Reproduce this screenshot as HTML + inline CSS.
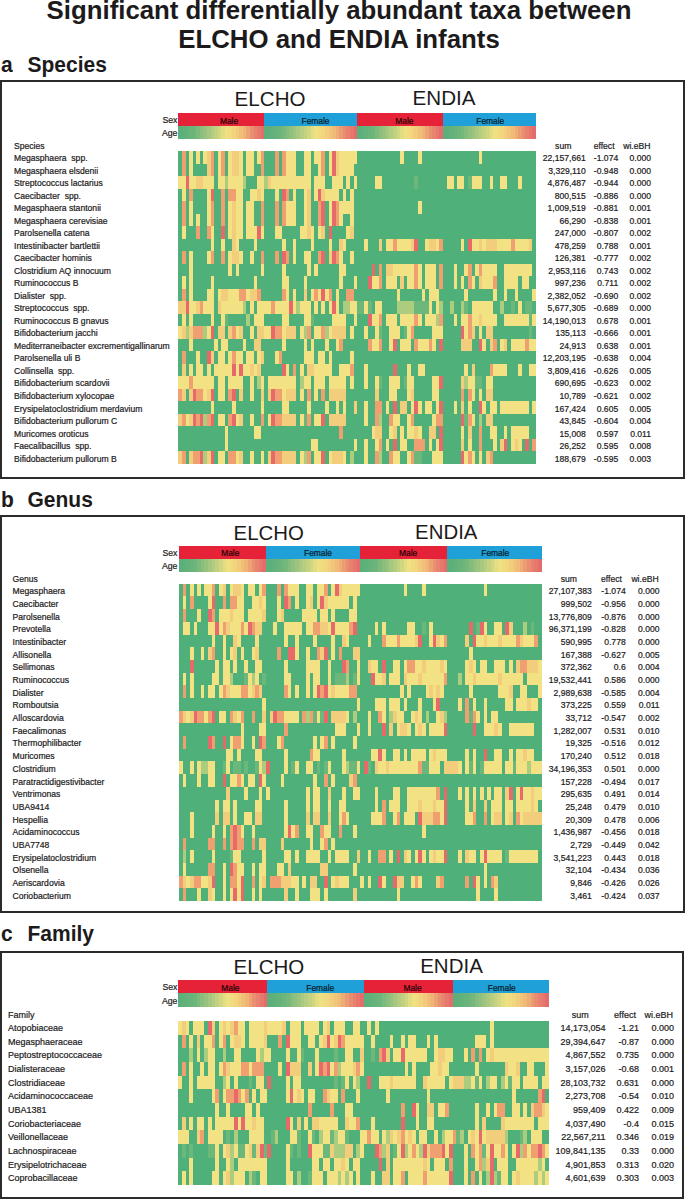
<!DOCTYPE html>
<html><head><meta charset="utf-8"><style>
html,body{margin:0;padding:0;background:#fff;}
body{width:685px;height:1199px;position:relative;overflow:hidden;font-family:"Liberation Sans", sans-serif;color:#1c1a1b;}
.t{position:absolute;white-space:pre;line-height:1;}
.s{-webkit-text-stroke:0.2px currentColor;}
.box{position:absolute;box-sizing:border-box;border:2px solid #2b2b2b;}
.h1{font-weight:bold;font-size:25.8px;left:0;width:678px;text-align:center;}
.sec{font-weight:bold;font-size:21px;}
.bar{position:absolute;}
svg{position:absolute;left:0;top:0;}
</style></head><body>

<svg width="685" height="1199" viewBox="0 0 685 1199" shape-rendering="crispEdges">
<rect x="178.40" y="113.40" width="85.82" height="12.40" fill="#e52238"/>
<rect x="178.40" y="125.80" width="3.63" height="12.80" fill="#5aaf7a"/>
<rect x="181.98" y="125.80" width="3.63" height="12.80" fill="#5fb17a"/>
<rect x="185.55" y="125.80" width="3.63" height="12.80" fill="#64b27b"/>
<rect x="189.13" y="125.80" width="3.63" height="12.80" fill="#69b47b"/>
<rect x="192.70" y="125.80" width="3.63" height="12.80" fill="#6eb57b"/>
<rect x="196.28" y="125.80" width="3.63" height="12.80" fill="#7cba7c"/>
<rect x="199.86" y="125.80" width="3.63" height="12.80" fill="#89be7d"/>
<rect x="203.43" y="125.80" width="3.63" height="12.80" fill="#97c27e"/>
<rect x="207.01" y="125.80" width="3.63" height="12.80" fill="#a6c77f"/>
<rect x="210.58" y="125.80" width="3.63" height="12.80" fill="#b4cc80"/>
<rect x="214.16" y="125.80" width="3.63" height="12.80" fill="#c1d081"/>
<rect x="217.74" y="125.80" width="3.63" height="12.80" fill="#d1d681"/>
<rect x="221.31" y="125.80" width="3.63" height="12.80" fill="#e3dd82"/>
<rect x="224.89" y="125.80" width="3.63" height="12.80" fill="#efe082"/>
<rect x="228.46" y="125.80" width="3.63" height="12.80" fill="#f1da80"/>
<rect x="232.04" y="125.80" width="3.63" height="12.80" fill="#f2d47d"/>
<rect x="235.62" y="125.80" width="3.63" height="12.80" fill="#f1ca7b"/>
<rect x="239.19" y="125.80" width="3.63" height="12.80" fill="#f0bf78"/>
<rect x="242.77" y="125.80" width="3.63" height="12.80" fill="#efb476"/>
<rect x="246.34" y="125.80" width="3.63" height="12.80" fill="#eca273"/>
<rect x="249.92" y="125.80" width="3.63" height="12.80" fill="#ea9071"/>
<rect x="253.50" y="125.80" width="3.63" height="12.80" fill="#e8836f"/>
<rect x="257.07" y="125.80" width="3.63" height="12.80" fill="#e6786d"/>
<rect x="260.65" y="125.80" width="3.63" height="12.80" fill="#e46c6b"/>
<rect x="264.22" y="113.40" width="92.98" height="12.40" fill="#1fa0d8"/>
<rect x="264.22" y="125.80" width="3.63" height="12.80" fill="#5aaf7a"/>
<rect x="267.80" y="125.80" width="3.63" height="12.80" fill="#5eb07a"/>
<rect x="271.38" y="125.80" width="3.63" height="12.80" fill="#63b27a"/>
<rect x="274.95" y="125.80" width="3.63" height="12.80" fill="#67b37b"/>
<rect x="278.53" y="125.80" width="3.63" height="12.80" fill="#6cb57b"/>
<rect x="282.10" y="125.80" width="3.63" height="12.80" fill="#76b87c"/>
<rect x="285.68" y="125.80" width="3.63" height="12.80" fill="#83bc7d"/>
<rect x="289.26" y="125.80" width="3.63" height="12.80" fill="#8fc07e"/>
<rect x="292.83" y="125.80" width="3.63" height="12.80" fill="#9cc47e"/>
<rect x="296.41" y="125.80" width="3.63" height="12.80" fill="#aac980"/>
<rect x="299.98" y="125.80" width="3.63" height="12.80" fill="#b7cd80"/>
<rect x="303.56" y="125.80" width="3.63" height="12.80" fill="#c3d181"/>
<rect x="307.14" y="125.80" width="3.63" height="12.80" fill="#d1d681"/>
<rect x="310.71" y="125.80" width="3.63" height="12.80" fill="#e2dd82"/>
<rect x="314.29" y="125.80" width="3.63" height="12.80" fill="#efe182"/>
<rect x="317.86" y="125.80" width="3.63" height="12.80" fill="#f0db80"/>
<rect x="321.44" y="125.80" width="3.63" height="12.80" fill="#f1d67e"/>
<rect x="325.02" y="125.80" width="3.63" height="12.80" fill="#f2ce7c"/>
<rect x="328.59" y="125.80" width="3.63" height="12.80" fill="#f0c47a"/>
<rect x="332.17" y="125.80" width="3.63" height="12.80" fill="#f0ba77"/>
<rect x="335.74" y="125.80" width="3.63" height="12.80" fill="#eead75"/>
<rect x="339.32" y="125.80" width="3.63" height="12.80" fill="#eb9c72"/>
<rect x="342.90" y="125.80" width="3.63" height="12.80" fill="#e98c70"/>
<rect x="346.47" y="125.80" width="3.63" height="12.80" fill="#e7816e"/>
<rect x="350.05" y="125.80" width="3.63" height="12.80" fill="#e6776d"/>
<rect x="353.62" y="125.80" width="3.63" height="12.80" fill="#e46c6b"/>
<rect x="357.20" y="113.40" width="85.82" height="12.40" fill="#e52238"/>
<rect x="357.20" y="125.80" width="3.63" height="12.80" fill="#5aaf7a"/>
<rect x="360.78" y="125.80" width="3.63" height="12.80" fill="#5fb17a"/>
<rect x="364.35" y="125.80" width="3.63" height="12.80" fill="#64b27b"/>
<rect x="367.93" y="125.80" width="3.63" height="12.80" fill="#69b47b"/>
<rect x="371.50" y="125.80" width="3.63" height="12.80" fill="#6eb57b"/>
<rect x="375.08" y="125.80" width="3.63" height="12.80" fill="#7cba7c"/>
<rect x="378.66" y="125.80" width="3.63" height="12.80" fill="#89be7d"/>
<rect x="382.23" y="125.80" width="3.63" height="12.80" fill="#97c27e"/>
<rect x="385.81" y="125.80" width="3.63" height="12.80" fill="#a6c77f"/>
<rect x="389.38" y="125.80" width="3.63" height="12.80" fill="#b4cc80"/>
<rect x="392.96" y="125.80" width="3.63" height="12.80" fill="#c1d081"/>
<rect x="396.54" y="125.80" width="3.63" height="12.80" fill="#d1d681"/>
<rect x="400.11" y="125.80" width="3.63" height="12.80" fill="#e3dd82"/>
<rect x="403.69" y="125.80" width="3.63" height="12.80" fill="#efe082"/>
<rect x="407.26" y="125.80" width="3.63" height="12.80" fill="#f1da80"/>
<rect x="410.84" y="125.80" width="3.63" height="12.80" fill="#f2d47d"/>
<rect x="414.42" y="125.80" width="3.63" height="12.80" fill="#f1ca7b"/>
<rect x="417.99" y="125.80" width="3.63" height="12.80" fill="#f0bf78"/>
<rect x="421.57" y="125.80" width="3.63" height="12.80" fill="#efb476"/>
<rect x="425.14" y="125.80" width="3.63" height="12.80" fill="#eca273"/>
<rect x="428.72" y="125.80" width="3.63" height="12.80" fill="#ea9071"/>
<rect x="432.30" y="125.80" width="3.63" height="12.80" fill="#e8836f"/>
<rect x="435.87" y="125.80" width="3.63" height="12.80" fill="#e6786d"/>
<rect x="439.45" y="125.80" width="3.63" height="12.80" fill="#e46c6b"/>
<rect x="443.02" y="113.40" width="92.98" height="12.40" fill="#1fa0d8"/>
<rect x="443.02" y="125.80" width="3.63" height="12.80" fill="#5aaf7a"/>
<rect x="446.60" y="125.80" width="3.63" height="12.80" fill="#5eb07a"/>
<rect x="450.18" y="125.80" width="3.63" height="12.80" fill="#63b27a"/>
<rect x="453.75" y="125.80" width="3.63" height="12.80" fill="#67b37b"/>
<rect x="457.33" y="125.80" width="3.63" height="12.80" fill="#6cb57b"/>
<rect x="460.90" y="125.80" width="3.63" height="12.80" fill="#76b87c"/>
<rect x="464.48" y="125.80" width="3.63" height="12.80" fill="#83bc7d"/>
<rect x="468.06" y="125.80" width="3.63" height="12.80" fill="#8fc07e"/>
<rect x="471.63" y="125.80" width="3.63" height="12.80" fill="#9cc47e"/>
<rect x="475.21" y="125.80" width="3.63" height="12.80" fill="#aac980"/>
<rect x="478.78" y="125.80" width="3.63" height="12.80" fill="#b7cd80"/>
<rect x="482.36" y="125.80" width="3.63" height="12.80" fill="#c3d181"/>
<rect x="485.94" y="125.80" width="3.63" height="12.80" fill="#d1d681"/>
<rect x="489.51" y="125.80" width="3.63" height="12.80" fill="#e2dd82"/>
<rect x="493.09" y="125.80" width="3.63" height="12.80" fill="#efe182"/>
<rect x="496.66" y="125.80" width="3.63" height="12.80" fill="#f0db80"/>
<rect x="500.24" y="125.80" width="3.63" height="12.80" fill="#f1d67e"/>
<rect x="503.82" y="125.80" width="3.63" height="12.80" fill="#f2ce7c"/>
<rect x="507.39" y="125.80" width="3.63" height="12.80" fill="#f0c47a"/>
<rect x="510.97" y="125.80" width="3.63" height="12.80" fill="#f0ba77"/>
<rect x="514.54" y="125.80" width="3.63" height="12.80" fill="#eead75"/>
<rect x="518.12" y="125.80" width="3.63" height="12.80" fill="#eb9c72"/>
<rect x="521.70" y="125.80" width="3.63" height="12.80" fill="#e98c70"/>
<rect x="525.27" y="125.80" width="3.63" height="12.80" fill="#e7816e"/>
<rect x="528.85" y="125.80" width="3.63" height="12.80" fill="#e6776d"/>
<rect x="532.42" y="125.80" width="3.63" height="12.80" fill="#e46c6b"/>
<rect x="178.40" y="151.00" width="4.28" height="13.22" fill="#50b07a"/>
<rect x="181.98" y="151.00" width="4.28" height="13.22" fill="#f0a070"/>
<rect x="185.55" y="151.00" width="4.28" height="13.22" fill="#50b07a"/>
<rect x="189.13" y="151.00" width="4.28" height="13.22" fill="#f3e283"/>
<rect x="192.70" y="151.00" width="4.28" height="13.22" fill="#50b07a"/>
<rect x="196.28" y="151.00" width="4.28" height="13.22" fill="#f3e283"/>
<rect x="199.86" y="151.00" width="4.28" height="13.22" fill="#50b07a"/>
<rect x="203.43" y="151.00" width="4.28" height="13.22" fill="#f3e283"/>
<rect x="207.01" y="151.00" width="4.28" height="13.22" fill="#f2ce7c"/>
<rect x="210.58" y="151.00" width="4.28" height="13.22" fill="#f0a070"/>
<rect x="214.16" y="151.00" width="4.28" height="13.22" fill="#50b07a"/>
<rect x="217.74" y="151.00" width="4.28" height="13.22" fill="#f3e283"/>
<rect x="221.31" y="151.00" width="4.28" height="13.22" fill="#f0a070"/>
<rect x="224.89" y="151.00" width="4.28" height="13.22" fill="#50b07a"/>
<rect x="228.46" y="151.00" width="4.28" height="13.22" fill="#f3e283"/>
<rect x="232.04" y="151.00" width="7.85" height="13.22" fill="#f2ce7c"/>
<rect x="239.19" y="151.00" width="4.28" height="13.22" fill="#f3e283"/>
<rect x="242.77" y="151.00" width="4.28" height="13.22" fill="#50b07a"/>
<rect x="246.34" y="151.00" width="7.85" height="13.22" fill="#f3e283"/>
<rect x="253.50" y="151.00" width="4.28" height="13.22" fill="#50b07a"/>
<rect x="257.07" y="151.00" width="4.28" height="13.22" fill="#f3e283"/>
<rect x="260.65" y="151.00" width="4.28" height="13.22" fill="#f0a070"/>
<rect x="264.22" y="151.00" width="11.43" height="13.22" fill="#50b07a"/>
<rect x="274.95" y="151.00" width="4.28" height="13.22" fill="#f0a070"/>
<rect x="278.53" y="151.00" width="4.28" height="13.22" fill="#50b07a"/>
<rect x="282.10" y="151.00" width="4.28" height="13.22" fill="#f0a070"/>
<rect x="285.68" y="151.00" width="11.43" height="13.22" fill="#f3e283"/>
<rect x="296.41" y="151.00" width="7.85" height="13.22" fill="#50b07a"/>
<rect x="303.56" y="151.00" width="7.85" height="13.22" fill="#f3e283"/>
<rect x="310.71" y="151.00" width="4.28" height="13.22" fill="#50b07a"/>
<rect x="314.29" y="151.00" width="7.85" height="13.22" fill="#f3e283"/>
<rect x="321.44" y="151.00" width="4.28" height="13.22" fill="#f0a070"/>
<rect x="325.02" y="151.00" width="4.28" height="13.22" fill="#50b07a"/>
<rect x="328.59" y="151.00" width="4.28" height="13.22" fill="#f3e283"/>
<rect x="332.17" y="151.00" width="4.28" height="13.22" fill="#e76a6a"/>
<rect x="335.74" y="151.00" width="4.28" height="13.22" fill="#f2ce7c"/>
<rect x="339.32" y="151.00" width="18.58" height="13.22" fill="#f3e283"/>
<rect x="357.20" y="151.00" width="43.61" height="13.22" fill="#50b07a"/>
<rect x="400.11" y="151.00" width="4.28" height="13.22" fill="#f3e283"/>
<rect x="403.69" y="151.00" width="15.00" height="13.22" fill="#50b07a"/>
<rect x="417.99" y="151.00" width="4.28" height="13.22" fill="#f3e283"/>
<rect x="421.57" y="151.00" width="57.92" height="13.22" fill="#50b07a"/>
<rect x="478.78" y="151.00" width="4.28" height="13.22" fill="#f3e283"/>
<rect x="482.36" y="151.00" width="53.64" height="13.22" fill="#50b07a"/>
<rect x="178.40" y="163.52" width="4.28" height="13.22" fill="#50b07a"/>
<rect x="181.98" y="163.52" width="4.28" height="13.22" fill="#f0a070"/>
<rect x="185.55" y="163.52" width="4.28" height="13.22" fill="#50b07a"/>
<rect x="189.13" y="163.52" width="4.28" height="13.22" fill="#f3e283"/>
<rect x="192.70" y="163.52" width="15.00" height="13.22" fill="#50b07a"/>
<rect x="207.01" y="163.52" width="4.28" height="13.22" fill="#f2ce7c"/>
<rect x="210.58" y="163.52" width="4.28" height="13.22" fill="#f0a070"/>
<rect x="214.16" y="163.52" width="4.28" height="13.22" fill="#50b07a"/>
<rect x="217.74" y="163.52" width="4.28" height="13.22" fill="#f3e283"/>
<rect x="221.31" y="163.52" width="4.28" height="13.22" fill="#f0a070"/>
<rect x="224.89" y="163.52" width="4.28" height="13.22" fill="#50b07a"/>
<rect x="228.46" y="163.52" width="4.28" height="13.22" fill="#f3e283"/>
<rect x="232.04" y="163.52" width="7.85" height="13.22" fill="#f2ce7c"/>
<rect x="239.19" y="163.52" width="4.28" height="13.22" fill="#f3e283"/>
<rect x="242.77" y="163.52" width="4.28" height="13.22" fill="#50b07a"/>
<rect x="246.34" y="163.52" width="7.85" height="13.22" fill="#f3e283"/>
<rect x="253.50" y="163.52" width="7.85" height="13.22" fill="#50b07a"/>
<rect x="260.65" y="163.52" width="4.28" height="13.22" fill="#f0a070"/>
<rect x="264.22" y="163.52" width="11.43" height="13.22" fill="#50b07a"/>
<rect x="274.95" y="163.52" width="4.28" height="13.22" fill="#f0a070"/>
<rect x="278.53" y="163.52" width="4.28" height="13.22" fill="#50b07a"/>
<rect x="282.10" y="163.52" width="4.28" height="13.22" fill="#f0a070"/>
<rect x="285.68" y="163.52" width="11.43" height="13.22" fill="#f3e283"/>
<rect x="296.41" y="163.52" width="7.85" height="13.22" fill="#50b07a"/>
<rect x="303.56" y="163.52" width="7.85" height="13.22" fill="#f3e283"/>
<rect x="310.71" y="163.52" width="7.85" height="13.22" fill="#50b07a"/>
<rect x="317.86" y="163.52" width="4.28" height="13.22" fill="#f3e283"/>
<rect x="321.44" y="163.52" width="4.28" height="13.22" fill="#f0a070"/>
<rect x="325.02" y="163.52" width="4.28" height="13.22" fill="#50b07a"/>
<rect x="328.59" y="163.52" width="4.28" height="13.22" fill="#f3e283"/>
<rect x="332.17" y="163.52" width="4.28" height="13.22" fill="#e76a6a"/>
<rect x="335.74" y="163.52" width="4.28" height="13.22" fill="#f2ce7c"/>
<rect x="339.32" y="163.52" width="15.00" height="13.22" fill="#f3e283"/>
<rect x="353.62" y="163.52" width="182.38" height="13.22" fill="#50b07a"/>
<rect x="178.40" y="176.04" width="7.85" height="13.22" fill="#f3e283"/>
<rect x="185.55" y="176.04" width="4.28" height="13.22" fill="#e76a6a"/>
<rect x="189.13" y="176.04" width="7.85" height="13.22" fill="#f3e283"/>
<rect x="196.28" y="176.04" width="7.85" height="13.22" fill="#f2ce7c"/>
<rect x="203.43" y="176.04" width="11.43" height="13.22" fill="#f3e283"/>
<rect x="214.16" y="176.04" width="4.28" height="13.22" fill="#50b07a"/>
<rect x="217.74" y="176.04" width="7.85" height="13.22" fill="#f3e283"/>
<rect x="224.89" y="176.04" width="4.28" height="13.22" fill="#accc7e"/>
<rect x="228.46" y="176.04" width="15.00" height="13.22" fill="#f3e283"/>
<rect x="242.77" y="176.04" width="4.28" height="13.22" fill="#accc7e"/>
<rect x="246.34" y="176.04" width="11.43" height="13.22" fill="#50b07a"/>
<rect x="257.07" y="176.04" width="7.85" height="13.22" fill="#f3e283"/>
<rect x="264.22" y="176.04" width="4.28" height="13.22" fill="#accc7e"/>
<rect x="267.80" y="176.04" width="4.28" height="13.22" fill="#f2ce7c"/>
<rect x="271.38" y="176.04" width="40.04" height="13.22" fill="#f3e283"/>
<rect x="310.71" y="176.04" width="4.28" height="13.22" fill="#50b07a"/>
<rect x="314.29" y="176.04" width="11.43" height="13.22" fill="#f3e283"/>
<rect x="325.02" y="176.04" width="7.85" height="13.22" fill="#50b07a"/>
<rect x="332.17" y="176.04" width="11.43" height="13.22" fill="#f3e283"/>
<rect x="342.90" y="176.04" width="4.28" height="13.22" fill="#50b07a"/>
<rect x="346.47" y="176.04" width="4.28" height="13.22" fill="#f3e283"/>
<rect x="350.05" y="176.04" width="4.28" height="13.22" fill="#50b07a"/>
<rect x="353.62" y="176.04" width="4.28" height="13.22" fill="#f3e283"/>
<rect x="357.20" y="176.04" width="18.58" height="13.22" fill="#50b07a"/>
<rect x="375.08" y="176.04" width="7.85" height="13.22" fill="#f3e283"/>
<rect x="382.23" y="176.04" width="32.88" height="13.22" fill="#50b07a"/>
<rect x="414.42" y="176.04" width="4.28" height="13.22" fill="#6cb87b"/>
<rect x="417.99" y="176.04" width="29.31" height="13.22" fill="#50b07a"/>
<rect x="446.60" y="176.04" width="7.85" height="13.22" fill="#f3e283"/>
<rect x="453.75" y="176.04" width="4.28" height="13.22" fill="#50b07a"/>
<rect x="457.33" y="176.04" width="7.85" height="13.22" fill="#f3e283"/>
<rect x="464.48" y="176.04" width="4.28" height="13.22" fill="#50b07a"/>
<rect x="468.06" y="176.04" width="4.28" height="13.22" fill="#6cb87b"/>
<rect x="471.63" y="176.04" width="11.43" height="13.22" fill="#f3e283"/>
<rect x="482.36" y="176.04" width="7.85" height="13.22" fill="#50b07a"/>
<rect x="489.51" y="176.04" width="4.28" height="13.22" fill="#f3e283"/>
<rect x="493.09" y="176.04" width="7.85" height="13.22" fill="#50b07a"/>
<rect x="500.24" y="176.04" width="7.85" height="13.22" fill="#f3e283"/>
<rect x="507.39" y="176.04" width="11.43" height="13.22" fill="#50b07a"/>
<rect x="518.12" y="176.04" width="4.28" height="13.22" fill="#f3e283"/>
<rect x="521.70" y="176.04" width="14.30" height="13.22" fill="#50b07a"/>
<rect x="178.40" y="188.56" width="4.28" height="13.22" fill="#50b07a"/>
<rect x="181.98" y="188.56" width="4.28" height="13.22" fill="#f3e283"/>
<rect x="185.55" y="188.56" width="4.28" height="13.22" fill="#50b07a"/>
<rect x="189.13" y="188.56" width="4.28" height="13.22" fill="#f0a070"/>
<rect x="192.70" y="188.56" width="15.00" height="13.22" fill="#50b07a"/>
<rect x="207.01" y="188.56" width="4.28" height="13.22" fill="#f3e283"/>
<rect x="210.58" y="188.56" width="4.28" height="13.22" fill="#e76a6a"/>
<rect x="214.16" y="188.56" width="7.85" height="13.22" fill="#50b07a"/>
<rect x="221.31" y="188.56" width="4.28" height="13.22" fill="#f0a070"/>
<rect x="224.89" y="188.56" width="4.28" height="13.22" fill="#50b07a"/>
<rect x="228.46" y="188.56" width="7.85" height="13.22" fill="#f0a070"/>
<rect x="235.62" y="188.56" width="7.85" height="13.22" fill="#f3e283"/>
<rect x="242.77" y="188.56" width="7.85" height="13.22" fill="#50b07a"/>
<rect x="249.92" y="188.56" width="7.85" height="13.22" fill="#f3e283"/>
<rect x="257.07" y="188.56" width="4.28" height="13.22" fill="#f2ce7c"/>
<rect x="260.65" y="188.56" width="4.28" height="13.22" fill="#f3e283"/>
<rect x="264.22" y="188.56" width="11.43" height="13.22" fill="#50b07a"/>
<rect x="274.95" y="188.56" width="4.28" height="13.22" fill="#f3e283"/>
<rect x="278.53" y="188.56" width="4.28" height="13.22" fill="#50b07a"/>
<rect x="282.10" y="188.56" width="4.28" height="13.22" fill="#e76a6a"/>
<rect x="285.68" y="188.56" width="4.28" height="13.22" fill="#f0a070"/>
<rect x="289.26" y="188.56" width="4.28" height="13.22" fill="#50b07a"/>
<rect x="292.83" y="188.56" width="4.28" height="13.22" fill="#f3e283"/>
<rect x="296.41" y="188.56" width="7.85" height="13.22" fill="#50b07a"/>
<rect x="303.56" y="188.56" width="4.28" height="13.22" fill="#f3e283"/>
<rect x="307.14" y="188.56" width="4.28" height="13.22" fill="#f2ce7c"/>
<rect x="310.71" y="188.56" width="4.28" height="13.22" fill="#50b07a"/>
<rect x="314.29" y="188.56" width="4.28" height="13.22" fill="#f3e283"/>
<rect x="317.86" y="188.56" width="4.28" height="13.22" fill="#e76a6a"/>
<rect x="321.44" y="188.56" width="4.28" height="13.22" fill="#f2ce7c"/>
<rect x="325.02" y="188.56" width="15.00" height="13.22" fill="#f3e283"/>
<rect x="339.32" y="188.56" width="4.28" height="13.22" fill="#50b07a"/>
<rect x="342.90" y="188.56" width="4.28" height="13.22" fill="#f3e283"/>
<rect x="346.47" y="188.56" width="4.28" height="13.22" fill="#50b07a"/>
<rect x="350.05" y="188.56" width="4.28" height="13.22" fill="#f3e283"/>
<rect x="353.62" y="188.56" width="182.38" height="13.22" fill="#50b07a"/>
<rect x="178.40" y="201.08" width="4.28" height="13.22" fill="#50b07a"/>
<rect x="181.98" y="201.08" width="4.28" height="13.22" fill="#f0a070"/>
<rect x="185.55" y="201.08" width="4.28" height="13.22" fill="#50b07a"/>
<rect x="189.13" y="201.08" width="4.28" height="13.22" fill="#f3e283"/>
<rect x="192.70" y="201.08" width="15.00" height="13.22" fill="#50b07a"/>
<rect x="207.01" y="201.08" width="4.28" height="13.22" fill="#f3e283"/>
<rect x="210.58" y="201.08" width="4.28" height="13.22" fill="#f0a070"/>
<rect x="214.16" y="201.08" width="7.85" height="13.22" fill="#50b07a"/>
<rect x="221.31" y="201.08" width="4.28" height="13.22" fill="#f0a070"/>
<rect x="224.89" y="201.08" width="4.28" height="13.22" fill="#50b07a"/>
<rect x="228.46" y="201.08" width="4.28" height="13.22" fill="#f3e283"/>
<rect x="232.04" y="201.08" width="4.28" height="13.22" fill="#f2ce7c"/>
<rect x="235.62" y="201.08" width="7.85" height="13.22" fill="#f3e283"/>
<rect x="242.77" y="201.08" width="4.28" height="13.22" fill="#50b07a"/>
<rect x="246.34" y="201.08" width="7.85" height="13.22" fill="#f3e283"/>
<rect x="253.50" y="201.08" width="7.85" height="13.22" fill="#50b07a"/>
<rect x="260.65" y="201.08" width="4.28" height="13.22" fill="#f0a070"/>
<rect x="264.22" y="201.08" width="11.43" height="13.22" fill="#50b07a"/>
<rect x="274.95" y="201.08" width="4.28" height="13.22" fill="#f0a070"/>
<rect x="278.53" y="201.08" width="4.28" height="13.22" fill="#50b07a"/>
<rect x="282.10" y="201.08" width="4.28" height="13.22" fill="#f0a070"/>
<rect x="285.68" y="201.08" width="11.43" height="13.22" fill="#f3e283"/>
<rect x="296.41" y="201.08" width="7.85" height="13.22" fill="#50b07a"/>
<rect x="303.56" y="201.08" width="4.28" height="13.22" fill="#f3e283"/>
<rect x="307.14" y="201.08" width="4.28" height="13.22" fill="#f2ce7c"/>
<rect x="310.71" y="201.08" width="7.85" height="13.22" fill="#50b07a"/>
<rect x="317.86" y="201.08" width="4.28" height="13.22" fill="#f0a070"/>
<rect x="321.44" y="201.08" width="4.28" height="13.22" fill="#e76a6a"/>
<rect x="325.02" y="201.08" width="4.28" height="13.22" fill="#50b07a"/>
<rect x="328.59" y="201.08" width="4.28" height="13.22" fill="#f3e283"/>
<rect x="332.17" y="201.08" width="4.28" height="13.22" fill="#e76a6a"/>
<rect x="335.74" y="201.08" width="4.28" height="13.22" fill="#f0a070"/>
<rect x="339.32" y="201.08" width="15.00" height="13.22" fill="#f3e283"/>
<rect x="353.62" y="201.08" width="65.07" height="13.22" fill="#50b07a"/>
<rect x="417.99" y="201.08" width="4.28" height="13.22" fill="#f3e283"/>
<rect x="421.57" y="201.08" width="114.43" height="13.22" fill="#50b07a"/>
<rect x="178.40" y="213.60" width="4.28" height="13.22" fill="#50b07a"/>
<rect x="181.98" y="213.60" width="4.28" height="13.22" fill="#f0a070"/>
<rect x="185.55" y="213.60" width="4.28" height="13.22" fill="#50b07a"/>
<rect x="189.13" y="213.60" width="4.28" height="13.22" fill="#f3e283"/>
<rect x="192.70" y="213.60" width="4.28" height="13.22" fill="#50b07a"/>
<rect x="196.28" y="213.60" width="4.28" height="13.22" fill="#f3e283"/>
<rect x="199.86" y="213.60" width="7.85" height="13.22" fill="#50b07a"/>
<rect x="207.01" y="213.60" width="4.28" height="13.22" fill="#f3e283"/>
<rect x="210.58" y="213.60" width="4.28" height="13.22" fill="#f0a070"/>
<rect x="214.16" y="213.60" width="7.85" height="13.22" fill="#50b07a"/>
<rect x="221.31" y="213.60" width="4.28" height="13.22" fill="#f0a070"/>
<rect x="224.89" y="213.60" width="4.28" height="13.22" fill="#50b07a"/>
<rect x="228.46" y="213.60" width="4.28" height="13.22" fill="#f3e283"/>
<rect x="232.04" y="213.60" width="4.28" height="13.22" fill="#f2ce7c"/>
<rect x="235.62" y="213.60" width="7.85" height="13.22" fill="#f3e283"/>
<rect x="242.77" y="213.60" width="4.28" height="13.22" fill="#50b07a"/>
<rect x="246.34" y="213.60" width="7.85" height="13.22" fill="#f3e283"/>
<rect x="253.50" y="213.60" width="7.85" height="13.22" fill="#50b07a"/>
<rect x="260.65" y="213.60" width="4.28" height="13.22" fill="#f0a070"/>
<rect x="264.22" y="213.60" width="11.43" height="13.22" fill="#50b07a"/>
<rect x="274.95" y="213.60" width="4.28" height="13.22" fill="#f0a070"/>
<rect x="278.53" y="213.60" width="4.28" height="13.22" fill="#50b07a"/>
<rect x="282.10" y="213.60" width="4.28" height="13.22" fill="#f0a070"/>
<rect x="285.68" y="213.60" width="11.43" height="13.22" fill="#f3e283"/>
<rect x="296.41" y="213.60" width="7.85" height="13.22" fill="#50b07a"/>
<rect x="303.56" y="213.60" width="4.28" height="13.22" fill="#f3e283"/>
<rect x="307.14" y="213.60" width="4.28" height="13.22" fill="#f2ce7c"/>
<rect x="310.71" y="213.60" width="7.85" height="13.22" fill="#50b07a"/>
<rect x="317.86" y="213.60" width="4.28" height="13.22" fill="#f0a070"/>
<rect x="321.44" y="213.60" width="4.28" height="13.22" fill="#e76a6a"/>
<rect x="325.02" y="213.60" width="4.28" height="13.22" fill="#50b07a"/>
<rect x="328.59" y="213.60" width="4.28" height="13.22" fill="#f3e283"/>
<rect x="332.17" y="213.60" width="4.28" height="13.22" fill="#e76a6a"/>
<rect x="335.74" y="213.60" width="4.28" height="13.22" fill="#f0a070"/>
<rect x="339.32" y="213.60" width="4.28" height="13.22" fill="#f3e283"/>
<rect x="342.90" y="213.60" width="7.85" height="13.22" fill="#50b07a"/>
<rect x="350.05" y="213.60" width="4.28" height="13.22" fill="#f3e283"/>
<rect x="353.62" y="213.60" width="182.38" height="13.22" fill="#50b07a"/>
<rect x="178.40" y="226.12" width="4.28" height="13.22" fill="#50b07a"/>
<rect x="181.98" y="226.12" width="4.28" height="13.22" fill="#f3e283"/>
<rect x="185.55" y="226.12" width="11.43" height="13.22" fill="#50b07a"/>
<rect x="196.28" y="226.12" width="4.28" height="13.22" fill="#f0a070"/>
<rect x="199.86" y="226.12" width="7.85" height="13.22" fill="#50b07a"/>
<rect x="207.01" y="226.12" width="4.28" height="13.22" fill="#f0a070"/>
<rect x="210.58" y="226.12" width="4.28" height="13.22" fill="#f3e283"/>
<rect x="214.16" y="226.12" width="7.85" height="13.22" fill="#50b07a"/>
<rect x="221.31" y="226.12" width="4.28" height="13.22" fill="#e76a6a"/>
<rect x="224.89" y="226.12" width="4.28" height="13.22" fill="#50b07a"/>
<rect x="228.46" y="226.12" width="4.28" height="13.22" fill="#f3e283"/>
<rect x="232.04" y="226.12" width="4.28" height="13.22" fill="#f2ce7c"/>
<rect x="235.62" y="226.12" width="7.85" height="13.22" fill="#f3e283"/>
<rect x="242.77" y="226.12" width="4.28" height="13.22" fill="#50b07a"/>
<rect x="246.34" y="226.12" width="11.43" height="13.22" fill="#f3e283"/>
<rect x="257.07" y="226.12" width="4.28" height="13.22" fill="#e76a6a"/>
<rect x="260.65" y="226.12" width="4.28" height="13.22" fill="#f3e283"/>
<rect x="264.22" y="226.12" width="11.43" height="13.22" fill="#50b07a"/>
<rect x="274.95" y="226.12" width="7.85" height="13.22" fill="#f3e283"/>
<rect x="282.10" y="226.12" width="18.58" height="13.22" fill="#50b07a"/>
<rect x="299.98" y="226.12" width="7.85" height="13.22" fill="#f3e283"/>
<rect x="307.14" y="226.12" width="4.28" height="13.22" fill="#f2ce7c"/>
<rect x="310.71" y="226.12" width="4.28" height="13.22" fill="#f3e283"/>
<rect x="314.29" y="226.12" width="4.28" height="13.22" fill="#50b07a"/>
<rect x="317.86" y="226.12" width="4.28" height="13.22" fill="#f3e283"/>
<rect x="321.44" y="226.12" width="4.28" height="13.22" fill="#f2ce7c"/>
<rect x="325.02" y="226.12" width="4.28" height="13.22" fill="#50b07a"/>
<rect x="328.59" y="226.12" width="4.28" height="13.22" fill="#e76a6a"/>
<rect x="332.17" y="226.12" width="15.00" height="13.22" fill="#50b07a"/>
<rect x="346.47" y="226.12" width="4.28" height="13.22" fill="#f3e283"/>
<rect x="350.05" y="226.12" width="4.28" height="13.22" fill="#f2ce7c"/>
<rect x="353.62" y="226.12" width="182.38" height="13.22" fill="#50b07a"/>
<rect x="178.40" y="238.64" width="32.88" height="13.22" fill="#50b07a"/>
<rect x="210.58" y="238.64" width="4.28" height="13.22" fill="#f3e283"/>
<rect x="214.16" y="238.64" width="7.85" height="13.22" fill="#50b07a"/>
<rect x="221.31" y="238.64" width="4.28" height="13.22" fill="#f3e283"/>
<rect x="224.89" y="238.64" width="7.85" height="13.22" fill="#50b07a"/>
<rect x="232.04" y="238.64" width="4.28" height="13.22" fill="#f2ce7c"/>
<rect x="235.62" y="238.64" width="4.28" height="13.22" fill="#f3e283"/>
<rect x="239.19" y="238.64" width="15.00" height="13.22" fill="#50b07a"/>
<rect x="253.50" y="238.64" width="4.28" height="13.22" fill="#f3e283"/>
<rect x="257.07" y="238.64" width="25.73" height="13.22" fill="#50b07a"/>
<rect x="282.10" y="238.64" width="4.28" height="13.22" fill="#f3e283"/>
<rect x="285.68" y="238.64" width="7.85" height="13.22" fill="#50b07a"/>
<rect x="292.83" y="238.64" width="4.28" height="13.22" fill="#f3e283"/>
<rect x="296.41" y="238.64" width="15.00" height="13.22" fill="#50b07a"/>
<rect x="310.71" y="238.64" width="4.28" height="13.22" fill="#f3e283"/>
<rect x="314.29" y="238.64" width="15.00" height="13.22" fill="#50b07a"/>
<rect x="328.59" y="238.64" width="4.28" height="13.22" fill="#f3e283"/>
<rect x="332.17" y="238.64" width="7.85" height="13.22" fill="#50b07a"/>
<rect x="339.32" y="238.64" width="4.28" height="13.22" fill="#f2ce7c"/>
<rect x="342.90" y="238.64" width="4.28" height="13.22" fill="#f3e283"/>
<rect x="346.47" y="238.64" width="18.58" height="13.22" fill="#50b07a"/>
<rect x="364.35" y="238.64" width="4.28" height="13.22" fill="#f3e283"/>
<rect x="367.93" y="238.64" width="11.43" height="13.22" fill="#50b07a"/>
<rect x="378.66" y="238.64" width="4.28" height="13.22" fill="#f2ce7c"/>
<rect x="382.23" y="238.64" width="4.28" height="13.22" fill="#50b07a"/>
<rect x="385.81" y="238.64" width="7.85" height="13.22" fill="#f3e283"/>
<rect x="392.96" y="238.64" width="4.28" height="13.22" fill="#f0a070"/>
<rect x="396.54" y="238.64" width="15.00" height="13.22" fill="#f3e283"/>
<rect x="410.84" y="238.64" width="4.28" height="13.22" fill="#f2ce7c"/>
<rect x="414.42" y="238.64" width="4.28" height="13.22" fill="#e76a6a"/>
<rect x="417.99" y="238.64" width="7.85" height="13.22" fill="#50b07a"/>
<rect x="425.14" y="238.64" width="4.28" height="13.22" fill="#f3e283"/>
<rect x="428.72" y="238.64" width="7.85" height="13.22" fill="#f2ce7c"/>
<rect x="435.87" y="238.64" width="4.28" height="13.22" fill="#f3e283"/>
<rect x="439.45" y="238.64" width="4.28" height="13.22" fill="#f0a070"/>
<rect x="443.02" y="238.64" width="18.58" height="13.22" fill="#50b07a"/>
<rect x="460.90" y="238.64" width="4.28" height="13.22" fill="#f3e283"/>
<rect x="464.48" y="238.64" width="4.28" height="13.22" fill="#50b07a"/>
<rect x="468.06" y="238.64" width="4.28" height="13.22" fill="#e76a6a"/>
<rect x="471.63" y="238.64" width="7.85" height="13.22" fill="#f3e283"/>
<rect x="478.78" y="238.64" width="4.28" height="13.22" fill="#f2ce7c"/>
<rect x="482.36" y="238.64" width="4.28" height="13.22" fill="#f3e283"/>
<rect x="485.94" y="238.64" width="11.43" height="13.22" fill="#f2ce7c"/>
<rect x="496.66" y="238.64" width="15.00" height="13.22" fill="#f3e283"/>
<rect x="510.97" y="238.64" width="4.28" height="13.22" fill="#f0a070"/>
<rect x="514.54" y="238.64" width="15.00" height="13.22" fill="#f3e283"/>
<rect x="528.85" y="238.64" width="4.28" height="13.22" fill="#f2ce7c"/>
<rect x="532.42" y="238.64" width="3.58" height="13.22" fill="#50b07a"/>
<rect x="178.40" y="251.16" width="4.28" height="13.22" fill="#50b07a"/>
<rect x="181.98" y="251.16" width="4.28" height="13.22" fill="#f0a070"/>
<rect x="185.55" y="251.16" width="4.28" height="13.22" fill="#50b07a"/>
<rect x="189.13" y="251.16" width="4.28" height="13.22" fill="#f3e283"/>
<rect x="192.70" y="251.16" width="15.00" height="13.22" fill="#50b07a"/>
<rect x="207.01" y="251.16" width="4.28" height="13.22" fill="#f3e283"/>
<rect x="210.58" y="251.16" width="4.28" height="13.22" fill="#f0a070"/>
<rect x="214.16" y="251.16" width="7.85" height="13.22" fill="#50b07a"/>
<rect x="221.31" y="251.16" width="4.28" height="13.22" fill="#f0a070"/>
<rect x="224.89" y="251.16" width="4.28" height="13.22" fill="#50b07a"/>
<rect x="228.46" y="251.16" width="4.28" height="13.22" fill="#f3e283"/>
<rect x="232.04" y="251.16" width="7.85" height="13.22" fill="#f2ce7c"/>
<rect x="239.19" y="251.16" width="4.28" height="13.22" fill="#f3e283"/>
<rect x="242.77" y="251.16" width="7.85" height="13.22" fill="#50b07a"/>
<rect x="249.92" y="251.16" width="4.28" height="13.22" fill="#f3e283"/>
<rect x="253.50" y="251.16" width="7.85" height="13.22" fill="#50b07a"/>
<rect x="260.65" y="251.16" width="4.28" height="13.22" fill="#f0a070"/>
<rect x="264.22" y="251.16" width="11.43" height="13.22" fill="#50b07a"/>
<rect x="274.95" y="251.16" width="4.28" height="13.22" fill="#f0a070"/>
<rect x="278.53" y="251.16" width="4.28" height="13.22" fill="#50b07a"/>
<rect x="282.10" y="251.16" width="4.28" height="13.22" fill="#e76a6a"/>
<rect x="285.68" y="251.16" width="4.28" height="13.22" fill="#f0a070"/>
<rect x="289.26" y="251.16" width="4.28" height="13.22" fill="#50b07a"/>
<rect x="292.83" y="251.16" width="4.28" height="13.22" fill="#f3e283"/>
<rect x="296.41" y="251.16" width="7.85" height="13.22" fill="#50b07a"/>
<rect x="303.56" y="251.16" width="7.85" height="13.22" fill="#f3e283"/>
<rect x="310.71" y="251.16" width="7.85" height="13.22" fill="#50b07a"/>
<rect x="317.86" y="251.16" width="4.28" height="13.22" fill="#f0a070"/>
<rect x="321.44" y="251.16" width="4.28" height="13.22" fill="#e76a6a"/>
<rect x="325.02" y="251.16" width="4.28" height="13.22" fill="#50b07a"/>
<rect x="328.59" y="251.16" width="4.28" height="13.22" fill="#f2ce7c"/>
<rect x="332.17" y="251.16" width="4.28" height="13.22" fill="#e76a6a"/>
<rect x="335.74" y="251.16" width="4.28" height="13.22" fill="#f0a070"/>
<rect x="339.32" y="251.16" width="4.28" height="13.22" fill="#f3e283"/>
<rect x="342.90" y="251.16" width="7.85" height="13.22" fill="#50b07a"/>
<rect x="350.05" y="251.16" width="4.28" height="13.22" fill="#f3e283"/>
<rect x="353.62" y="251.16" width="182.38" height="13.22" fill="#50b07a"/>
<rect x="178.40" y="263.68" width="11.43" height="13.22" fill="#50b07a"/>
<rect x="189.13" y="263.68" width="4.28" height="13.22" fill="#f3e283"/>
<rect x="192.70" y="263.68" width="36.46" height="13.22" fill="#50b07a"/>
<rect x="228.46" y="263.68" width="4.28" height="13.22" fill="#f3e283"/>
<rect x="232.04" y="263.68" width="4.28" height="13.22" fill="#50b07a"/>
<rect x="235.62" y="263.68" width="4.28" height="13.22" fill="#f3e283"/>
<rect x="239.19" y="263.68" width="22.16" height="13.22" fill="#50b07a"/>
<rect x="260.65" y="263.68" width="4.28" height="13.22" fill="#f3e283"/>
<rect x="264.22" y="263.68" width="18.58" height="13.22" fill="#50b07a"/>
<rect x="282.10" y="263.68" width="4.28" height="13.22" fill="#f3e283"/>
<rect x="285.68" y="263.68" width="22.16" height="13.22" fill="#50b07a"/>
<rect x="307.14" y="263.68" width="4.28" height="13.22" fill="#f3e283"/>
<rect x="310.71" y="263.68" width="4.28" height="13.22" fill="#50b07a"/>
<rect x="314.29" y="263.68" width="4.28" height="13.22" fill="#f3e283"/>
<rect x="317.86" y="263.68" width="22.16" height="13.22" fill="#50b07a"/>
<rect x="339.32" y="263.68" width="7.85" height="13.22" fill="#f3e283"/>
<rect x="346.47" y="263.68" width="25.73" height="13.22" fill="#50b07a"/>
<rect x="371.50" y="263.68" width="4.28" height="13.22" fill="#e76a6a"/>
<rect x="375.08" y="263.68" width="4.28" height="13.22" fill="#50b07a"/>
<rect x="378.66" y="263.68" width="4.28" height="13.22" fill="#f0a070"/>
<rect x="382.23" y="263.68" width="4.28" height="13.22" fill="#50b07a"/>
<rect x="385.81" y="263.68" width="7.85" height="13.22" fill="#f2ce7c"/>
<rect x="392.96" y="263.68" width="22.16" height="13.22" fill="#f3e283"/>
<rect x="414.42" y="263.68" width="4.28" height="13.22" fill="#f0a070"/>
<rect x="417.99" y="263.68" width="4.28" height="13.22" fill="#f3e283"/>
<rect x="421.57" y="263.68" width="4.28" height="13.22" fill="#50b07a"/>
<rect x="425.14" y="263.68" width="11.43" height="13.22" fill="#f3e283"/>
<rect x="435.87" y="263.68" width="4.28" height="13.22" fill="#50b07a"/>
<rect x="439.45" y="263.68" width="4.28" height="13.22" fill="#f0a070"/>
<rect x="443.02" y="263.68" width="11.43" height="13.22" fill="#50b07a"/>
<rect x="453.75" y="263.68" width="4.28" height="13.22" fill="#f3e283"/>
<rect x="457.33" y="263.68" width="7.85" height="13.22" fill="#50b07a"/>
<rect x="464.48" y="263.68" width="4.28" height="13.22" fill="#f3e283"/>
<rect x="468.06" y="263.68" width="4.28" height="13.22" fill="#f0a070"/>
<rect x="471.63" y="263.68" width="4.28" height="13.22" fill="#50b07a"/>
<rect x="475.21" y="263.68" width="4.28" height="13.22" fill="#f3e283"/>
<rect x="478.78" y="263.68" width="4.28" height="13.22" fill="#f0a070"/>
<rect x="482.36" y="263.68" width="15.00" height="13.22" fill="#f3e283"/>
<rect x="496.66" y="263.68" width="7.85" height="13.22" fill="#50b07a"/>
<rect x="503.82" y="263.68" width="29.31" height="13.22" fill="#f3e283"/>
<rect x="532.42" y="263.68" width="3.58" height="13.22" fill="#50b07a"/>
<rect x="178.40" y="276.20" width="4.28" height="13.22" fill="#50b07a"/>
<rect x="181.98" y="276.20" width="4.28" height="13.22" fill="#f3e283"/>
<rect x="185.55" y="276.20" width="4.28" height="13.22" fill="#50b07a"/>
<rect x="189.13" y="276.20" width="4.28" height="13.22" fill="#f3e283"/>
<rect x="192.70" y="276.20" width="18.58" height="13.22" fill="#50b07a"/>
<rect x="210.58" y="276.20" width="4.28" height="13.22" fill="#f3e283"/>
<rect x="214.16" y="276.20" width="40.04" height="13.22" fill="#50b07a"/>
<rect x="253.50" y="276.20" width="4.28" height="13.22" fill="#f3e283"/>
<rect x="257.07" y="276.20" width="25.73" height="13.22" fill="#50b07a"/>
<rect x="282.10" y="276.20" width="7.85" height="13.22" fill="#f3e283"/>
<rect x="289.26" y="276.20" width="15.00" height="13.22" fill="#50b07a"/>
<rect x="303.56" y="276.20" width="4.28" height="13.22" fill="#f3e283"/>
<rect x="307.14" y="276.20" width="32.88" height="13.22" fill="#50b07a"/>
<rect x="339.32" y="276.20" width="4.28" height="13.22" fill="#f3e283"/>
<rect x="342.90" y="276.20" width="11.43" height="13.22" fill="#50b07a"/>
<rect x="353.62" y="276.20" width="4.28" height="13.22" fill="#f3e283"/>
<rect x="357.20" y="276.20" width="11.43" height="13.22" fill="#50b07a"/>
<rect x="367.93" y="276.20" width="4.28" height="13.22" fill="#e76a6a"/>
<rect x="371.50" y="276.20" width="7.85" height="13.22" fill="#f3e283"/>
<rect x="378.66" y="276.20" width="4.28" height="13.22" fill="#f0a070"/>
<rect x="382.23" y="276.20" width="4.28" height="13.22" fill="#50b07a"/>
<rect x="385.81" y="276.20" width="11.43" height="13.22" fill="#f3e283"/>
<rect x="396.54" y="276.20" width="4.28" height="13.22" fill="#50b07a"/>
<rect x="400.11" y="276.20" width="4.28" height="13.22" fill="#f2ce7c"/>
<rect x="403.69" y="276.20" width="4.28" height="13.22" fill="#50b07a"/>
<rect x="407.26" y="276.20" width="7.85" height="13.22" fill="#f3e283"/>
<rect x="414.42" y="276.20" width="4.28" height="13.22" fill="#f0a070"/>
<rect x="417.99" y="276.20" width="4.28" height="13.22" fill="#f3e283"/>
<rect x="421.57" y="276.20" width="4.28" height="13.22" fill="#50b07a"/>
<rect x="425.14" y="276.20" width="11.43" height="13.22" fill="#f3e283"/>
<rect x="435.87" y="276.20" width="4.28" height="13.22" fill="#50b07a"/>
<rect x="439.45" y="276.20" width="4.28" height="13.22" fill="#f0a070"/>
<rect x="443.02" y="276.20" width="11.43" height="13.22" fill="#50b07a"/>
<rect x="453.75" y="276.20" width="4.28" height="13.22" fill="#f3e283"/>
<rect x="457.33" y="276.20" width="4.28" height="13.22" fill="#50b07a"/>
<rect x="460.90" y="276.20" width="4.28" height="13.22" fill="#f3e283"/>
<rect x="464.48" y="276.20" width="4.28" height="13.22" fill="#50b07a"/>
<rect x="468.06" y="276.20" width="4.28" height="13.22" fill="#f0a070"/>
<rect x="471.63" y="276.20" width="4.28" height="13.22" fill="#f3e283"/>
<rect x="475.21" y="276.20" width="4.28" height="13.22" fill="#50b07a"/>
<rect x="478.78" y="276.20" width="4.28" height="13.22" fill="#f2ce7c"/>
<rect x="482.36" y="276.20" width="11.43" height="13.22" fill="#f3e283"/>
<rect x="493.09" y="276.20" width="4.28" height="13.22" fill="#f0a070"/>
<rect x="496.66" y="276.20" width="7.85" height="13.22" fill="#50b07a"/>
<rect x="503.82" y="276.20" width="15.00" height="13.22" fill="#f3e283"/>
<rect x="518.12" y="276.20" width="4.28" height="13.22" fill="#50b07a"/>
<rect x="521.70" y="276.20" width="7.85" height="13.22" fill="#f3e283"/>
<rect x="528.85" y="276.20" width="7.15" height="13.22" fill="#50b07a"/>
<rect x="178.40" y="288.72" width="4.28" height="13.22" fill="#50b07a"/>
<rect x="181.98" y="288.72" width="4.28" height="13.22" fill="#f0a070"/>
<rect x="185.55" y="288.72" width="4.28" height="13.22" fill="#50b07a"/>
<rect x="189.13" y="288.72" width="4.28" height="13.22" fill="#f3e283"/>
<rect x="192.70" y="288.72" width="15.00" height="13.22" fill="#50b07a"/>
<rect x="207.01" y="288.72" width="7.85" height="13.22" fill="#f3e283"/>
<rect x="214.16" y="288.72" width="4.28" height="13.22" fill="#50b07a"/>
<rect x="217.74" y="288.72" width="4.28" height="13.22" fill="#f3e283"/>
<rect x="221.31" y="288.72" width="7.85" height="13.22" fill="#f2ce7c"/>
<rect x="228.46" y="288.72" width="11.43" height="13.22" fill="#f3e283"/>
<rect x="239.19" y="288.72" width="7.85" height="13.22" fill="#f0a070"/>
<rect x="246.34" y="288.72" width="4.28" height="13.22" fill="#f3e283"/>
<rect x="249.92" y="288.72" width="7.85" height="13.22" fill="#f2ce7c"/>
<rect x="257.07" y="288.72" width="4.28" height="13.22" fill="#f0a070"/>
<rect x="260.65" y="288.72" width="22.16" height="13.22" fill="#50b07a"/>
<rect x="282.10" y="288.72" width="4.28" height="13.22" fill="#f0a070"/>
<rect x="285.68" y="288.72" width="4.28" height="13.22" fill="#f3e283"/>
<rect x="289.26" y="288.72" width="4.28" height="13.22" fill="#50b07a"/>
<rect x="292.83" y="288.72" width="4.28" height="13.22" fill="#f3e283"/>
<rect x="296.41" y="288.72" width="7.85" height="13.22" fill="#50b07a"/>
<rect x="303.56" y="288.72" width="4.28" height="13.22" fill="#f2ce7c"/>
<rect x="307.14" y="288.72" width="4.28" height="13.22" fill="#50b07a"/>
<rect x="310.71" y="288.72" width="4.28" height="13.22" fill="#f3e283"/>
<rect x="314.29" y="288.72" width="4.28" height="13.22" fill="#f0a070"/>
<rect x="317.86" y="288.72" width="4.28" height="13.22" fill="#f3e283"/>
<rect x="321.44" y="288.72" width="4.28" height="13.22" fill="#e76a6a"/>
<rect x="325.02" y="288.72" width="4.28" height="13.22" fill="#f3e283"/>
<rect x="328.59" y="288.72" width="4.28" height="13.22" fill="#f0a070"/>
<rect x="332.17" y="288.72" width="4.28" height="13.22" fill="#50b07a"/>
<rect x="335.74" y="288.72" width="4.28" height="13.22" fill="#f3e283"/>
<rect x="339.32" y="288.72" width="7.85" height="13.22" fill="#50b07a"/>
<rect x="346.47" y="288.72" width="7.85" height="13.22" fill="#f0a070"/>
<rect x="353.62" y="288.72" width="43.61" height="13.22" fill="#50b07a"/>
<rect x="396.54" y="288.72" width="4.28" height="13.22" fill="#f3e283"/>
<rect x="400.11" y="288.72" width="22.16" height="13.22" fill="#50b07a"/>
<rect x="421.57" y="288.72" width="4.28" height="13.22" fill="#f3e283"/>
<rect x="425.14" y="288.72" width="4.28" height="13.22" fill="#50b07a"/>
<rect x="428.72" y="288.72" width="11.43" height="13.22" fill="#f3e283"/>
<rect x="439.45" y="288.72" width="25.73" height="13.22" fill="#50b07a"/>
<rect x="464.48" y="288.72" width="4.28" height="13.22" fill="#f3e283"/>
<rect x="468.06" y="288.72" width="25.73" height="13.22" fill="#50b07a"/>
<rect x="493.09" y="288.72" width="4.28" height="13.22" fill="#f3e283"/>
<rect x="496.66" y="288.72" width="7.85" height="13.22" fill="#50b07a"/>
<rect x="503.82" y="288.72" width="4.28" height="13.22" fill="#f3e283"/>
<rect x="507.39" y="288.72" width="7.85" height="13.22" fill="#50b07a"/>
<rect x="514.54" y="288.72" width="4.28" height="13.22" fill="#f3e283"/>
<rect x="518.12" y="288.72" width="15.00" height="13.22" fill="#50b07a"/>
<rect x="532.42" y="288.72" width="3.58" height="13.22" fill="#f3e283"/>
<rect x="178.40" y="301.24" width="7.85" height="13.22" fill="#f2ce7c"/>
<rect x="185.55" y="301.24" width="4.28" height="13.22" fill="#e76a6a"/>
<rect x="189.13" y="301.24" width="7.85" height="13.22" fill="#f3e283"/>
<rect x="196.28" y="301.24" width="4.28" height="13.22" fill="#f2ce7c"/>
<rect x="199.86" y="301.24" width="4.28" height="13.22" fill="#f0a070"/>
<rect x="203.43" y="301.24" width="11.43" height="13.22" fill="#f3e283"/>
<rect x="214.16" y="301.24" width="4.28" height="13.22" fill="#50b07a"/>
<rect x="217.74" y="301.24" width="4.28" height="13.22" fill="#f2ce7c"/>
<rect x="221.31" y="301.24" width="22.16" height="13.22" fill="#f3e283"/>
<rect x="242.77" y="301.24" width="4.28" height="13.22" fill="#accc7e"/>
<rect x="246.34" y="301.24" width="4.28" height="13.22" fill="#50b07a"/>
<rect x="249.92" y="301.24" width="4.28" height="13.22" fill="#f3e283"/>
<rect x="253.50" y="301.24" width="4.28" height="13.22" fill="#50b07a"/>
<rect x="257.07" y="301.24" width="15.00" height="13.22" fill="#f3e283"/>
<rect x="271.38" y="301.24" width="4.28" height="13.22" fill="#f0a070"/>
<rect x="274.95" y="301.24" width="15.00" height="13.22" fill="#f3e283"/>
<rect x="289.26" y="301.24" width="4.28" height="13.22" fill="#e76a6a"/>
<rect x="292.83" y="301.24" width="4.28" height="13.22" fill="#f3e283"/>
<rect x="296.41" y="301.24" width="4.28" height="13.22" fill="#accc7e"/>
<rect x="299.98" y="301.24" width="11.43" height="13.22" fill="#f3e283"/>
<rect x="310.71" y="301.24" width="4.28" height="13.22" fill="#50b07a"/>
<rect x="314.29" y="301.24" width="4.28" height="13.22" fill="#f3e283"/>
<rect x="317.86" y="301.24" width="4.28" height="13.22" fill="#50b07a"/>
<rect x="321.44" y="301.24" width="4.28" height="13.22" fill="#f3e283"/>
<rect x="325.02" y="301.24" width="4.28" height="13.22" fill="#50b07a"/>
<rect x="328.59" y="301.24" width="4.28" height="13.22" fill="#f3e283"/>
<rect x="332.17" y="301.24" width="4.28" height="13.22" fill="#e76a6a"/>
<rect x="335.74" y="301.24" width="4.28" height="13.22" fill="#f3e283"/>
<rect x="339.32" y="301.24" width="4.28" height="13.22" fill="#50b07a"/>
<rect x="342.90" y="301.24" width="7.85" height="13.22" fill="#accc7e"/>
<rect x="350.05" y="301.24" width="7.85" height="13.22" fill="#f3e283"/>
<rect x="357.20" y="301.24" width="7.85" height="13.22" fill="#6cb87b"/>
<rect x="364.35" y="301.24" width="4.28" height="13.22" fill="#f3e283"/>
<rect x="367.93" y="301.24" width="4.28" height="13.22" fill="#6cb87b"/>
<rect x="371.50" y="301.24" width="4.28" height="13.22" fill="#50b07a"/>
<rect x="375.08" y="301.24" width="7.85" height="13.22" fill="#f3e283"/>
<rect x="382.23" y="301.24" width="15.00" height="13.22" fill="#50b07a"/>
<rect x="396.54" y="301.24" width="18.58" height="13.22" fill="#accc7e"/>
<rect x="414.42" y="301.24" width="15.00" height="13.22" fill="#6cb87b"/>
<rect x="428.72" y="301.24" width="4.28" height="13.22" fill="#f3e283"/>
<rect x="432.30" y="301.24" width="4.28" height="13.22" fill="#50b07a"/>
<rect x="435.87" y="301.24" width="4.28" height="13.22" fill="#f3e283"/>
<rect x="439.45" y="301.24" width="4.28" height="13.22" fill="#accc7e"/>
<rect x="443.02" y="301.24" width="7.85" height="13.22" fill="#50b07a"/>
<rect x="450.18" y="301.24" width="4.28" height="13.22" fill="#accc7e"/>
<rect x="453.75" y="301.24" width="7.85" height="13.22" fill="#50b07a"/>
<rect x="460.90" y="301.24" width="4.28" height="13.22" fill="#accc7e"/>
<rect x="464.48" y="301.24" width="4.28" height="13.22" fill="#6cb87b"/>
<rect x="468.06" y="301.24" width="4.28" height="13.22" fill="#50b07a"/>
<rect x="471.63" y="301.24" width="22.16" height="13.22" fill="#f3e283"/>
<rect x="493.09" y="301.24" width="7.85" height="13.22" fill="#50b07a"/>
<rect x="500.24" y="301.24" width="4.28" height="13.22" fill="#accc7e"/>
<rect x="503.82" y="301.24" width="7.85" height="13.22" fill="#50b07a"/>
<rect x="510.97" y="301.24" width="4.28" height="13.22" fill="#6cb87b"/>
<rect x="514.54" y="301.24" width="4.28" height="13.22" fill="#50b07a"/>
<rect x="518.12" y="301.24" width="4.28" height="13.22" fill="#f3e283"/>
<rect x="521.70" y="301.24" width="4.28" height="13.22" fill="#50b07a"/>
<rect x="525.27" y="301.24" width="7.85" height="13.22" fill="#6cb87b"/>
<rect x="532.42" y="301.24" width="3.58" height="13.22" fill="#50b07a"/>
<rect x="178.40" y="313.76" width="4.28" height="13.22" fill="#50b07a"/>
<rect x="181.98" y="313.76" width="4.28" height="13.22" fill="#f3e283"/>
<rect x="185.55" y="313.76" width="4.28" height="13.22" fill="#50b07a"/>
<rect x="189.13" y="313.76" width="4.28" height="13.22" fill="#f3e283"/>
<rect x="192.70" y="313.76" width="18.58" height="13.22" fill="#50b07a"/>
<rect x="210.58" y="313.76" width="4.28" height="13.22" fill="#f3e283"/>
<rect x="214.16" y="313.76" width="7.85" height="13.22" fill="#50b07a"/>
<rect x="221.31" y="313.76" width="4.28" height="13.22" fill="#f3e283"/>
<rect x="224.89" y="313.76" width="4.28" height="13.22" fill="#6cb87b"/>
<rect x="228.46" y="313.76" width="18.58" height="13.22" fill="#50b07a"/>
<rect x="246.34" y="313.76" width="4.28" height="13.22" fill="#accc7e"/>
<rect x="249.92" y="313.76" width="4.28" height="13.22" fill="#50b07a"/>
<rect x="253.50" y="313.76" width="11.43" height="13.22" fill="#f3e283"/>
<rect x="264.22" y="313.76" width="18.58" height="13.22" fill="#50b07a"/>
<rect x="282.10" y="313.76" width="7.85" height="13.22" fill="#f3e283"/>
<rect x="289.26" y="313.76" width="15.00" height="13.22" fill="#50b07a"/>
<rect x="303.56" y="313.76" width="7.85" height="13.22" fill="#f3e283"/>
<rect x="310.71" y="313.76" width="4.28" height="13.22" fill="#6cb87b"/>
<rect x="314.29" y="313.76" width="18.58" height="13.22" fill="#50b07a"/>
<rect x="332.17" y="313.76" width="15.00" height="13.22" fill="#f3e283"/>
<rect x="346.47" y="313.76" width="7.85" height="13.22" fill="#50b07a"/>
<rect x="353.62" y="313.76" width="4.28" height="13.22" fill="#f3e283"/>
<rect x="357.20" y="313.76" width="11.43" height="13.22" fill="#50b07a"/>
<rect x="367.93" y="313.76" width="4.28" height="13.22" fill="#e76a6a"/>
<rect x="371.50" y="313.76" width="7.85" height="13.22" fill="#f3e283"/>
<rect x="378.66" y="313.76" width="4.28" height="13.22" fill="#f0a070"/>
<rect x="382.23" y="313.76" width="4.28" height="13.22" fill="#50b07a"/>
<rect x="385.81" y="313.76" width="11.43" height="13.22" fill="#f3e283"/>
<rect x="396.54" y="313.76" width="4.28" height="13.22" fill="#50b07a"/>
<rect x="400.11" y="313.76" width="15.00" height="13.22" fill="#f3e283"/>
<rect x="414.42" y="313.76" width="4.28" height="13.22" fill="#f0a070"/>
<rect x="417.99" y="313.76" width="4.28" height="13.22" fill="#f3e283"/>
<rect x="421.57" y="313.76" width="4.28" height="13.22" fill="#50b07a"/>
<rect x="425.14" y="313.76" width="11.43" height="13.22" fill="#f3e283"/>
<rect x="435.87" y="313.76" width="4.28" height="13.22" fill="#accc7e"/>
<rect x="439.45" y="313.76" width="4.28" height="13.22" fill="#f0a070"/>
<rect x="443.02" y="313.76" width="11.43" height="13.22" fill="#50b07a"/>
<rect x="453.75" y="313.76" width="4.28" height="13.22" fill="#f3e283"/>
<rect x="457.33" y="313.76" width="4.28" height="13.22" fill="#50b07a"/>
<rect x="460.90" y="313.76" width="7.85" height="13.22" fill="#f3e283"/>
<rect x="468.06" y="313.76" width="4.28" height="13.22" fill="#f0a070"/>
<rect x="471.63" y="313.76" width="7.85" height="13.22" fill="#f3e283"/>
<rect x="478.78" y="313.76" width="4.28" height="13.22" fill="#f2ce7c"/>
<rect x="482.36" y="313.76" width="15.00" height="13.22" fill="#f3e283"/>
<rect x="496.66" y="313.76" width="7.85" height="13.22" fill="#50b07a"/>
<rect x="503.82" y="313.76" width="25.73" height="13.22" fill="#f3e283"/>
<rect x="528.85" y="313.76" width="4.28" height="13.22" fill="#6cb87b"/>
<rect x="532.42" y="313.76" width="3.58" height="13.22" fill="#f3e283"/>
<rect x="178.40" y="326.28" width="4.28" height="13.22" fill="#f3e283"/>
<rect x="181.98" y="326.28" width="4.28" height="13.22" fill="#f2ce7c"/>
<rect x="185.55" y="326.28" width="4.28" height="13.22" fill="#accc7e"/>
<rect x="189.13" y="326.28" width="4.28" height="13.22" fill="#f2ce7c"/>
<rect x="192.70" y="326.28" width="11.43" height="13.22" fill="#f0a070"/>
<rect x="203.43" y="326.28" width="4.28" height="13.22" fill="#accc7e"/>
<rect x="207.01" y="326.28" width="4.28" height="13.22" fill="#f3e283"/>
<rect x="210.58" y="326.28" width="4.28" height="13.22" fill="#e76a6a"/>
<rect x="214.16" y="326.28" width="4.28" height="13.22" fill="#50b07a"/>
<rect x="217.74" y="326.28" width="7.85" height="13.22" fill="#f2ce7c"/>
<rect x="224.89" y="326.28" width="4.28" height="13.22" fill="#50b07a"/>
<rect x="228.46" y="326.28" width="4.28" height="13.22" fill="#f2ce7c"/>
<rect x="232.04" y="326.28" width="4.28" height="13.22" fill="#f0a070"/>
<rect x="235.62" y="326.28" width="4.28" height="13.22" fill="#f3e283"/>
<rect x="239.19" y="326.28" width="4.28" height="13.22" fill="#f2ce7c"/>
<rect x="242.77" y="326.28" width="7.85" height="13.22" fill="#50b07a"/>
<rect x="249.92" y="326.28" width="4.28" height="13.22" fill="#f3e283"/>
<rect x="253.50" y="326.28" width="4.28" height="13.22" fill="#50b07a"/>
<rect x="257.07" y="326.28" width="7.85" height="13.22" fill="#f2ce7c"/>
<rect x="264.22" y="326.28" width="7.85" height="13.22" fill="#f3e283"/>
<rect x="271.38" y="326.28" width="4.28" height="13.22" fill="#e76a6a"/>
<rect x="274.95" y="326.28" width="7.85" height="13.22" fill="#f0a070"/>
<rect x="282.10" y="326.28" width="4.28" height="13.22" fill="#f3e283"/>
<rect x="285.68" y="326.28" width="11.43" height="13.22" fill="#f2ce7c"/>
<rect x="296.41" y="326.28" width="4.28" height="13.22" fill="#50b07a"/>
<rect x="299.98" y="326.28" width="4.28" height="13.22" fill="#f3e283"/>
<rect x="303.56" y="326.28" width="4.28" height="13.22" fill="#accc7e"/>
<rect x="307.14" y="326.28" width="4.28" height="13.22" fill="#f0a070"/>
<rect x="310.71" y="326.28" width="4.28" height="13.22" fill="#50b07a"/>
<rect x="314.29" y="326.28" width="7.85" height="13.22" fill="#f3e283"/>
<rect x="321.44" y="326.28" width="4.28" height="13.22" fill="#f0a070"/>
<rect x="325.02" y="326.28" width="4.28" height="13.22" fill="#accc7e"/>
<rect x="328.59" y="326.28" width="4.28" height="13.22" fill="#f3e283"/>
<rect x="332.17" y="326.28" width="15.00" height="13.22" fill="#f2ce7c"/>
<rect x="346.47" y="326.28" width="4.28" height="13.22" fill="#50b07a"/>
<rect x="350.05" y="326.28" width="4.28" height="13.22" fill="#f3e283"/>
<rect x="353.62" y="326.28" width="11.43" height="13.22" fill="#50b07a"/>
<rect x="364.35" y="326.28" width="4.28" height="13.22" fill="#f3e283"/>
<rect x="367.93" y="326.28" width="7.85" height="13.22" fill="#50b07a"/>
<rect x="375.08" y="326.28" width="4.28" height="13.22" fill="#f3e283"/>
<rect x="378.66" y="326.28" width="4.28" height="13.22" fill="#6cb87b"/>
<rect x="382.23" y="326.28" width="7.85" height="13.22" fill="#50b07a"/>
<rect x="389.38" y="326.28" width="11.43" height="13.22" fill="#f3e283"/>
<rect x="400.11" y="326.28" width="4.28" height="13.22" fill="#50b07a"/>
<rect x="403.69" y="326.28" width="4.28" height="13.22" fill="#6cb87b"/>
<rect x="407.26" y="326.28" width="4.28" height="13.22" fill="#f3e283"/>
<rect x="410.84" y="326.28" width="4.28" height="13.22" fill="#f0a070"/>
<rect x="414.42" y="326.28" width="18.58" height="13.22" fill="#50b07a"/>
<rect x="432.30" y="326.28" width="11.43" height="13.22" fill="#f3e283"/>
<rect x="443.02" y="326.28" width="18.58" height="13.22" fill="#50b07a"/>
<rect x="460.90" y="326.28" width="4.28" height="13.22" fill="#e76a6a"/>
<rect x="464.48" y="326.28" width="4.28" height="13.22" fill="#f3e283"/>
<rect x="468.06" y="326.28" width="4.28" height="13.22" fill="#f0a070"/>
<rect x="471.63" y="326.28" width="4.28" height="13.22" fill="#f2ce7c"/>
<rect x="475.21" y="326.28" width="4.28" height="13.22" fill="#50b07a"/>
<rect x="478.78" y="326.28" width="4.28" height="13.22" fill="#f3e283"/>
<rect x="482.36" y="326.28" width="4.28" height="13.22" fill="#50b07a"/>
<rect x="485.94" y="326.28" width="7.85" height="13.22" fill="#f2ce7c"/>
<rect x="493.09" y="326.28" width="36.46" height="13.22" fill="#50b07a"/>
<rect x="528.85" y="326.28" width="4.28" height="13.22" fill="#6cb87b"/>
<rect x="532.42" y="326.28" width="3.58" height="13.22" fill="#50b07a"/>
<rect x="178.40" y="338.80" width="11.43" height="13.22" fill="#50b07a"/>
<rect x="189.13" y="338.80" width="4.28" height="13.22" fill="#f3e283"/>
<rect x="192.70" y="338.80" width="22.16" height="13.22" fill="#50b07a"/>
<rect x="214.16" y="338.80" width="4.28" height="13.22" fill="#f3e283"/>
<rect x="217.74" y="338.80" width="4.28" height="13.22" fill="#50b07a"/>
<rect x="221.31" y="338.80" width="7.85" height="13.22" fill="#f3e283"/>
<rect x="228.46" y="338.80" width="15.00" height="13.22" fill="#50b07a"/>
<rect x="242.77" y="338.80" width="4.28" height="13.22" fill="#f3e283"/>
<rect x="246.34" y="338.80" width="7.85" height="13.22" fill="#50b07a"/>
<rect x="253.50" y="338.80" width="7.85" height="13.22" fill="#f2ce7c"/>
<rect x="260.65" y="338.80" width="22.16" height="13.22" fill="#50b07a"/>
<rect x="282.10" y="338.80" width="4.28" height="13.22" fill="#f3e283"/>
<rect x="285.68" y="338.80" width="18.58" height="13.22" fill="#50b07a"/>
<rect x="303.56" y="338.80" width="4.28" height="13.22" fill="#f3e283"/>
<rect x="307.14" y="338.80" width="4.28" height="13.22" fill="#50b07a"/>
<rect x="310.71" y="338.80" width="4.28" height="13.22" fill="#f3e283"/>
<rect x="314.29" y="338.80" width="11.43" height="13.22" fill="#50b07a"/>
<rect x="325.02" y="338.80" width="4.28" height="13.22" fill="#f3e283"/>
<rect x="328.59" y="338.80" width="7.85" height="13.22" fill="#50b07a"/>
<rect x="335.74" y="338.80" width="4.28" height="13.22" fill="#f3e283"/>
<rect x="339.32" y="338.80" width="4.28" height="13.22" fill="#f0a070"/>
<rect x="342.90" y="338.80" width="25.73" height="13.22" fill="#50b07a"/>
<rect x="367.93" y="338.80" width="4.28" height="13.22" fill="#f0a070"/>
<rect x="371.50" y="338.80" width="7.85" height="13.22" fill="#f3e283"/>
<rect x="378.66" y="338.80" width="4.28" height="13.22" fill="#f0a070"/>
<rect x="382.23" y="338.80" width="7.85" height="13.22" fill="#50b07a"/>
<rect x="389.38" y="338.80" width="4.28" height="13.22" fill="#f3e283"/>
<rect x="392.96" y="338.80" width="4.28" height="13.22" fill="#e76a6a"/>
<rect x="396.54" y="338.80" width="4.28" height="13.22" fill="#50b07a"/>
<rect x="400.11" y="338.80" width="11.43" height="13.22" fill="#f3e283"/>
<rect x="410.84" y="338.80" width="4.28" height="13.22" fill="#50b07a"/>
<rect x="414.42" y="338.80" width="4.28" height="13.22" fill="#f0a070"/>
<rect x="417.99" y="338.80" width="11.43" height="13.22" fill="#f3e283"/>
<rect x="428.72" y="338.80" width="4.28" height="13.22" fill="#f0a070"/>
<rect x="432.30" y="338.80" width="4.28" height="13.22" fill="#f3e283"/>
<rect x="435.87" y="338.80" width="4.28" height="13.22" fill="#50b07a"/>
<rect x="439.45" y="338.80" width="4.28" height="13.22" fill="#e76a6a"/>
<rect x="443.02" y="338.80" width="18.58" height="13.22" fill="#50b07a"/>
<rect x="460.90" y="338.80" width="11.43" height="13.22" fill="#f2ce7c"/>
<rect x="471.63" y="338.80" width="7.85" height="13.22" fill="#50b07a"/>
<rect x="478.78" y="338.80" width="4.28" height="13.22" fill="#e76a6a"/>
<rect x="482.36" y="338.80" width="4.28" height="13.22" fill="#f3e283"/>
<rect x="485.94" y="338.80" width="4.28" height="13.22" fill="#50b07a"/>
<rect x="489.51" y="338.80" width="4.28" height="13.22" fill="#f2ce7c"/>
<rect x="493.09" y="338.80" width="4.28" height="13.22" fill="#f0a070"/>
<rect x="496.66" y="338.80" width="4.28" height="13.22" fill="#50b07a"/>
<rect x="500.24" y="338.80" width="4.28" height="13.22" fill="#f3e283"/>
<rect x="503.82" y="338.80" width="4.28" height="13.22" fill="#f2ce7c"/>
<rect x="507.39" y="338.80" width="4.28" height="13.22" fill="#50b07a"/>
<rect x="510.97" y="338.80" width="15.00" height="13.22" fill="#f3e283"/>
<rect x="525.27" y="338.80" width="4.28" height="13.22" fill="#f0a070"/>
<rect x="528.85" y="338.80" width="7.15" height="13.22" fill="#f3e283"/>
<rect x="178.40" y="351.32" width="4.28" height="13.22" fill="#50b07a"/>
<rect x="181.98" y="351.32" width="4.28" height="13.22" fill="#f0a070"/>
<rect x="185.55" y="351.32" width="11.43" height="13.22" fill="#50b07a"/>
<rect x="196.28" y="351.32" width="4.28" height="13.22" fill="#f3e283"/>
<rect x="199.86" y="351.32" width="7.85" height="13.22" fill="#50b07a"/>
<rect x="207.01" y="351.32" width="4.28" height="13.22" fill="#e76a6a"/>
<rect x="210.58" y="351.32" width="4.28" height="13.22" fill="#f2ce7c"/>
<rect x="214.16" y="351.32" width="4.28" height="13.22" fill="#50b07a"/>
<rect x="217.74" y="351.32" width="7.85" height="13.22" fill="#f3e283"/>
<rect x="224.89" y="351.32" width="4.28" height="13.22" fill="#50b07a"/>
<rect x="228.46" y="351.32" width="4.28" height="13.22" fill="#f3e283"/>
<rect x="232.04" y="351.32" width="4.28" height="13.22" fill="#f0a070"/>
<rect x="235.62" y="351.32" width="7.85" height="13.22" fill="#f3e283"/>
<rect x="242.77" y="351.32" width="4.28" height="13.22" fill="#50b07a"/>
<rect x="246.34" y="351.32" width="7.85" height="13.22" fill="#f3e283"/>
<rect x="253.50" y="351.32" width="4.28" height="13.22" fill="#50b07a"/>
<rect x="257.07" y="351.32" width="4.28" height="13.22" fill="#f3e283"/>
<rect x="260.65" y="351.32" width="4.28" height="13.22" fill="#f2ce7c"/>
<rect x="264.22" y="351.32" width="11.43" height="13.22" fill="#50b07a"/>
<rect x="274.95" y="351.32" width="4.28" height="13.22" fill="#f3e283"/>
<rect x="278.53" y="351.32" width="4.28" height="13.22" fill="#f0a070"/>
<rect x="282.10" y="351.32" width="22.16" height="13.22" fill="#50b07a"/>
<rect x="303.56" y="351.32" width="11.43" height="13.22" fill="#f3e283"/>
<rect x="314.29" y="351.32" width="4.28" height="13.22" fill="#50b07a"/>
<rect x="317.86" y="351.32" width="7.85" height="13.22" fill="#f3e283"/>
<rect x="325.02" y="351.32" width="4.28" height="13.22" fill="#50b07a"/>
<rect x="328.59" y="351.32" width="4.28" height="13.22" fill="#f3e283"/>
<rect x="332.17" y="351.32" width="18.58" height="13.22" fill="#50b07a"/>
<rect x="350.05" y="351.32" width="4.28" height="13.22" fill="#f3e283"/>
<rect x="353.62" y="351.32" width="182.38" height="13.22" fill="#50b07a"/>
<rect x="178.40" y="363.84" width="4.28" height="13.22" fill="#50b07a"/>
<rect x="181.98" y="363.84" width="4.28" height="13.22" fill="#f2ce7c"/>
<rect x="185.55" y="363.84" width="4.28" height="13.22" fill="#50b07a"/>
<rect x="189.13" y="363.84" width="4.28" height="13.22" fill="#f3e283"/>
<rect x="192.70" y="363.84" width="4.28" height="13.22" fill="#50b07a"/>
<rect x="196.28" y="363.84" width="7.85" height="13.22" fill="#f3e283"/>
<rect x="203.43" y="363.84" width="4.28" height="13.22" fill="#50b07a"/>
<rect x="207.01" y="363.84" width="4.28" height="13.22" fill="#f3e283"/>
<rect x="210.58" y="363.84" width="4.28" height="13.22" fill="#50b07a"/>
<rect x="214.16" y="363.84" width="18.58" height="13.22" fill="#f3e283"/>
<rect x="232.04" y="363.84" width="4.28" height="13.22" fill="#e76a6a"/>
<rect x="235.62" y="363.84" width="4.28" height="13.22" fill="#f3e283"/>
<rect x="239.19" y="363.84" width="4.28" height="13.22" fill="#e76a6a"/>
<rect x="242.77" y="363.84" width="7.85" height="13.22" fill="#f3e283"/>
<rect x="249.92" y="363.84" width="4.28" height="13.22" fill="#f2ce7c"/>
<rect x="253.50" y="363.84" width="4.28" height="13.22" fill="#f3e283"/>
<rect x="257.07" y="363.84" width="4.28" height="13.22" fill="#f2ce7c"/>
<rect x="260.65" y="363.84" width="22.16" height="13.22" fill="#50b07a"/>
<rect x="282.10" y="363.84" width="4.28" height="13.22" fill="#e76a6a"/>
<rect x="285.68" y="363.84" width="4.28" height="13.22" fill="#f3e283"/>
<rect x="289.26" y="363.84" width="4.28" height="13.22" fill="#50b07a"/>
<rect x="292.83" y="363.84" width="4.28" height="13.22" fill="#f0a070"/>
<rect x="296.41" y="363.84" width="4.28" height="13.22" fill="#50b07a"/>
<rect x="299.98" y="363.84" width="4.28" height="13.22" fill="#f3e283"/>
<rect x="303.56" y="363.84" width="4.28" height="13.22" fill="#50b07a"/>
<rect x="307.14" y="363.84" width="7.85" height="13.22" fill="#f2ce7c"/>
<rect x="314.29" y="363.84" width="18.58" height="13.22" fill="#f3e283"/>
<rect x="332.17" y="363.84" width="7.85" height="13.22" fill="#50b07a"/>
<rect x="339.32" y="363.84" width="11.43" height="13.22" fill="#f3e283"/>
<rect x="350.05" y="363.84" width="4.28" height="13.22" fill="#f0a070"/>
<rect x="353.62" y="363.84" width="11.43" height="13.22" fill="#50b07a"/>
<rect x="364.35" y="363.84" width="4.28" height="13.22" fill="#f3e283"/>
<rect x="367.93" y="363.84" width="25.73" height="13.22" fill="#50b07a"/>
<rect x="392.96" y="363.84" width="4.28" height="13.22" fill="#e76a6a"/>
<rect x="396.54" y="363.84" width="11.43" height="13.22" fill="#50b07a"/>
<rect x="407.26" y="363.84" width="4.28" height="13.22" fill="#f3e283"/>
<rect x="410.84" y="363.84" width="7.85" height="13.22" fill="#50b07a"/>
<rect x="417.99" y="363.84" width="7.85" height="13.22" fill="#f3e283"/>
<rect x="425.14" y="363.84" width="40.04" height="13.22" fill="#50b07a"/>
<rect x="464.48" y="363.84" width="4.28" height="13.22" fill="#f3e283"/>
<rect x="468.06" y="363.84" width="4.28" height="13.22" fill="#50b07a"/>
<rect x="471.63" y="363.84" width="4.28" height="13.22" fill="#f2ce7c"/>
<rect x="475.21" y="363.84" width="15.00" height="13.22" fill="#50b07a"/>
<rect x="489.51" y="363.84" width="4.28" height="13.22" fill="#f0a070"/>
<rect x="493.09" y="363.84" width="15.00" height="13.22" fill="#f3e283"/>
<rect x="507.39" y="363.84" width="11.43" height="13.22" fill="#50b07a"/>
<rect x="518.12" y="363.84" width="4.28" height="13.22" fill="#f3e283"/>
<rect x="521.70" y="363.84" width="7.85" height="13.22" fill="#50b07a"/>
<rect x="528.85" y="363.84" width="7.15" height="13.22" fill="#f3e283"/>
<rect x="178.40" y="376.36" width="11.43" height="13.22" fill="#f3e283"/>
<rect x="189.13" y="376.36" width="4.28" height="13.22" fill="#f0a070"/>
<rect x="192.70" y="376.36" width="22.16" height="13.22" fill="#f3e283"/>
<rect x="214.16" y="376.36" width="4.28" height="13.22" fill="#50b07a"/>
<rect x="217.74" y="376.36" width="7.85" height="13.22" fill="#f3e283"/>
<rect x="224.89" y="376.36" width="4.28" height="13.22" fill="#50b07a"/>
<rect x="228.46" y="376.36" width="15.00" height="13.22" fill="#f3e283"/>
<rect x="242.77" y="376.36" width="7.85" height="13.22" fill="#50b07a"/>
<rect x="249.92" y="376.36" width="4.28" height="13.22" fill="#f3e283"/>
<rect x="253.50" y="376.36" width="4.28" height="13.22" fill="#50b07a"/>
<rect x="257.07" y="376.36" width="4.28" height="13.22" fill="#accc7e"/>
<rect x="260.65" y="376.36" width="4.28" height="13.22" fill="#f3e283"/>
<rect x="264.22" y="376.36" width="4.28" height="13.22" fill="#50b07a"/>
<rect x="267.80" y="376.36" width="29.31" height="13.22" fill="#f3e283"/>
<rect x="296.41" y="376.36" width="4.28" height="13.22" fill="#50b07a"/>
<rect x="299.98" y="376.36" width="4.28" height="13.22" fill="#accc7e"/>
<rect x="303.56" y="376.36" width="7.85" height="13.22" fill="#f3e283"/>
<rect x="310.71" y="376.36" width="4.28" height="13.22" fill="#50b07a"/>
<rect x="314.29" y="376.36" width="11.43" height="13.22" fill="#f3e283"/>
<rect x="325.02" y="376.36" width="4.28" height="13.22" fill="#50b07a"/>
<rect x="328.59" y="376.36" width="18.58" height="13.22" fill="#f3e283"/>
<rect x="346.47" y="376.36" width="4.28" height="13.22" fill="#50b07a"/>
<rect x="350.05" y="376.36" width="4.28" height="13.22" fill="#f3e283"/>
<rect x="353.62" y="376.36" width="11.43" height="13.22" fill="#50b07a"/>
<rect x="364.35" y="376.36" width="4.28" height="13.22" fill="#f3e283"/>
<rect x="367.93" y="376.36" width="7.85" height="13.22" fill="#50b07a"/>
<rect x="375.08" y="376.36" width="4.28" height="13.22" fill="#f3e283"/>
<rect x="378.66" y="376.36" width="4.28" height="13.22" fill="#6cb87b"/>
<rect x="382.23" y="376.36" width="7.85" height="13.22" fill="#50b07a"/>
<rect x="389.38" y="376.36" width="11.43" height="13.22" fill="#f3e283"/>
<rect x="400.11" y="376.36" width="4.28" height="13.22" fill="#50b07a"/>
<rect x="403.69" y="376.36" width="4.28" height="13.22" fill="#6cb87b"/>
<rect x="407.26" y="376.36" width="7.85" height="13.22" fill="#f3e283"/>
<rect x="414.42" y="376.36" width="18.58" height="13.22" fill="#50b07a"/>
<rect x="432.30" y="376.36" width="7.85" height="13.22" fill="#f3e283"/>
<rect x="439.45" y="376.36" width="4.28" height="13.22" fill="#e76a6a"/>
<rect x="443.02" y="376.36" width="18.58" height="13.22" fill="#50b07a"/>
<rect x="460.90" y="376.36" width="4.28" height="13.22" fill="#f2ce7c"/>
<rect x="464.48" y="376.36" width="4.28" height="13.22" fill="#accc7e"/>
<rect x="468.06" y="376.36" width="7.85" height="13.22" fill="#f3e283"/>
<rect x="475.21" y="376.36" width="7.85" height="13.22" fill="#6cb87b"/>
<rect x="482.36" y="376.36" width="4.28" height="13.22" fill="#50b07a"/>
<rect x="485.94" y="376.36" width="7.85" height="13.22" fill="#f3e283"/>
<rect x="493.09" y="376.36" width="42.91" height="13.22" fill="#50b07a"/>
<rect x="178.40" y="388.88" width="4.28" height="13.22" fill="#f0a070"/>
<rect x="181.98" y="388.88" width="4.28" height="13.22" fill="#f2ce7c"/>
<rect x="185.55" y="388.88" width="4.28" height="13.22" fill="#50b07a"/>
<rect x="189.13" y="388.88" width="4.28" height="13.22" fill="#f2ce7c"/>
<rect x="192.70" y="388.88" width="4.28" height="13.22" fill="#e76a6a"/>
<rect x="196.28" y="388.88" width="7.85" height="13.22" fill="#f0a070"/>
<rect x="203.43" y="388.88" width="4.28" height="13.22" fill="#f3e283"/>
<rect x="207.01" y="388.88" width="4.28" height="13.22" fill="#f2ce7c"/>
<rect x="210.58" y="388.88" width="4.28" height="13.22" fill="#e76a6a"/>
<rect x="214.16" y="388.88" width="4.28" height="13.22" fill="#50b07a"/>
<rect x="217.74" y="388.88" width="7.85" height="13.22" fill="#f3e283"/>
<rect x="224.89" y="388.88" width="4.28" height="13.22" fill="#50b07a"/>
<rect x="228.46" y="388.88" width="4.28" height="13.22" fill="#f0a070"/>
<rect x="232.04" y="388.88" width="4.28" height="13.22" fill="#e76a6a"/>
<rect x="235.62" y="388.88" width="4.28" height="13.22" fill="#50b07a"/>
<rect x="239.19" y="388.88" width="4.28" height="13.22" fill="#f2ce7c"/>
<rect x="242.77" y="388.88" width="7.85" height="13.22" fill="#50b07a"/>
<rect x="249.92" y="388.88" width="4.28" height="13.22" fill="#f3e283"/>
<rect x="253.50" y="388.88" width="7.85" height="13.22" fill="#50b07a"/>
<rect x="260.65" y="388.88" width="4.28" height="13.22" fill="#f2ce7c"/>
<rect x="264.22" y="388.88" width="4.28" height="13.22" fill="#50b07a"/>
<rect x="267.80" y="388.88" width="4.28" height="13.22" fill="#f2ce7c"/>
<rect x="271.38" y="388.88" width="4.28" height="13.22" fill="#e76a6a"/>
<rect x="274.95" y="388.88" width="7.85" height="13.22" fill="#f0a070"/>
<rect x="282.10" y="388.88" width="4.28" height="13.22" fill="#f3e283"/>
<rect x="285.68" y="388.88" width="11.43" height="13.22" fill="#f2ce7c"/>
<rect x="296.41" y="388.88" width="4.28" height="13.22" fill="#50b07a"/>
<rect x="299.98" y="388.88" width="4.28" height="13.22" fill="#f3e283"/>
<rect x="303.56" y="388.88" width="4.28" height="13.22" fill="#50b07a"/>
<rect x="307.14" y="388.88" width="4.28" height="13.22" fill="#f0a070"/>
<rect x="310.71" y="388.88" width="4.28" height="13.22" fill="#50b07a"/>
<rect x="314.29" y="388.88" width="4.28" height="13.22" fill="#f3e283"/>
<rect x="317.86" y="388.88" width="4.28" height="13.22" fill="#50b07a"/>
<rect x="321.44" y="388.88" width="4.28" height="13.22" fill="#f0a070"/>
<rect x="325.02" y="388.88" width="4.28" height="13.22" fill="#50b07a"/>
<rect x="328.59" y="388.88" width="18.58" height="13.22" fill="#f2ce7c"/>
<rect x="346.47" y="388.88" width="29.31" height="13.22" fill="#50b07a"/>
<rect x="375.08" y="388.88" width="4.28" height="13.22" fill="#f2ce7c"/>
<rect x="378.66" y="388.88" width="11.43" height="13.22" fill="#50b07a"/>
<rect x="389.38" y="388.88" width="7.85" height="13.22" fill="#f3e283"/>
<rect x="396.54" y="388.88" width="11.43" height="13.22" fill="#50b07a"/>
<rect x="407.26" y="388.88" width="4.28" height="13.22" fill="#f3e283"/>
<rect x="410.84" y="388.88" width="4.28" height="13.22" fill="#f2ce7c"/>
<rect x="414.42" y="388.88" width="18.58" height="13.22" fill="#50b07a"/>
<rect x="432.30" y="388.88" width="7.85" height="13.22" fill="#f3e283"/>
<rect x="439.45" y="388.88" width="22.16" height="13.22" fill="#50b07a"/>
<rect x="460.90" y="388.88" width="4.28" height="13.22" fill="#f0a070"/>
<rect x="464.48" y="388.88" width="4.28" height="13.22" fill="#50b07a"/>
<rect x="468.06" y="388.88" width="4.28" height="13.22" fill="#f0a070"/>
<rect x="471.63" y="388.88" width="4.28" height="13.22" fill="#f3e283"/>
<rect x="475.21" y="388.88" width="4.28" height="13.22" fill="#50b07a"/>
<rect x="478.78" y="388.88" width="4.28" height="13.22" fill="#f3e283"/>
<rect x="482.36" y="388.88" width="4.28" height="13.22" fill="#50b07a"/>
<rect x="485.94" y="388.88" width="7.85" height="13.22" fill="#f2ce7c"/>
<rect x="493.09" y="388.88" width="42.91" height="13.22" fill="#50b07a"/>
<rect x="178.40" y="401.40" width="32.88" height="13.22" fill="#50b07a"/>
<rect x="210.58" y="401.40" width="4.28" height="13.22" fill="#f3e283"/>
<rect x="214.16" y="401.40" width="18.58" height="13.22" fill="#50b07a"/>
<rect x="232.04" y="401.40" width="4.28" height="13.22" fill="#f3e283"/>
<rect x="235.62" y="401.40" width="25.73" height="13.22" fill="#50b07a"/>
<rect x="260.65" y="401.40" width="4.28" height="13.22" fill="#f3e283"/>
<rect x="264.22" y="401.40" width="18.58" height="13.22" fill="#50b07a"/>
<rect x="282.10" y="401.40" width="7.85" height="13.22" fill="#f3e283"/>
<rect x="289.26" y="401.40" width="18.58" height="13.22" fill="#50b07a"/>
<rect x="307.14" y="401.40" width="4.28" height="13.22" fill="#f3e283"/>
<rect x="310.71" y="401.40" width="15.00" height="13.22" fill="#50b07a"/>
<rect x="325.02" y="401.40" width="4.28" height="13.22" fill="#f3e283"/>
<rect x="328.59" y="401.40" width="7.85" height="13.22" fill="#50b07a"/>
<rect x="335.74" y="401.40" width="4.28" height="13.22" fill="#f3e283"/>
<rect x="339.32" y="401.40" width="4.28" height="13.22" fill="#50b07a"/>
<rect x="342.90" y="401.40" width="4.28" height="13.22" fill="#f3e283"/>
<rect x="346.47" y="401.40" width="7.85" height="13.22" fill="#50b07a"/>
<rect x="353.62" y="401.40" width="4.28" height="13.22" fill="#f2ce7c"/>
<rect x="357.20" y="401.40" width="7.85" height="13.22" fill="#50b07a"/>
<rect x="364.35" y="401.40" width="4.28" height="13.22" fill="#f3e283"/>
<rect x="367.93" y="401.40" width="7.85" height="13.22" fill="#50b07a"/>
<rect x="375.08" y="401.40" width="7.85" height="13.22" fill="#f0a070"/>
<rect x="382.23" y="401.40" width="4.28" height="13.22" fill="#50b07a"/>
<rect x="385.81" y="401.40" width="4.28" height="13.22" fill="#f3e283"/>
<rect x="389.38" y="401.40" width="4.28" height="13.22" fill="#50b07a"/>
<rect x="392.96" y="401.40" width="4.28" height="13.22" fill="#e76a6a"/>
<rect x="396.54" y="401.40" width="4.28" height="13.22" fill="#50b07a"/>
<rect x="400.11" y="401.40" width="7.85" height="13.22" fill="#f2ce7c"/>
<rect x="407.26" y="401.40" width="4.28" height="13.22" fill="#50b07a"/>
<rect x="410.84" y="401.40" width="4.28" height="13.22" fill="#f3e283"/>
<rect x="414.42" y="401.40" width="4.28" height="13.22" fill="#e76a6a"/>
<rect x="417.99" y="401.40" width="4.28" height="13.22" fill="#f3e283"/>
<rect x="421.57" y="401.40" width="4.28" height="13.22" fill="#50b07a"/>
<rect x="425.14" y="401.40" width="7.85" height="13.22" fill="#f3e283"/>
<rect x="432.30" y="401.40" width="4.28" height="13.22" fill="#50b07a"/>
<rect x="435.87" y="401.40" width="4.28" height="13.22" fill="#f3e283"/>
<rect x="439.45" y="401.40" width="4.28" height="13.22" fill="#e76a6a"/>
<rect x="443.02" y="401.40" width="11.43" height="13.22" fill="#50b07a"/>
<rect x="453.75" y="401.40" width="4.28" height="13.22" fill="#f3e283"/>
<rect x="457.33" y="401.40" width="4.28" height="13.22" fill="#50b07a"/>
<rect x="460.90" y="401.40" width="4.28" height="13.22" fill="#f2ce7c"/>
<rect x="464.48" y="401.40" width="4.28" height="13.22" fill="#50b07a"/>
<rect x="468.06" y="401.40" width="4.28" height="13.22" fill="#f3e283"/>
<rect x="471.63" y="401.40" width="7.85" height="13.22" fill="#50b07a"/>
<rect x="478.78" y="401.40" width="4.28" height="13.22" fill="#e76a6a"/>
<rect x="482.36" y="401.40" width="4.28" height="13.22" fill="#f3e283"/>
<rect x="485.94" y="401.40" width="4.28" height="13.22" fill="#50b07a"/>
<rect x="489.51" y="401.40" width="7.85" height="13.22" fill="#f3e283"/>
<rect x="496.66" y="401.40" width="4.28" height="13.22" fill="#50b07a"/>
<rect x="500.24" y="401.40" width="29.31" height="13.22" fill="#f3e283"/>
<rect x="528.85" y="401.40" width="4.28" height="13.22" fill="#50b07a"/>
<rect x="532.42" y="401.40" width="3.58" height="13.22" fill="#f3e283"/>
<rect x="178.40" y="413.92" width="4.28" height="13.22" fill="#f2ce7c"/>
<rect x="181.98" y="413.92" width="4.28" height="13.22" fill="#f0a070"/>
<rect x="185.55" y="413.92" width="4.28" height="13.22" fill="#f3e283"/>
<rect x="189.13" y="413.92" width="4.28" height="13.22" fill="#f2ce7c"/>
<rect x="192.70" y="413.92" width="4.28" height="13.22" fill="#e76a6a"/>
<rect x="196.28" y="413.92" width="4.28" height="13.22" fill="#f0a070"/>
<rect x="199.86" y="413.92" width="4.28" height="13.22" fill="#e76a6a"/>
<rect x="203.43" y="413.92" width="4.28" height="13.22" fill="#accc7e"/>
<rect x="207.01" y="413.92" width="4.28" height="13.22" fill="#f0a070"/>
<rect x="210.58" y="413.92" width="4.28" height="13.22" fill="#e76a6a"/>
<rect x="214.16" y="413.92" width="4.28" height="13.22" fill="#50b07a"/>
<rect x="217.74" y="413.92" width="7.85" height="13.22" fill="#f3e283"/>
<rect x="224.89" y="413.92" width="4.28" height="13.22" fill="#50b07a"/>
<rect x="228.46" y="413.92" width="4.28" height="13.22" fill="#f0a070"/>
<rect x="232.04" y="413.92" width="4.28" height="13.22" fill="#e76a6a"/>
<rect x="235.62" y="413.92" width="4.28" height="13.22" fill="#f3e283"/>
<rect x="239.19" y="413.92" width="4.28" height="13.22" fill="#f2ce7c"/>
<rect x="242.77" y="413.92" width="7.85" height="13.22" fill="#50b07a"/>
<rect x="249.92" y="413.92" width="4.28" height="13.22" fill="#f3e283"/>
<rect x="253.50" y="413.92" width="7.85" height="13.22" fill="#50b07a"/>
<rect x="260.65" y="413.92" width="4.28" height="13.22" fill="#f0a070"/>
<rect x="264.22" y="413.92" width="4.28" height="13.22" fill="#50b07a"/>
<rect x="267.80" y="413.92" width="4.28" height="13.22" fill="#f3e283"/>
<rect x="271.38" y="413.92" width="4.28" height="13.22" fill="#e76a6a"/>
<rect x="274.95" y="413.92" width="7.85" height="13.22" fill="#f0a070"/>
<rect x="282.10" y="413.92" width="15.00" height="13.22" fill="#f2ce7c"/>
<rect x="296.41" y="413.92" width="4.28" height="13.22" fill="#50b07a"/>
<rect x="299.98" y="413.92" width="4.28" height="13.22" fill="#f3e283"/>
<rect x="303.56" y="413.92" width="4.28" height="13.22" fill="#6cb87b"/>
<rect x="307.14" y="413.92" width="4.28" height="13.22" fill="#f0a070"/>
<rect x="310.71" y="413.92" width="4.28" height="13.22" fill="#50b07a"/>
<rect x="314.29" y="413.92" width="7.85" height="13.22" fill="#f3e283"/>
<rect x="321.44" y="413.92" width="4.28" height="13.22" fill="#e76a6a"/>
<rect x="325.02" y="413.92" width="4.28" height="13.22" fill="#50b07a"/>
<rect x="328.59" y="413.92" width="18.58" height="13.22" fill="#f2ce7c"/>
<rect x="346.47" y="413.92" width="18.58" height="13.22" fill="#50b07a"/>
<rect x="364.35" y="413.92" width="4.28" height="13.22" fill="#f3e283"/>
<rect x="367.93" y="413.92" width="7.85" height="13.22" fill="#50b07a"/>
<rect x="375.08" y="413.92" width="4.28" height="13.22" fill="#f0a070"/>
<rect x="378.66" y="413.92" width="4.28" height="13.22" fill="#accc7e"/>
<rect x="382.23" y="413.92" width="7.85" height="13.22" fill="#50b07a"/>
<rect x="389.38" y="413.92" width="4.28" height="13.22" fill="#f0a070"/>
<rect x="392.96" y="413.92" width="7.85" height="13.22" fill="#f3e283"/>
<rect x="400.11" y="413.92" width="7.85" height="13.22" fill="#50b07a"/>
<rect x="407.26" y="413.92" width="4.28" height="13.22" fill="#f3e283"/>
<rect x="410.84" y="413.92" width="4.28" height="13.22" fill="#f0a070"/>
<rect x="414.42" y="413.92" width="18.58" height="13.22" fill="#50b07a"/>
<rect x="432.30" y="413.92" width="4.28" height="13.22" fill="#f3e283"/>
<rect x="435.87" y="413.92" width="7.85" height="13.22" fill="#f0a070"/>
<rect x="443.02" y="413.92" width="18.58" height="13.22" fill="#50b07a"/>
<rect x="460.90" y="413.92" width="4.28" height="13.22" fill="#e76a6a"/>
<rect x="464.48" y="413.92" width="4.28" height="13.22" fill="#6cb87b"/>
<rect x="468.06" y="413.92" width="4.28" height="13.22" fill="#f0a070"/>
<rect x="471.63" y="413.92" width="4.28" height="13.22" fill="#f3e283"/>
<rect x="475.21" y="413.92" width="4.28" height="13.22" fill="#50b07a"/>
<rect x="478.78" y="413.92" width="4.28" height="13.22" fill="#accc7e"/>
<rect x="482.36" y="413.92" width="4.28" height="13.22" fill="#50b07a"/>
<rect x="485.94" y="413.92" width="7.85" height="13.22" fill="#f2ce7c"/>
<rect x="493.09" y="413.92" width="42.91" height="13.22" fill="#50b07a"/>
<rect x="178.40" y="426.44" width="47.19" height="13.22" fill="#50b07a"/>
<rect x="224.89" y="426.44" width="4.28" height="13.22" fill="#f3e283"/>
<rect x="228.46" y="426.44" width="25.73" height="13.22" fill="#50b07a"/>
<rect x="253.50" y="426.44" width="7.85" height="13.22" fill="#f3e283"/>
<rect x="260.65" y="426.44" width="79.37" height="13.22" fill="#50b07a"/>
<rect x="339.32" y="426.44" width="4.28" height="13.22" fill="#f0a070"/>
<rect x="342.90" y="426.44" width="29.31" height="13.22" fill="#50b07a"/>
<rect x="371.50" y="426.44" width="4.28" height="13.22" fill="#f3e283"/>
<rect x="375.08" y="426.44" width="7.85" height="13.22" fill="#f2ce7c"/>
<rect x="382.23" y="426.44" width="7.85" height="13.22" fill="#50b07a"/>
<rect x="389.38" y="426.44" width="4.28" height="13.22" fill="#f3e283"/>
<rect x="392.96" y="426.44" width="4.28" height="13.22" fill="#f2ce7c"/>
<rect x="396.54" y="426.44" width="4.28" height="13.22" fill="#50b07a"/>
<rect x="400.11" y="426.44" width="4.28" height="13.22" fill="#f3e283"/>
<rect x="403.69" y="426.44" width="4.28" height="13.22" fill="#50b07a"/>
<rect x="407.26" y="426.44" width="7.85" height="13.22" fill="#f3e283"/>
<rect x="414.42" y="426.44" width="4.28" height="13.22" fill="#f2ce7c"/>
<rect x="417.99" y="426.44" width="4.28" height="13.22" fill="#f3e283"/>
<rect x="421.57" y="426.44" width="7.85" height="13.22" fill="#50b07a"/>
<rect x="428.72" y="426.44" width="7.85" height="13.22" fill="#f2ce7c"/>
<rect x="435.87" y="426.44" width="4.28" height="13.22" fill="#50b07a"/>
<rect x="439.45" y="426.44" width="4.28" height="13.22" fill="#e76a6a"/>
<rect x="443.02" y="426.44" width="18.58" height="13.22" fill="#50b07a"/>
<rect x="460.90" y="426.44" width="4.28" height="13.22" fill="#f3e283"/>
<rect x="464.48" y="426.44" width="4.28" height="13.22" fill="#50b07a"/>
<rect x="468.06" y="426.44" width="4.28" height="13.22" fill="#f2ce7c"/>
<rect x="471.63" y="426.44" width="7.85" height="13.22" fill="#50b07a"/>
<rect x="478.78" y="426.44" width="4.28" height="13.22" fill="#f0a070"/>
<rect x="482.36" y="426.44" width="7.85" height="13.22" fill="#50b07a"/>
<rect x="489.51" y="426.44" width="7.85" height="13.22" fill="#f3e283"/>
<rect x="496.66" y="426.44" width="7.85" height="13.22" fill="#50b07a"/>
<rect x="503.82" y="426.44" width="4.28" height="13.22" fill="#f3e283"/>
<rect x="507.39" y="426.44" width="4.28" height="13.22" fill="#50b07a"/>
<rect x="510.97" y="426.44" width="18.58" height="13.22" fill="#f3e283"/>
<rect x="528.85" y="426.44" width="7.15" height="13.22" fill="#50b07a"/>
<rect x="178.40" y="438.96" width="47.19" height="13.22" fill="#50b07a"/>
<rect x="224.89" y="438.96" width="4.28" height="13.22" fill="#f3e283"/>
<rect x="228.46" y="438.96" width="82.95" height="13.22" fill="#50b07a"/>
<rect x="310.71" y="438.96" width="7.85" height="13.22" fill="#f3e283"/>
<rect x="317.86" y="438.96" width="36.46" height="13.22" fill="#50b07a"/>
<rect x="353.62" y="438.96" width="4.28" height="13.22" fill="#f3e283"/>
<rect x="357.20" y="438.96" width="7.85" height="13.22" fill="#50b07a"/>
<rect x="364.35" y="438.96" width="4.28" height="13.22" fill="#f3e283"/>
<rect x="367.93" y="438.96" width="7.85" height="13.22" fill="#50b07a"/>
<rect x="375.08" y="438.96" width="4.28" height="13.22" fill="#f3e283"/>
<rect x="378.66" y="438.96" width="4.28" height="13.22" fill="#f0a070"/>
<rect x="382.23" y="438.96" width="4.28" height="13.22" fill="#50b07a"/>
<rect x="385.81" y="438.96" width="4.28" height="13.22" fill="#f3e283"/>
<rect x="389.38" y="438.96" width="4.28" height="13.22" fill="#50b07a"/>
<rect x="392.96" y="438.96" width="4.28" height="13.22" fill="#e76a6a"/>
<rect x="396.54" y="438.96" width="4.28" height="13.22" fill="#50b07a"/>
<rect x="400.11" y="438.96" width="7.85" height="13.22" fill="#f3e283"/>
<rect x="407.26" y="438.96" width="7.85" height="13.22" fill="#50b07a"/>
<rect x="414.42" y="438.96" width="11.43" height="13.22" fill="#f0a070"/>
<rect x="425.14" y="438.96" width="4.28" height="13.22" fill="#50b07a"/>
<rect x="428.72" y="438.96" width="4.28" height="13.22" fill="#f3e283"/>
<rect x="432.30" y="438.96" width="4.28" height="13.22" fill="#50b07a"/>
<rect x="435.87" y="438.96" width="4.28" height="13.22" fill="#f3e283"/>
<rect x="439.45" y="438.96" width="4.28" height="13.22" fill="#e76a6a"/>
<rect x="443.02" y="438.96" width="18.58" height="13.22" fill="#50b07a"/>
<rect x="460.90" y="438.96" width="4.28" height="13.22" fill="#f2ce7c"/>
<rect x="464.48" y="438.96" width="4.28" height="13.22" fill="#50b07a"/>
<rect x="468.06" y="438.96" width="4.28" height="13.22" fill="#f3e283"/>
<rect x="471.63" y="438.96" width="7.85" height="13.22" fill="#50b07a"/>
<rect x="478.78" y="438.96" width="4.28" height="13.22" fill="#f0a070"/>
<rect x="482.36" y="438.96" width="11.43" height="13.22" fill="#50b07a"/>
<rect x="493.09" y="438.96" width="4.28" height="13.22" fill="#f3e283"/>
<rect x="496.66" y="438.96" width="4.28" height="13.22" fill="#50b07a"/>
<rect x="500.24" y="438.96" width="4.28" height="13.22" fill="#f2ce7c"/>
<rect x="503.82" y="438.96" width="4.28" height="13.22" fill="#e76a6a"/>
<rect x="507.39" y="438.96" width="4.28" height="13.22" fill="#50b07a"/>
<rect x="510.97" y="438.96" width="4.28" height="13.22" fill="#f3e283"/>
<rect x="514.54" y="438.96" width="4.28" height="13.22" fill="#f2ce7c"/>
<rect x="518.12" y="438.96" width="4.28" height="13.22" fill="#f3e283"/>
<rect x="521.70" y="438.96" width="4.28" height="13.22" fill="#50b07a"/>
<rect x="525.27" y="438.96" width="4.28" height="13.22" fill="#e76a6a"/>
<rect x="528.85" y="438.96" width="4.28" height="13.22" fill="#50b07a"/>
<rect x="532.42" y="438.96" width="3.58" height="13.22" fill="#f0a070"/>
<rect x="178.40" y="451.48" width="4.28" height="12.52" fill="#f2ce7c"/>
<rect x="181.98" y="451.48" width="4.28" height="12.52" fill="#f0a070"/>
<rect x="185.55" y="451.48" width="4.28" height="12.52" fill="#50b07a"/>
<rect x="189.13" y="451.48" width="4.28" height="12.52" fill="#f2ce7c"/>
<rect x="192.70" y="451.48" width="7.85" height="12.52" fill="#f0a070"/>
<rect x="199.86" y="451.48" width="4.28" height="12.52" fill="#e76a6a"/>
<rect x="203.43" y="451.48" width="4.28" height="12.52" fill="#accc7e"/>
<rect x="207.01" y="451.48" width="4.28" height="12.52" fill="#f2ce7c"/>
<rect x="210.58" y="451.48" width="4.28" height="12.52" fill="#e76a6a"/>
<rect x="214.16" y="451.48" width="4.28" height="12.52" fill="#50b07a"/>
<rect x="217.74" y="451.48" width="7.85" height="12.52" fill="#f3e283"/>
<rect x="224.89" y="451.48" width="4.28" height="12.52" fill="#50b07a"/>
<rect x="228.46" y="451.48" width="7.85" height="12.52" fill="#f0a070"/>
<rect x="235.62" y="451.48" width="4.28" height="12.52" fill="#f3e283"/>
<rect x="239.19" y="451.48" width="4.28" height="12.52" fill="#f2ce7c"/>
<rect x="242.77" y="451.48" width="7.85" height="12.52" fill="#50b07a"/>
<rect x="249.92" y="451.48" width="4.28" height="12.52" fill="#f3e283"/>
<rect x="253.50" y="451.48" width="7.85" height="12.52" fill="#50b07a"/>
<rect x="260.65" y="451.48" width="4.28" height="12.52" fill="#f3e283"/>
<rect x="264.22" y="451.48" width="4.28" height="12.52" fill="#50b07a"/>
<rect x="267.80" y="451.48" width="4.28" height="12.52" fill="#f2ce7c"/>
<rect x="271.38" y="451.48" width="4.28" height="12.52" fill="#e76a6a"/>
<rect x="274.95" y="451.48" width="7.85" height="12.52" fill="#f0a070"/>
<rect x="282.10" y="451.48" width="15.00" height="12.52" fill="#f2ce7c"/>
<rect x="296.41" y="451.48" width="4.28" height="12.52" fill="#50b07a"/>
<rect x="299.98" y="451.48" width="4.28" height="12.52" fill="#f3e283"/>
<rect x="303.56" y="451.48" width="4.28" height="12.52" fill="#accc7e"/>
<rect x="307.14" y="451.48" width="4.28" height="12.52" fill="#f0a070"/>
<rect x="310.71" y="451.48" width="4.28" height="12.52" fill="#50b07a"/>
<rect x="314.29" y="451.48" width="7.85" height="12.52" fill="#f3e283"/>
<rect x="321.44" y="451.48" width="4.28" height="12.52" fill="#e76a6a"/>
<rect x="325.02" y="451.48" width="4.28" height="12.52" fill="#50b07a"/>
<rect x="328.59" y="451.48" width="4.28" height="12.52" fill="#f3e283"/>
<rect x="332.17" y="451.48" width="11.43" height="12.52" fill="#f2ce7c"/>
<rect x="342.90" y="451.48" width="4.28" height="12.52" fill="#f3e283"/>
<rect x="346.47" y="451.48" width="4.28" height="12.52" fill="#50b07a"/>
<rect x="350.05" y="451.48" width="4.28" height="12.52" fill="#accc7e"/>
<rect x="353.62" y="451.48" width="11.43" height="12.52" fill="#50b07a"/>
<rect x="364.35" y="451.48" width="4.28" height="12.52" fill="#f3e283"/>
<rect x="367.93" y="451.48" width="7.85" height="12.52" fill="#50b07a"/>
<rect x="375.08" y="451.48" width="4.28" height="12.52" fill="#f0a070"/>
<rect x="378.66" y="451.48" width="4.28" height="12.52" fill="#accc7e"/>
<rect x="382.23" y="451.48" width="7.85" height="12.52" fill="#50b07a"/>
<rect x="389.38" y="451.48" width="4.28" height="12.52" fill="#f0a070"/>
<rect x="392.96" y="451.48" width="7.85" height="12.52" fill="#f3e283"/>
<rect x="400.11" y="451.48" width="7.85" height="12.52" fill="#50b07a"/>
<rect x="407.26" y="451.48" width="4.28" height="12.52" fill="#f3e283"/>
<rect x="410.84" y="451.48" width="4.28" height="12.52" fill="#f0a070"/>
<rect x="414.42" y="451.48" width="7.85" height="12.52" fill="#6cb87b"/>
<rect x="421.57" y="451.48" width="11.43" height="12.52" fill="#50b07a"/>
<rect x="432.30" y="451.48" width="11.43" height="12.52" fill="#f3e283"/>
<rect x="443.02" y="451.48" width="18.58" height="12.52" fill="#50b07a"/>
<rect x="460.90" y="451.48" width="4.28" height="12.52" fill="#e76a6a"/>
<rect x="464.48" y="451.48" width="4.28" height="12.52" fill="#f3e283"/>
<rect x="468.06" y="451.48" width="4.28" height="12.52" fill="#f0a070"/>
<rect x="471.63" y="451.48" width="4.28" height="12.52" fill="#f3e283"/>
<rect x="475.21" y="451.48" width="4.28" height="12.52" fill="#50b07a"/>
<rect x="478.78" y="451.48" width="4.28" height="12.52" fill="#f3e283"/>
<rect x="482.36" y="451.48" width="4.28" height="12.52" fill="#50b07a"/>
<rect x="485.94" y="451.48" width="4.28" height="12.52" fill="#f2ce7c"/>
<rect x="489.51" y="451.48" width="4.28" height="12.52" fill="#f0a070"/>
<rect x="493.09" y="451.48" width="42.91" height="12.52" fill="#50b07a"/>
<rect x="179.10" y="546.30" width="87.00" height="12.20" fill="#e52238"/>
<rect x="179.10" y="558.50" width="3.67" height="13.50" fill="#5aaf7a"/>
<rect x="182.72" y="558.50" width="3.67" height="13.50" fill="#5fb17a"/>
<rect x="186.35" y="558.50" width="3.67" height="13.50" fill="#64b27b"/>
<rect x="189.97" y="558.50" width="3.67" height="13.50" fill="#69b47b"/>
<rect x="193.60" y="558.50" width="3.67" height="13.50" fill="#6eb57b"/>
<rect x="197.22" y="558.50" width="3.67" height="13.50" fill="#7cba7c"/>
<rect x="200.85" y="558.50" width="3.67" height="13.50" fill="#89be7d"/>
<rect x="204.47" y="558.50" width="3.67" height="13.50" fill="#97c27e"/>
<rect x="208.10" y="558.50" width="3.67" height="13.50" fill="#a6c77f"/>
<rect x="211.72" y="558.50" width="3.67" height="13.50" fill="#b4cc80"/>
<rect x="215.35" y="558.50" width="3.67" height="13.50" fill="#c1d081"/>
<rect x="218.97" y="558.50" width="3.67" height="13.50" fill="#d1d681"/>
<rect x="222.60" y="558.50" width="3.67" height="13.50" fill="#e3dd82"/>
<rect x="226.22" y="558.50" width="3.67" height="13.50" fill="#efe082"/>
<rect x="229.85" y="558.50" width="3.67" height="13.50" fill="#f1da80"/>
<rect x="233.47" y="558.50" width="3.67" height="13.50" fill="#f2d47d"/>
<rect x="237.10" y="558.50" width="3.67" height="13.50" fill="#f1ca7b"/>
<rect x="240.72" y="558.50" width="3.67" height="13.50" fill="#f0bf78"/>
<rect x="244.35" y="558.50" width="3.67" height="13.50" fill="#efb476"/>
<rect x="247.97" y="558.50" width="3.67" height="13.50" fill="#eca273"/>
<rect x="251.60" y="558.50" width="3.67" height="13.50" fill="#ea9071"/>
<rect x="255.22" y="558.50" width="3.67" height="13.50" fill="#e8836f"/>
<rect x="258.85" y="558.50" width="3.67" height="13.50" fill="#e6786d"/>
<rect x="262.48" y="558.50" width="3.67" height="13.50" fill="#e46c6b"/>
<rect x="266.10" y="546.30" width="94.25" height="12.20" fill="#1fa0d8"/>
<rect x="266.10" y="558.50" width="3.67" height="13.50" fill="#5aaf7a"/>
<rect x="269.73" y="558.50" width="3.67" height="13.50" fill="#5eb07a"/>
<rect x="273.35" y="558.50" width="3.67" height="13.50" fill="#63b27a"/>
<rect x="276.98" y="558.50" width="3.67" height="13.50" fill="#67b37b"/>
<rect x="280.60" y="558.50" width="3.67" height="13.50" fill="#6cb57b"/>
<rect x="284.23" y="558.50" width="3.67" height="13.50" fill="#76b87c"/>
<rect x="287.85" y="558.50" width="3.67" height="13.50" fill="#83bc7d"/>
<rect x="291.48" y="558.50" width="3.67" height="13.50" fill="#8fc07e"/>
<rect x="295.10" y="558.50" width="3.67" height="13.50" fill="#9cc47e"/>
<rect x="298.73" y="558.50" width="3.67" height="13.50" fill="#aac980"/>
<rect x="302.35" y="558.50" width="3.67" height="13.50" fill="#b7cd80"/>
<rect x="305.98" y="558.50" width="3.67" height="13.50" fill="#c3d181"/>
<rect x="309.60" y="558.50" width="3.67" height="13.50" fill="#d1d681"/>
<rect x="313.23" y="558.50" width="3.67" height="13.50" fill="#e2dd82"/>
<rect x="316.85" y="558.50" width="3.67" height="13.50" fill="#efe182"/>
<rect x="320.48" y="558.50" width="3.67" height="13.50" fill="#f0db80"/>
<rect x="324.10" y="558.50" width="3.67" height="13.50" fill="#f1d67e"/>
<rect x="327.73" y="558.50" width="3.67" height="13.50" fill="#f2ce7c"/>
<rect x="331.35" y="558.50" width="3.67" height="13.50" fill="#f0c47a"/>
<rect x="334.98" y="558.50" width="3.67" height="13.50" fill="#f0ba77"/>
<rect x="338.60" y="558.50" width="3.67" height="13.50" fill="#eead75"/>
<rect x="342.23" y="558.50" width="3.67" height="13.50" fill="#eb9c72"/>
<rect x="345.85" y="558.50" width="3.67" height="13.50" fill="#e98c70"/>
<rect x="349.48" y="558.50" width="3.67" height="13.50" fill="#e7816e"/>
<rect x="353.10" y="558.50" width="3.67" height="13.50" fill="#e6776d"/>
<rect x="356.73" y="558.50" width="3.67" height="13.50" fill="#e46c6b"/>
<rect x="360.35" y="546.30" width="87.00" height="12.20" fill="#e52238"/>
<rect x="360.35" y="558.50" width="3.67" height="13.50" fill="#5aaf7a"/>
<rect x="363.98" y="558.50" width="3.67" height="13.50" fill="#5fb17a"/>
<rect x="367.60" y="558.50" width="3.67" height="13.50" fill="#64b27b"/>
<rect x="371.23" y="558.50" width="3.67" height="13.50" fill="#69b47b"/>
<rect x="374.85" y="558.50" width="3.67" height="13.50" fill="#6eb57b"/>
<rect x="378.48" y="558.50" width="3.67" height="13.50" fill="#7cba7c"/>
<rect x="382.10" y="558.50" width="3.67" height="13.50" fill="#89be7d"/>
<rect x="385.73" y="558.50" width="3.67" height="13.50" fill="#97c27e"/>
<rect x="389.35" y="558.50" width="3.67" height="13.50" fill="#a6c77f"/>
<rect x="392.98" y="558.50" width="3.67" height="13.50" fill="#b4cc80"/>
<rect x="396.60" y="558.50" width="3.67" height="13.50" fill="#c1d081"/>
<rect x="400.23" y="558.50" width="3.67" height="13.50" fill="#d1d681"/>
<rect x="403.85" y="558.50" width="3.67" height="13.50" fill="#e3dd82"/>
<rect x="407.48" y="558.50" width="3.67" height="13.50" fill="#efe082"/>
<rect x="411.10" y="558.50" width="3.67" height="13.50" fill="#f1da80"/>
<rect x="414.73" y="558.50" width="3.67" height="13.50" fill="#f2d47d"/>
<rect x="418.35" y="558.50" width="3.67" height="13.50" fill="#f1ca7b"/>
<rect x="421.98" y="558.50" width="3.67" height="13.50" fill="#f0bf78"/>
<rect x="425.60" y="558.50" width="3.67" height="13.50" fill="#efb476"/>
<rect x="429.23" y="558.50" width="3.67" height="13.50" fill="#eca273"/>
<rect x="432.85" y="558.50" width="3.67" height="13.50" fill="#ea9071"/>
<rect x="436.48" y="558.50" width="3.67" height="13.50" fill="#e8836f"/>
<rect x="440.10" y="558.50" width="3.67" height="13.50" fill="#e6786d"/>
<rect x="443.73" y="558.50" width="3.67" height="13.50" fill="#e46c6b"/>
<rect x="447.35" y="546.30" width="94.25" height="12.20" fill="#1fa0d8"/>
<rect x="447.35" y="558.50" width="3.67" height="13.50" fill="#5aaf7a"/>
<rect x="450.98" y="558.50" width="3.67" height="13.50" fill="#5eb07a"/>
<rect x="454.60" y="558.50" width="3.67" height="13.50" fill="#63b27a"/>
<rect x="458.23" y="558.50" width="3.67" height="13.50" fill="#67b37b"/>
<rect x="461.85" y="558.50" width="3.67" height="13.50" fill="#6cb57b"/>
<rect x="465.48" y="558.50" width="3.67" height="13.50" fill="#76b87c"/>
<rect x="469.10" y="558.50" width="3.67" height="13.50" fill="#83bc7d"/>
<rect x="472.73" y="558.50" width="3.67" height="13.50" fill="#8fc07e"/>
<rect x="476.35" y="558.50" width="3.67" height="13.50" fill="#9cc47e"/>
<rect x="479.98" y="558.50" width="3.67" height="13.50" fill="#aac980"/>
<rect x="483.60" y="558.50" width="3.67" height="13.50" fill="#b7cd80"/>
<rect x="487.23" y="558.50" width="3.67" height="13.50" fill="#c3d181"/>
<rect x="490.85" y="558.50" width="3.67" height="13.50" fill="#d1d681"/>
<rect x="494.48" y="558.50" width="3.67" height="13.50" fill="#e2dd82"/>
<rect x="498.10" y="558.50" width="3.67" height="13.50" fill="#efe182"/>
<rect x="501.73" y="558.50" width="3.67" height="13.50" fill="#f0db80"/>
<rect x="505.35" y="558.50" width="3.67" height="13.50" fill="#f1d67e"/>
<rect x="508.98" y="558.50" width="3.67" height="13.50" fill="#f2ce7c"/>
<rect x="512.60" y="558.50" width="3.67" height="13.50" fill="#f0c47a"/>
<rect x="516.23" y="558.50" width="3.67" height="13.50" fill="#f0ba77"/>
<rect x="519.85" y="558.50" width="3.67" height="13.50" fill="#eead75"/>
<rect x="523.48" y="558.50" width="3.67" height="13.50" fill="#eb9c72"/>
<rect x="527.10" y="558.50" width="3.67" height="13.50" fill="#e98c70"/>
<rect x="530.73" y="558.50" width="3.67" height="13.50" fill="#e7816e"/>
<rect x="534.35" y="558.50" width="3.67" height="13.50" fill="#e6776d"/>
<rect x="537.98" y="558.50" width="3.67" height="13.50" fill="#e46c6b"/>
<rect x="179.10" y="583.80" width="4.33" height="13.39" fill="#50b07a"/>
<rect x="182.72" y="583.80" width="4.33" height="13.39" fill="#f0a070"/>
<rect x="186.35" y="583.80" width="4.33" height="13.39" fill="#50b07a"/>
<rect x="189.97" y="583.80" width="4.33" height="13.39" fill="#f3e283"/>
<rect x="193.60" y="583.80" width="4.33" height="13.39" fill="#50b07a"/>
<rect x="197.22" y="583.80" width="4.33" height="13.39" fill="#f3e283"/>
<rect x="200.85" y="583.80" width="4.33" height="13.39" fill="#50b07a"/>
<rect x="204.47" y="583.80" width="7.95" height="13.39" fill="#f3e283"/>
<rect x="211.72" y="583.80" width="4.33" height="13.39" fill="#f0a070"/>
<rect x="215.35" y="583.80" width="4.33" height="13.39" fill="#50b07a"/>
<rect x="218.97" y="583.80" width="4.33" height="13.39" fill="#f3e283"/>
<rect x="222.60" y="583.80" width="4.33" height="13.39" fill="#f2ce7c"/>
<rect x="226.22" y="583.80" width="4.33" height="13.39" fill="#50b07a"/>
<rect x="229.85" y="583.80" width="4.33" height="13.39" fill="#f3e283"/>
<rect x="233.47" y="583.80" width="7.95" height="13.39" fill="#f2ce7c"/>
<rect x="240.72" y="583.80" width="4.33" height="13.39" fill="#f3e283"/>
<rect x="244.35" y="583.80" width="4.33" height="13.39" fill="#50b07a"/>
<rect x="247.97" y="583.80" width="7.95" height="13.39" fill="#f3e283"/>
<rect x="255.22" y="583.80" width="4.33" height="13.39" fill="#50b07a"/>
<rect x="258.85" y="583.80" width="4.33" height="13.39" fill="#f3e283"/>
<rect x="262.48" y="583.80" width="4.33" height="13.39" fill="#f0a070"/>
<rect x="266.10" y="583.80" width="11.57" height="13.39" fill="#50b07a"/>
<rect x="276.98" y="583.80" width="4.33" height="13.39" fill="#f0a070"/>
<rect x="280.60" y="583.80" width="4.33" height="13.39" fill="#50b07a"/>
<rect x="284.23" y="583.80" width="4.33" height="13.39" fill="#f0a070"/>
<rect x="287.85" y="583.80" width="11.57" height="13.39" fill="#f3e283"/>
<rect x="298.73" y="583.80" width="7.95" height="13.39" fill="#50b07a"/>
<rect x="305.98" y="583.80" width="7.95" height="13.39" fill="#f3e283"/>
<rect x="313.23" y="583.80" width="4.33" height="13.39" fill="#50b07a"/>
<rect x="316.85" y="583.80" width="7.95" height="13.39" fill="#f3e283"/>
<rect x="324.10" y="583.80" width="4.33" height="13.39" fill="#f0a070"/>
<rect x="327.73" y="583.80" width="4.33" height="13.39" fill="#50b07a"/>
<rect x="331.35" y="583.80" width="4.33" height="13.39" fill="#f3e283"/>
<rect x="334.98" y="583.80" width="4.33" height="13.39" fill="#e76a6a"/>
<rect x="338.60" y="583.80" width="4.33" height="13.39" fill="#f2ce7c"/>
<rect x="342.23" y="583.80" width="18.82" height="13.39" fill="#f3e283"/>
<rect x="360.35" y="583.80" width="44.20" height="13.39" fill="#50b07a"/>
<rect x="403.85" y="583.80" width="4.33" height="13.39" fill="#f3e283"/>
<rect x="407.48" y="583.80" width="15.20" height="13.39" fill="#50b07a"/>
<rect x="421.98" y="583.80" width="4.33" height="13.39" fill="#f3e283"/>
<rect x="425.60" y="583.80" width="58.70" height="13.39" fill="#50b07a"/>
<rect x="483.60" y="583.80" width="4.33" height="13.39" fill="#f3e283"/>
<rect x="487.23" y="583.80" width="54.38" height="13.39" fill="#50b07a"/>
<rect x="179.10" y="596.49" width="4.33" height="13.39" fill="#50b07a"/>
<rect x="182.72" y="596.49" width="4.33" height="13.39" fill="#f3e283"/>
<rect x="186.35" y="596.49" width="4.33" height="13.39" fill="#50b07a"/>
<rect x="189.97" y="596.49" width="4.33" height="13.39" fill="#f0a070"/>
<rect x="193.60" y="596.49" width="15.20" height="13.39" fill="#50b07a"/>
<rect x="208.10" y="596.49" width="4.33" height="13.39" fill="#f3e283"/>
<rect x="211.72" y="596.49" width="4.33" height="13.39" fill="#e76a6a"/>
<rect x="215.35" y="596.49" width="7.95" height="13.39" fill="#50b07a"/>
<rect x="222.60" y="596.49" width="4.33" height="13.39" fill="#f0a070"/>
<rect x="226.22" y="596.49" width="4.33" height="13.39" fill="#50b07a"/>
<rect x="229.85" y="596.49" width="7.95" height="13.39" fill="#f0a070"/>
<rect x="237.10" y="596.49" width="7.95" height="13.39" fill="#f3e283"/>
<rect x="244.35" y="596.49" width="7.95" height="13.39" fill="#50b07a"/>
<rect x="251.60" y="596.49" width="7.95" height="13.39" fill="#f3e283"/>
<rect x="258.85" y="596.49" width="4.33" height="13.39" fill="#f2ce7c"/>
<rect x="262.48" y="596.49" width="4.33" height="13.39" fill="#f3e283"/>
<rect x="266.10" y="596.49" width="11.57" height="13.39" fill="#50b07a"/>
<rect x="276.98" y="596.49" width="4.33" height="13.39" fill="#f3e283"/>
<rect x="280.60" y="596.49" width="4.33" height="13.39" fill="#50b07a"/>
<rect x="284.23" y="596.49" width="4.33" height="13.39" fill="#e76a6a"/>
<rect x="287.85" y="596.49" width="4.33" height="13.39" fill="#f0a070"/>
<rect x="291.48" y="596.49" width="4.33" height="13.39" fill="#50b07a"/>
<rect x="295.10" y="596.49" width="4.33" height="13.39" fill="#f3e283"/>
<rect x="298.73" y="596.49" width="7.95" height="13.39" fill="#50b07a"/>
<rect x="305.98" y="596.49" width="4.33" height="13.39" fill="#f3e283"/>
<rect x="309.60" y="596.49" width="4.33" height="13.39" fill="#f2ce7c"/>
<rect x="313.23" y="596.49" width="4.33" height="13.39" fill="#50b07a"/>
<rect x="316.85" y="596.49" width="4.33" height="13.39" fill="#f3e283"/>
<rect x="320.48" y="596.49" width="4.33" height="13.39" fill="#e76a6a"/>
<rect x="324.10" y="596.49" width="4.33" height="13.39" fill="#f2ce7c"/>
<rect x="327.73" y="596.49" width="22.45" height="13.39" fill="#f3e283"/>
<rect x="349.48" y="596.49" width="4.33" height="13.39" fill="#50b07a"/>
<rect x="353.10" y="596.49" width="4.33" height="13.39" fill="#f3e283"/>
<rect x="356.73" y="596.49" width="184.88" height="13.39" fill="#50b07a"/>
<rect x="179.10" y="609.18" width="4.33" height="13.39" fill="#50b07a"/>
<rect x="182.72" y="609.18" width="4.33" height="13.39" fill="#f0a070"/>
<rect x="186.35" y="609.18" width="11.57" height="13.39" fill="#50b07a"/>
<rect x="197.22" y="609.18" width="4.33" height="13.39" fill="#f3e283"/>
<rect x="200.85" y="609.18" width="7.95" height="13.39" fill="#50b07a"/>
<rect x="208.10" y="609.18" width="4.33" height="13.39" fill="#e76a6a"/>
<rect x="211.72" y="609.18" width="4.33" height="13.39" fill="#f0a070"/>
<rect x="215.35" y="609.18" width="4.33" height="13.39" fill="#50b07a"/>
<rect x="218.97" y="609.18" width="11.57" height="13.39" fill="#f3e283"/>
<rect x="229.85" y="609.18" width="4.33" height="13.39" fill="#f2ce7c"/>
<rect x="233.47" y="609.18" width="11.57" height="13.39" fill="#f3e283"/>
<rect x="244.35" y="609.18" width="4.33" height="13.39" fill="#50b07a"/>
<rect x="247.97" y="609.18" width="15.20" height="13.39" fill="#f3e283"/>
<rect x="262.48" y="609.18" width="4.33" height="13.39" fill="#f2ce7c"/>
<rect x="266.10" y="609.18" width="11.57" height="13.39" fill="#50b07a"/>
<rect x="276.98" y="609.18" width="4.33" height="13.39" fill="#f3e283"/>
<rect x="280.60" y="609.18" width="4.33" height="13.39" fill="#f2ce7c"/>
<rect x="284.23" y="609.18" width="18.82" height="13.39" fill="#50b07a"/>
<rect x="302.35" y="609.18" width="15.20" height="13.39" fill="#f3e283"/>
<rect x="316.85" y="609.18" width="4.33" height="13.39" fill="#50b07a"/>
<rect x="320.48" y="609.18" width="7.95" height="13.39" fill="#f3e283"/>
<rect x="327.73" y="609.18" width="4.33" height="13.39" fill="#50b07a"/>
<rect x="331.35" y="609.18" width="4.33" height="13.39" fill="#f3e283"/>
<rect x="334.98" y="609.18" width="15.20" height="13.39" fill="#50b07a"/>
<rect x="349.48" y="609.18" width="7.95" height="13.39" fill="#f3e283"/>
<rect x="356.73" y="609.18" width="184.88" height="13.39" fill="#50b07a"/>
<rect x="179.10" y="621.86" width="4.33" height="13.39" fill="#50b07a"/>
<rect x="182.72" y="621.86" width="7.95" height="13.39" fill="#f3e283"/>
<rect x="189.97" y="621.86" width="4.33" height="13.39" fill="#50b07a"/>
<rect x="193.60" y="621.86" width="4.33" height="13.39" fill="#f3e283"/>
<rect x="197.22" y="621.86" width="11.57" height="13.39" fill="#50b07a"/>
<rect x="208.10" y="621.86" width="7.95" height="13.39" fill="#f3e283"/>
<rect x="215.35" y="621.86" width="4.33" height="13.39" fill="#e76a6a"/>
<rect x="218.97" y="621.86" width="4.33" height="13.39" fill="#f3e283"/>
<rect x="222.60" y="621.86" width="4.33" height="13.39" fill="#f0a070"/>
<rect x="226.22" y="621.86" width="4.33" height="13.39" fill="#f2ce7c"/>
<rect x="229.85" y="621.86" width="11.57" height="13.39" fill="#f3e283"/>
<rect x="240.72" y="621.86" width="4.33" height="13.39" fill="#f0a070"/>
<rect x="244.35" y="621.86" width="4.33" height="13.39" fill="#f3e283"/>
<rect x="247.97" y="621.86" width="4.33" height="13.39" fill="#e76a6a"/>
<rect x="251.60" y="621.86" width="4.33" height="13.39" fill="#f0a070"/>
<rect x="255.22" y="621.86" width="7.95" height="13.39" fill="#f2ce7c"/>
<rect x="262.48" y="621.86" width="11.57" height="13.39" fill="#50b07a"/>
<rect x="273.35" y="621.86" width="4.33" height="13.39" fill="#f3e283"/>
<rect x="276.98" y="621.86" width="7.95" height="13.39" fill="#50b07a"/>
<rect x="284.23" y="621.86" width="18.82" height="13.39" fill="#f3e283"/>
<rect x="302.35" y="621.86" width="4.33" height="13.39" fill="#50b07a"/>
<rect x="305.98" y="621.86" width="7.95" height="13.39" fill="#f3e283"/>
<rect x="313.23" y="621.86" width="7.95" height="13.39" fill="#f0a070"/>
<rect x="320.48" y="621.86" width="7.95" height="13.39" fill="#f2ce7c"/>
<rect x="327.73" y="621.86" width="4.33" height="13.39" fill="#f3e283"/>
<rect x="331.35" y="621.86" width="4.33" height="13.39" fill="#e76a6a"/>
<rect x="334.98" y="621.86" width="15.20" height="13.39" fill="#f3e283"/>
<rect x="349.48" y="621.86" width="4.33" height="13.39" fill="#f0a070"/>
<rect x="353.10" y="621.86" width="4.33" height="13.39" fill="#e76a6a"/>
<rect x="356.73" y="621.86" width="18.82" height="13.39" fill="#50b07a"/>
<rect x="374.85" y="621.86" width="4.33" height="13.39" fill="#f3e283"/>
<rect x="378.48" y="621.86" width="4.33" height="13.39" fill="#50b07a"/>
<rect x="382.10" y="621.86" width="4.33" height="13.39" fill="#f3e283"/>
<rect x="385.73" y="621.86" width="22.45" height="13.39" fill="#50b07a"/>
<rect x="407.48" y="621.86" width="7.95" height="13.39" fill="#f3e283"/>
<rect x="414.73" y="621.86" width="7.95" height="13.39" fill="#50b07a"/>
<rect x="421.98" y="621.86" width="4.33" height="13.39" fill="#6cb87b"/>
<rect x="425.60" y="621.86" width="4.33" height="13.39" fill="#50b07a"/>
<rect x="429.23" y="621.86" width="4.33" height="13.39" fill="#f3e283"/>
<rect x="432.85" y="621.86" width="36.95" height="13.39" fill="#50b07a"/>
<rect x="469.10" y="621.86" width="4.33" height="13.39" fill="#e76a6a"/>
<rect x="472.73" y="621.86" width="4.33" height="13.39" fill="#50b07a"/>
<rect x="476.35" y="621.86" width="4.33" height="13.39" fill="#6cb87b"/>
<rect x="479.98" y="621.86" width="4.33" height="13.39" fill="#e76a6a"/>
<rect x="483.60" y="621.86" width="4.33" height="13.39" fill="#f3e283"/>
<rect x="487.23" y="621.86" width="7.95" height="13.39" fill="#50b07a"/>
<rect x="494.48" y="621.86" width="7.95" height="13.39" fill="#f3e283"/>
<rect x="501.73" y="621.86" width="4.33" height="13.39" fill="#50b07a"/>
<rect x="505.35" y="621.86" width="4.33" height="13.39" fill="#e76a6a"/>
<rect x="508.98" y="621.86" width="4.33" height="13.39" fill="#f2ce7c"/>
<rect x="512.60" y="621.86" width="11.57" height="13.39" fill="#50b07a"/>
<rect x="523.48" y="621.86" width="4.33" height="13.39" fill="#accc7e"/>
<rect x="527.10" y="621.86" width="4.33" height="13.39" fill="#50b07a"/>
<rect x="530.73" y="621.86" width="4.33" height="13.39" fill="#6cb87b"/>
<rect x="534.35" y="621.86" width="7.25" height="13.39" fill="#50b07a"/>
<rect x="179.10" y="634.55" width="33.33" height="13.39" fill="#50b07a"/>
<rect x="211.72" y="634.55" width="4.33" height="13.39" fill="#f3e283"/>
<rect x="215.35" y="634.55" width="7.95" height="13.39" fill="#50b07a"/>
<rect x="222.60" y="634.55" width="4.33" height="13.39" fill="#f3e283"/>
<rect x="226.22" y="634.55" width="7.95" height="13.39" fill="#50b07a"/>
<rect x="233.47" y="634.55" width="4.33" height="13.39" fill="#f2ce7c"/>
<rect x="237.10" y="634.55" width="4.33" height="13.39" fill="#f3e283"/>
<rect x="240.72" y="634.55" width="15.20" height="13.39" fill="#50b07a"/>
<rect x="255.22" y="634.55" width="4.33" height="13.39" fill="#f3e283"/>
<rect x="258.85" y="634.55" width="26.07" height="13.39" fill="#50b07a"/>
<rect x="284.23" y="634.55" width="4.33" height="13.39" fill="#f3e283"/>
<rect x="287.85" y="634.55" width="7.95" height="13.39" fill="#50b07a"/>
<rect x="295.10" y="634.55" width="4.33" height="13.39" fill="#f3e283"/>
<rect x="298.73" y="634.55" width="15.20" height="13.39" fill="#50b07a"/>
<rect x="313.23" y="634.55" width="4.33" height="13.39" fill="#f3e283"/>
<rect x="316.85" y="634.55" width="15.20" height="13.39" fill="#50b07a"/>
<rect x="331.35" y="634.55" width="4.33" height="13.39" fill="#f3e283"/>
<rect x="334.98" y="634.55" width="7.95" height="13.39" fill="#50b07a"/>
<rect x="342.23" y="634.55" width="4.33" height="13.39" fill="#f2ce7c"/>
<rect x="345.85" y="634.55" width="4.33" height="13.39" fill="#f3e283"/>
<rect x="349.48" y="634.55" width="18.82" height="13.39" fill="#50b07a"/>
<rect x="367.60" y="634.55" width="4.33" height="13.39" fill="#f3e283"/>
<rect x="371.23" y="634.55" width="11.57" height="13.39" fill="#50b07a"/>
<rect x="382.10" y="634.55" width="4.33" height="13.39" fill="#f0a070"/>
<rect x="385.73" y="634.55" width="11.57" height="13.39" fill="#f3e283"/>
<rect x="396.60" y="634.55" width="4.33" height="13.39" fill="#f0a070"/>
<rect x="400.23" y="634.55" width="15.20" height="13.39" fill="#f3e283"/>
<rect x="414.73" y="634.55" width="4.33" height="13.39" fill="#f2ce7c"/>
<rect x="418.35" y="634.55" width="4.33" height="13.39" fill="#e76a6a"/>
<rect x="421.98" y="634.55" width="7.95" height="13.39" fill="#50b07a"/>
<rect x="429.23" y="634.55" width="4.33" height="13.39" fill="#f3e283"/>
<rect x="432.85" y="634.55" width="4.33" height="13.39" fill="#e76a6a"/>
<rect x="436.48" y="634.55" width="4.33" height="13.39" fill="#f2ce7c"/>
<rect x="440.10" y="634.55" width="4.33" height="13.39" fill="#f3e283"/>
<rect x="443.73" y="634.55" width="4.33" height="13.39" fill="#f0a070"/>
<rect x="447.35" y="634.55" width="18.82" height="13.39" fill="#50b07a"/>
<rect x="465.48" y="634.55" width="4.33" height="13.39" fill="#f2ce7c"/>
<rect x="469.10" y="634.55" width="4.33" height="13.39" fill="#50b07a"/>
<rect x="472.73" y="634.55" width="4.33" height="13.39" fill="#e76a6a"/>
<rect x="476.35" y="634.55" width="7.95" height="13.39" fill="#f3e283"/>
<rect x="483.60" y="634.55" width="4.33" height="13.39" fill="#f2ce7c"/>
<rect x="487.23" y="634.55" width="11.57" height="13.39" fill="#f3e283"/>
<rect x="498.10" y="634.55" width="4.33" height="13.39" fill="#f2ce7c"/>
<rect x="501.73" y="634.55" width="15.20" height="13.39" fill="#f3e283"/>
<rect x="516.23" y="634.55" width="4.33" height="13.39" fill="#f0a070"/>
<rect x="519.85" y="634.55" width="4.33" height="13.39" fill="#f2ce7c"/>
<rect x="523.48" y="634.55" width="11.57" height="13.39" fill="#f3e283"/>
<rect x="534.35" y="634.55" width="4.33" height="13.39" fill="#f0a070"/>
<rect x="537.98" y="634.55" width="3.62" height="13.39" fill="#50b07a"/>
<rect x="179.10" y="647.24" width="11.57" height="13.39" fill="#50b07a"/>
<rect x="189.97" y="647.24" width="4.33" height="13.39" fill="#f3e283"/>
<rect x="193.60" y="647.24" width="7.95" height="13.39" fill="#50b07a"/>
<rect x="200.85" y="647.24" width="4.33" height="13.39" fill="#f3e283"/>
<rect x="204.47" y="647.24" width="4.33" height="13.39" fill="#50b07a"/>
<rect x="208.10" y="647.24" width="4.33" height="13.39" fill="#f2ce7c"/>
<rect x="211.72" y="647.24" width="4.33" height="13.39" fill="#f0a070"/>
<rect x="215.35" y="647.24" width="7.95" height="13.39" fill="#50b07a"/>
<rect x="222.60" y="647.24" width="4.33" height="13.39" fill="#f3e283"/>
<rect x="226.22" y="647.24" width="4.33" height="13.39" fill="#50b07a"/>
<rect x="229.85" y="647.24" width="4.33" height="13.39" fill="#f3e283"/>
<rect x="233.47" y="647.24" width="4.33" height="13.39" fill="#f2ce7c"/>
<rect x="237.10" y="647.24" width="4.33" height="13.39" fill="#50b07a"/>
<rect x="240.72" y="647.24" width="4.33" height="13.39" fill="#f3e283"/>
<rect x="244.35" y="647.24" width="7.95" height="13.39" fill="#50b07a"/>
<rect x="251.60" y="647.24" width="4.33" height="13.39" fill="#f3e283"/>
<rect x="255.22" y="647.24" width="4.33" height="13.39" fill="#f2ce7c"/>
<rect x="258.85" y="647.24" width="18.82" height="13.39" fill="#50b07a"/>
<rect x="276.98" y="647.24" width="4.33" height="13.39" fill="#f0a070"/>
<rect x="280.60" y="647.24" width="7.95" height="13.39" fill="#50b07a"/>
<rect x="287.85" y="647.24" width="7.95" height="13.39" fill="#e76a6a"/>
<rect x="295.10" y="647.24" width="4.33" height="13.39" fill="#f3e283"/>
<rect x="298.73" y="647.24" width="7.95" height="13.39" fill="#50b07a"/>
<rect x="305.98" y="647.24" width="4.33" height="13.39" fill="#f3e283"/>
<rect x="309.60" y="647.24" width="7.95" height="13.39" fill="#50b07a"/>
<rect x="316.85" y="647.24" width="4.33" height="13.39" fill="#f0a070"/>
<rect x="320.48" y="647.24" width="4.33" height="13.39" fill="#f2ce7c"/>
<rect x="324.10" y="647.24" width="4.33" height="13.39" fill="#e76a6a"/>
<rect x="327.73" y="647.24" width="4.33" height="13.39" fill="#50b07a"/>
<rect x="331.35" y="647.24" width="4.33" height="13.39" fill="#f3e283"/>
<rect x="334.98" y="647.24" width="4.33" height="13.39" fill="#50b07a"/>
<rect x="338.60" y="647.24" width="4.33" height="13.39" fill="#f0a070"/>
<rect x="342.23" y="647.24" width="11.57" height="13.39" fill="#50b07a"/>
<rect x="353.10" y="647.24" width="7.95" height="13.39" fill="#f2ce7c"/>
<rect x="360.35" y="647.24" width="109.45" height="13.39" fill="#50b07a"/>
<rect x="469.10" y="647.24" width="4.33" height="13.39" fill="#f3e283"/>
<rect x="472.73" y="647.24" width="68.88" height="13.39" fill="#50b07a"/>
<rect x="179.10" y="659.93" width="11.57" height="13.39" fill="#50b07a"/>
<rect x="189.97" y="659.93" width="4.33" height="13.39" fill="#e76a6a"/>
<rect x="193.60" y="659.93" width="22.45" height="13.39" fill="#50b07a"/>
<rect x="215.35" y="659.93" width="4.33" height="13.39" fill="#f3e283"/>
<rect x="218.97" y="659.93" width="4.33" height="13.39" fill="#50b07a"/>
<rect x="222.60" y="659.93" width="7.95" height="13.39" fill="#f3e283"/>
<rect x="229.85" y="659.93" width="4.33" height="13.39" fill="#50b07a"/>
<rect x="233.47" y="659.93" width="4.33" height="13.39" fill="#f3e283"/>
<rect x="237.10" y="659.93" width="7.95" height="13.39" fill="#50b07a"/>
<rect x="244.35" y="659.93" width="4.33" height="13.39" fill="#f3e283"/>
<rect x="247.97" y="659.93" width="7.95" height="13.39" fill="#50b07a"/>
<rect x="255.22" y="659.93" width="7.95" height="13.39" fill="#f3e283"/>
<rect x="262.48" y="659.93" width="22.45" height="13.39" fill="#50b07a"/>
<rect x="284.23" y="659.93" width="4.33" height="13.39" fill="#f3e283"/>
<rect x="287.85" y="659.93" width="18.82" height="13.39" fill="#50b07a"/>
<rect x="305.98" y="659.93" width="15.20" height="13.39" fill="#f3e283"/>
<rect x="320.48" y="659.93" width="7.95" height="13.39" fill="#50b07a"/>
<rect x="327.73" y="659.93" width="4.33" height="13.39" fill="#f3e283"/>
<rect x="331.35" y="659.93" width="11.57" height="13.39" fill="#50b07a"/>
<rect x="342.23" y="659.93" width="4.33" height="13.39" fill="#e76a6a"/>
<rect x="345.85" y="659.93" width="4.33" height="13.39" fill="#f0a070"/>
<rect x="349.48" y="659.93" width="7.95" height="13.39" fill="#50b07a"/>
<rect x="356.73" y="659.93" width="4.33" height="13.39" fill="#f3e283"/>
<rect x="360.35" y="659.93" width="7.95" height="13.39" fill="#50b07a"/>
<rect x="367.60" y="659.93" width="4.33" height="13.39" fill="#f2ce7c"/>
<rect x="371.23" y="659.93" width="7.95" height="13.39" fill="#f3e283"/>
<rect x="378.48" y="659.93" width="4.33" height="13.39" fill="#50b07a"/>
<rect x="382.10" y="659.93" width="4.33" height="13.39" fill="#e76a6a"/>
<rect x="385.73" y="659.93" width="7.95" height="13.39" fill="#50b07a"/>
<rect x="392.98" y="659.93" width="7.95" height="13.39" fill="#f3e283"/>
<rect x="400.23" y="659.93" width="4.33" height="13.39" fill="#50b07a"/>
<rect x="403.85" y="659.93" width="4.33" height="13.39" fill="#f3e283"/>
<rect x="407.48" y="659.93" width="7.95" height="13.39" fill="#f0a070"/>
<rect x="414.73" y="659.93" width="7.95" height="13.39" fill="#f3e283"/>
<rect x="421.98" y="659.93" width="4.33" height="13.39" fill="#f2ce7c"/>
<rect x="425.60" y="659.93" width="15.20" height="13.39" fill="#f3e283"/>
<rect x="440.10" y="659.93" width="4.33" height="13.39" fill="#f2ce7c"/>
<rect x="443.73" y="659.93" width="4.33" height="13.39" fill="#f3e283"/>
<rect x="447.35" y="659.93" width="18.82" height="13.39" fill="#50b07a"/>
<rect x="465.48" y="659.93" width="4.33" height="13.39" fill="#f3e283"/>
<rect x="469.10" y="659.93" width="4.33" height="13.39" fill="#f2ce7c"/>
<rect x="472.73" y="659.93" width="4.33" height="13.39" fill="#f3e283"/>
<rect x="476.35" y="659.93" width="4.33" height="13.39" fill="#50b07a"/>
<rect x="479.98" y="659.93" width="7.95" height="13.39" fill="#f3e283"/>
<rect x="487.23" y="659.93" width="7.95" height="13.39" fill="#50b07a"/>
<rect x="494.48" y="659.93" width="11.57" height="13.39" fill="#f3e283"/>
<rect x="505.35" y="659.93" width="4.33" height="13.39" fill="#50b07a"/>
<rect x="508.98" y="659.93" width="4.33" height="13.39" fill="#f3e283"/>
<rect x="512.60" y="659.93" width="4.33" height="13.39" fill="#50b07a"/>
<rect x="516.23" y="659.93" width="4.33" height="13.39" fill="#f2ce7c"/>
<rect x="519.85" y="659.93" width="7.95" height="13.39" fill="#f0a070"/>
<rect x="527.10" y="659.93" width="11.57" height="13.39" fill="#f2ce7c"/>
<rect x="537.98" y="659.93" width="3.62" height="13.39" fill="#f3e283"/>
<rect x="179.10" y="672.62" width="4.33" height="13.39" fill="#50b07a"/>
<rect x="182.72" y="672.62" width="4.33" height="13.39" fill="#f3e283"/>
<rect x="186.35" y="672.62" width="4.33" height="13.39" fill="#50b07a"/>
<rect x="189.97" y="672.62" width="4.33" height="13.39" fill="#f3e283"/>
<rect x="193.60" y="672.62" width="18.82" height="13.39" fill="#50b07a"/>
<rect x="211.72" y="672.62" width="7.95" height="13.39" fill="#f3e283"/>
<rect x="218.97" y="672.62" width="4.33" height="13.39" fill="#50b07a"/>
<rect x="222.60" y="672.62" width="7.95" height="13.39" fill="#f3e283"/>
<rect x="229.85" y="672.62" width="4.33" height="13.39" fill="#accc7e"/>
<rect x="233.47" y="672.62" width="11.57" height="13.39" fill="#50b07a"/>
<rect x="244.35" y="672.62" width="4.33" height="13.39" fill="#6cb87b"/>
<rect x="247.97" y="672.62" width="4.33" height="13.39" fill="#f3e283"/>
<rect x="251.60" y="672.62" width="4.33" height="13.39" fill="#accc7e"/>
<rect x="255.22" y="672.62" width="4.33" height="13.39" fill="#f3e283"/>
<rect x="258.85" y="672.62" width="4.33" height="13.39" fill="#50b07a"/>
<rect x="262.48" y="672.62" width="4.33" height="13.39" fill="#6cb87b"/>
<rect x="266.10" y="672.62" width="18.82" height="13.39" fill="#50b07a"/>
<rect x="284.23" y="672.62" width="7.95" height="13.39" fill="#f3e283"/>
<rect x="291.48" y="672.62" width="15.20" height="13.39" fill="#50b07a"/>
<rect x="305.98" y="672.62" width="4.33" height="13.39" fill="#f3e283"/>
<rect x="309.60" y="672.62" width="4.33" height="13.39" fill="#50b07a"/>
<rect x="313.23" y="672.62" width="7.95" height="13.39" fill="#f3e283"/>
<rect x="320.48" y="672.62" width="7.95" height="13.39" fill="#50b07a"/>
<rect x="327.73" y="672.62" width="4.33" height="13.39" fill="#f3e283"/>
<rect x="331.35" y="672.62" width="4.33" height="13.39" fill="#50b07a"/>
<rect x="334.98" y="672.62" width="11.57" height="13.39" fill="#6cb87b"/>
<rect x="345.85" y="672.62" width="4.33" height="13.39" fill="#accc7e"/>
<rect x="349.48" y="672.62" width="4.33" height="13.39" fill="#50b07a"/>
<rect x="353.10" y="672.62" width="4.33" height="13.39" fill="#6cb87b"/>
<rect x="356.73" y="672.62" width="4.33" height="13.39" fill="#f3e283"/>
<rect x="360.35" y="672.62" width="11.57" height="13.39" fill="#50b07a"/>
<rect x="371.23" y="672.62" width="4.33" height="13.39" fill="#e76a6a"/>
<rect x="374.85" y="672.62" width="7.95" height="13.39" fill="#f3e283"/>
<rect x="382.10" y="672.62" width="4.33" height="13.39" fill="#f2ce7c"/>
<rect x="385.73" y="672.62" width="4.33" height="13.39" fill="#50b07a"/>
<rect x="389.35" y="672.62" width="11.57" height="13.39" fill="#f3e283"/>
<rect x="400.23" y="672.62" width="4.33" height="13.39" fill="#50b07a"/>
<rect x="403.85" y="672.62" width="4.33" height="13.39" fill="#f2ce7c"/>
<rect x="407.48" y="672.62" width="11.57" height="13.39" fill="#f3e283"/>
<rect x="418.35" y="672.62" width="4.33" height="13.39" fill="#f2ce7c"/>
<rect x="421.98" y="672.62" width="22.45" height="13.39" fill="#f3e283"/>
<rect x="443.73" y="672.62" width="4.33" height="13.39" fill="#f0a070"/>
<rect x="447.35" y="672.62" width="11.57" height="13.39" fill="#50b07a"/>
<rect x="458.23" y="672.62" width="4.33" height="13.39" fill="#accc7e"/>
<rect x="461.85" y="672.62" width="4.33" height="13.39" fill="#50b07a"/>
<rect x="465.48" y="672.62" width="7.95" height="13.39" fill="#f3e283"/>
<rect x="472.73" y="672.62" width="4.33" height="13.39" fill="#f2ce7c"/>
<rect x="476.35" y="672.62" width="22.45" height="13.39" fill="#f3e283"/>
<rect x="498.10" y="672.62" width="4.33" height="13.39" fill="#f2ce7c"/>
<rect x="501.73" y="672.62" width="22.45" height="13.39" fill="#f3e283"/>
<rect x="523.48" y="672.62" width="4.33" height="13.39" fill="#50b07a"/>
<rect x="527.10" y="672.62" width="14.50" height="13.39" fill="#f3e283"/>
<rect x="179.10" y="685.30" width="4.33" height="13.39" fill="#50b07a"/>
<rect x="182.72" y="685.30" width="4.33" height="13.39" fill="#f0a070"/>
<rect x="186.35" y="685.30" width="4.33" height="13.39" fill="#50b07a"/>
<rect x="189.97" y="685.30" width="4.33" height="13.39" fill="#f3e283"/>
<rect x="193.60" y="685.30" width="7.95" height="13.39" fill="#50b07a"/>
<rect x="200.85" y="685.30" width="4.33" height="13.39" fill="#f3e283"/>
<rect x="204.47" y="685.30" width="4.33" height="13.39" fill="#50b07a"/>
<rect x="208.10" y="685.30" width="7.95" height="13.39" fill="#f3e283"/>
<rect x="215.35" y="685.30" width="4.33" height="13.39" fill="#50b07a"/>
<rect x="218.97" y="685.30" width="4.33" height="13.39" fill="#f3e283"/>
<rect x="222.60" y="685.30" width="4.33" height="13.39" fill="#f0a070"/>
<rect x="226.22" y="685.30" width="4.33" height="13.39" fill="#f2ce7c"/>
<rect x="229.85" y="685.30" width="11.57" height="13.39" fill="#f3e283"/>
<rect x="240.72" y="685.30" width="7.95" height="13.39" fill="#f0a070"/>
<rect x="247.97" y="685.30" width="4.33" height="13.39" fill="#f3e283"/>
<rect x="251.60" y="685.30" width="4.33" height="13.39" fill="#f2ce7c"/>
<rect x="255.22" y="685.30" width="4.33" height="13.39" fill="#f0a070"/>
<rect x="258.85" y="685.30" width="4.33" height="13.39" fill="#f2ce7c"/>
<rect x="262.48" y="685.30" width="22.45" height="13.39" fill="#50b07a"/>
<rect x="284.23" y="685.30" width="4.33" height="13.39" fill="#f0a070"/>
<rect x="287.85" y="685.30" width="4.33" height="13.39" fill="#f3e283"/>
<rect x="291.48" y="685.30" width="4.33" height="13.39" fill="#50b07a"/>
<rect x="295.10" y="685.30" width="4.33" height="13.39" fill="#f3e283"/>
<rect x="298.73" y="685.30" width="7.95" height="13.39" fill="#50b07a"/>
<rect x="305.98" y="685.30" width="4.33" height="13.39" fill="#f3e283"/>
<rect x="309.60" y="685.30" width="4.33" height="13.39" fill="#50b07a"/>
<rect x="313.23" y="685.30" width="4.33" height="13.39" fill="#f3e283"/>
<rect x="316.85" y="685.30" width="4.33" height="13.39" fill="#e76a6a"/>
<rect x="320.48" y="685.30" width="4.33" height="13.39" fill="#f0a070"/>
<rect x="324.10" y="685.30" width="4.33" height="13.39" fill="#e76a6a"/>
<rect x="327.73" y="685.30" width="4.33" height="13.39" fill="#f3e283"/>
<rect x="331.35" y="685.30" width="4.33" height="13.39" fill="#f2ce7c"/>
<rect x="334.98" y="685.30" width="15.20" height="13.39" fill="#f3e283"/>
<rect x="349.48" y="685.30" width="7.95" height="13.39" fill="#f0a070"/>
<rect x="356.73" y="685.30" width="44.20" height="13.39" fill="#50b07a"/>
<rect x="400.23" y="685.30" width="4.33" height="13.39" fill="#f3e283"/>
<rect x="403.85" y="685.30" width="4.33" height="13.39" fill="#50b07a"/>
<rect x="407.48" y="685.30" width="4.33" height="13.39" fill="#f3e283"/>
<rect x="411.10" y="685.30" width="15.20" height="13.39" fill="#50b07a"/>
<rect x="425.60" y="685.30" width="4.33" height="13.39" fill="#f3e283"/>
<rect x="429.23" y="685.30" width="4.33" height="13.39" fill="#f2ce7c"/>
<rect x="432.85" y="685.30" width="4.33" height="13.39" fill="#f3e283"/>
<rect x="436.48" y="685.30" width="4.33" height="13.39" fill="#f2ce7c"/>
<rect x="440.10" y="685.30" width="4.33" height="13.39" fill="#f3e283"/>
<rect x="443.73" y="685.30" width="26.07" height="13.39" fill="#50b07a"/>
<rect x="469.10" y="685.30" width="4.33" height="13.39" fill="#f3e283"/>
<rect x="472.73" y="685.30" width="26.07" height="13.39" fill="#50b07a"/>
<rect x="498.10" y="685.30" width="11.57" height="13.39" fill="#f3e283"/>
<rect x="508.98" y="685.30" width="4.33" height="13.39" fill="#f2ce7c"/>
<rect x="512.60" y="685.30" width="7.95" height="13.39" fill="#50b07a"/>
<rect x="519.85" y="685.30" width="7.95" height="13.39" fill="#f3e283"/>
<rect x="527.10" y="685.30" width="11.57" height="13.39" fill="#50b07a"/>
<rect x="537.98" y="685.30" width="3.62" height="13.39" fill="#f3e283"/>
<rect x="179.10" y="697.99" width="84.08" height="13.39" fill="#50b07a"/>
<rect x="262.48" y="697.99" width="4.33" height="13.39" fill="#f3e283"/>
<rect x="266.10" y="697.99" width="91.33" height="13.39" fill="#50b07a"/>
<rect x="356.73" y="697.99" width="4.33" height="13.39" fill="#f3e283"/>
<rect x="360.35" y="697.99" width="15.20" height="13.39" fill="#50b07a"/>
<rect x="374.85" y="697.99" width="11.57" height="13.39" fill="#f3e283"/>
<rect x="385.73" y="697.99" width="4.33" height="13.39" fill="#50b07a"/>
<rect x="389.35" y="697.99" width="11.57" height="13.39" fill="#f3e283"/>
<rect x="400.23" y="697.99" width="4.33" height="13.39" fill="#50b07a"/>
<rect x="403.85" y="697.99" width="4.33" height="13.39" fill="#f3e283"/>
<rect x="407.48" y="697.99" width="11.57" height="13.39" fill="#50b07a"/>
<rect x="418.35" y="697.99" width="4.33" height="13.39" fill="#f3e283"/>
<rect x="421.98" y="697.99" width="11.57" height="13.39" fill="#50b07a"/>
<rect x="432.85" y="697.99" width="4.33" height="13.39" fill="#f3e283"/>
<rect x="436.48" y="697.99" width="4.33" height="13.39" fill="#e76a6a"/>
<rect x="440.10" y="697.99" width="18.82" height="13.39" fill="#50b07a"/>
<rect x="458.23" y="697.99" width="4.33" height="13.39" fill="#f3e283"/>
<rect x="461.85" y="697.99" width="4.33" height="13.39" fill="#50b07a"/>
<rect x="465.48" y="697.99" width="4.33" height="13.39" fill="#f0a070"/>
<rect x="469.10" y="697.99" width="4.33" height="13.39" fill="#50b07a"/>
<rect x="472.73" y="697.99" width="4.33" height="13.39" fill="#f3e283"/>
<rect x="476.35" y="697.99" width="7.95" height="13.39" fill="#50b07a"/>
<rect x="483.60" y="697.99" width="4.33" height="13.39" fill="#f3e283"/>
<rect x="487.23" y="697.99" width="18.82" height="13.39" fill="#50b07a"/>
<rect x="505.35" y="697.99" width="7.95" height="13.39" fill="#f3e283"/>
<rect x="512.60" y="697.99" width="4.33" height="13.39" fill="#50b07a"/>
<rect x="516.23" y="697.99" width="11.57" height="13.39" fill="#f3e283"/>
<rect x="527.10" y="697.99" width="4.33" height="13.39" fill="#f2ce7c"/>
<rect x="530.73" y="697.99" width="7.95" height="13.39" fill="#f3e283"/>
<rect x="537.98" y="697.99" width="3.62" height="13.39" fill="#50b07a"/>
<rect x="179.10" y="710.68" width="4.33" height="13.39" fill="#f0a070"/>
<rect x="182.72" y="710.68" width="4.33" height="13.39" fill="#f2ce7c"/>
<rect x="186.35" y="710.68" width="4.33" height="13.39" fill="#f3e283"/>
<rect x="189.97" y="710.68" width="4.33" height="13.39" fill="#f2ce7c"/>
<rect x="193.60" y="710.68" width="4.33" height="13.39" fill="#e76a6a"/>
<rect x="197.22" y="710.68" width="7.95" height="13.39" fill="#f0a070"/>
<rect x="204.47" y="710.68" width="4.33" height="13.39" fill="#f3e283"/>
<rect x="208.10" y="710.68" width="4.33" height="13.39" fill="#f0a070"/>
<rect x="211.72" y="710.68" width="4.33" height="13.39" fill="#e76a6a"/>
<rect x="215.35" y="710.68" width="4.33" height="13.39" fill="#50b07a"/>
<rect x="218.97" y="710.68" width="7.95" height="13.39" fill="#f3e283"/>
<rect x="226.22" y="710.68" width="4.33" height="13.39" fill="#50b07a"/>
<rect x="229.85" y="710.68" width="4.33" height="13.39" fill="#f0a070"/>
<rect x="233.47" y="710.68" width="4.33" height="13.39" fill="#f2ce7c"/>
<rect x="237.10" y="710.68" width="4.33" height="13.39" fill="#f3e283"/>
<rect x="240.72" y="710.68" width="4.33" height="13.39" fill="#f0a070"/>
<rect x="244.35" y="710.68" width="7.95" height="13.39" fill="#50b07a"/>
<rect x="251.60" y="710.68" width="4.33" height="13.39" fill="#f0a070"/>
<rect x="255.22" y="710.68" width="7.95" height="13.39" fill="#50b07a"/>
<rect x="262.48" y="710.68" width="4.33" height="13.39" fill="#f2ce7c"/>
<rect x="266.10" y="710.68" width="4.33" height="13.39" fill="#50b07a"/>
<rect x="269.73" y="710.68" width="4.33" height="13.39" fill="#f2ce7c"/>
<rect x="273.35" y="710.68" width="4.33" height="13.39" fill="#e76a6a"/>
<rect x="276.98" y="710.68" width="7.95" height="13.39" fill="#f0a070"/>
<rect x="284.23" y="710.68" width="15.20" height="13.39" fill="#f3e283"/>
<rect x="298.73" y="710.68" width="4.33" height="13.39" fill="#50b07a"/>
<rect x="302.35" y="710.68" width="4.33" height="13.39" fill="#f0a070"/>
<rect x="305.98" y="710.68" width="4.33" height="13.39" fill="#accc7e"/>
<rect x="309.60" y="710.68" width="4.33" height="13.39" fill="#f0a070"/>
<rect x="313.23" y="710.68" width="4.33" height="13.39" fill="#6cb87b"/>
<rect x="316.85" y="710.68" width="4.33" height="13.39" fill="#f3e283"/>
<rect x="320.48" y="710.68" width="4.33" height="13.39" fill="#6cb87b"/>
<rect x="324.10" y="710.68" width="4.33" height="13.39" fill="#e76a6a"/>
<rect x="327.73" y="710.68" width="4.33" height="13.39" fill="#50b07a"/>
<rect x="331.35" y="710.68" width="15.20" height="13.39" fill="#f2ce7c"/>
<rect x="345.85" y="710.68" width="4.33" height="13.39" fill="#f3e283"/>
<rect x="349.48" y="710.68" width="4.33" height="13.39" fill="#50b07a"/>
<rect x="353.10" y="710.68" width="4.33" height="13.39" fill="#accc7e"/>
<rect x="356.73" y="710.68" width="11.57" height="13.39" fill="#50b07a"/>
<rect x="367.60" y="710.68" width="4.33" height="13.39" fill="#f3e283"/>
<rect x="371.23" y="710.68" width="7.95" height="13.39" fill="#50b07a"/>
<rect x="378.48" y="710.68" width="4.33" height="13.39" fill="#f0a070"/>
<rect x="382.10" y="710.68" width="4.33" height="13.39" fill="#f3e283"/>
<rect x="385.73" y="710.68" width="4.33" height="13.39" fill="#50b07a"/>
<rect x="389.35" y="710.68" width="4.33" height="13.39" fill="#accc7e"/>
<rect x="392.98" y="710.68" width="4.33" height="13.39" fill="#f2ce7c"/>
<rect x="396.60" y="710.68" width="7.95" height="13.39" fill="#f3e283"/>
<rect x="403.85" y="710.68" width="7.95" height="13.39" fill="#50b07a"/>
<rect x="411.10" y="710.68" width="4.33" height="13.39" fill="#f3e283"/>
<rect x="414.73" y="710.68" width="4.33" height="13.39" fill="#f2ce7c"/>
<rect x="418.35" y="710.68" width="4.33" height="13.39" fill="#f3e283"/>
<rect x="421.98" y="710.68" width="4.33" height="13.39" fill="#50b07a"/>
<rect x="425.60" y="710.68" width="4.33" height="13.39" fill="#accc7e"/>
<rect x="429.23" y="710.68" width="7.95" height="13.39" fill="#50b07a"/>
<rect x="436.48" y="710.68" width="4.33" height="13.39" fill="#f3e283"/>
<rect x="440.10" y="710.68" width="4.33" height="13.39" fill="#f2ce7c"/>
<rect x="443.73" y="710.68" width="4.33" height="13.39" fill="#accc7e"/>
<rect x="447.35" y="710.68" width="18.82" height="13.39" fill="#50b07a"/>
<rect x="465.48" y="710.68" width="4.33" height="13.39" fill="#f0a070"/>
<rect x="469.10" y="710.68" width="4.33" height="13.39" fill="#6cb87b"/>
<rect x="472.73" y="710.68" width="4.33" height="13.39" fill="#f0a070"/>
<rect x="476.35" y="710.68" width="4.33" height="13.39" fill="#f3e283"/>
<rect x="479.98" y="710.68" width="4.33" height="13.39" fill="#50b07a"/>
<rect x="483.60" y="710.68" width="4.33" height="13.39" fill="#f3e283"/>
<rect x="487.23" y="710.68" width="4.33" height="13.39" fill="#50b07a"/>
<rect x="490.85" y="710.68" width="7.95" height="13.39" fill="#f3e283"/>
<rect x="498.10" y="710.68" width="43.50" height="13.39" fill="#50b07a"/>
<rect x="179.10" y="723.37" width="62.33" height="13.39" fill="#50b07a"/>
<rect x="240.72" y="723.37" width="4.33" height="13.39" fill="#f3e283"/>
<rect x="244.35" y="723.37" width="15.20" height="13.39" fill="#50b07a"/>
<rect x="258.85" y="723.37" width="7.95" height="13.39" fill="#f3e283"/>
<rect x="266.10" y="723.37" width="18.82" height="13.39" fill="#50b07a"/>
<rect x="284.23" y="723.37" width="4.33" height="13.39" fill="#f0a070"/>
<rect x="287.85" y="723.37" width="47.83" height="13.39" fill="#50b07a"/>
<rect x="334.98" y="723.37" width="11.57" height="13.39" fill="#f3e283"/>
<rect x="345.85" y="723.37" width="11.57" height="13.39" fill="#50b07a"/>
<rect x="356.73" y="723.37" width="4.33" height="13.39" fill="#f3e283"/>
<rect x="360.35" y="723.37" width="7.95" height="13.39" fill="#50b07a"/>
<rect x="367.60" y="723.37" width="4.33" height="13.39" fill="#f3e283"/>
<rect x="371.23" y="723.37" width="11.57" height="13.39" fill="#50b07a"/>
<rect x="382.10" y="723.37" width="4.33" height="13.39" fill="#e76a6a"/>
<rect x="385.73" y="723.37" width="4.33" height="13.39" fill="#50b07a"/>
<rect x="389.35" y="723.37" width="4.33" height="13.39" fill="#f2ce7c"/>
<rect x="392.98" y="723.37" width="4.33" height="13.39" fill="#50b07a"/>
<rect x="396.60" y="723.37" width="4.33" height="13.39" fill="#f3e283"/>
<rect x="400.23" y="723.37" width="7.95" height="13.39" fill="#f2ce7c"/>
<rect x="407.48" y="723.37" width="4.33" height="13.39" fill="#f3e283"/>
<rect x="411.10" y="723.37" width="4.33" height="13.39" fill="#50b07a"/>
<rect x="414.73" y="723.37" width="4.33" height="13.39" fill="#f3e283"/>
<rect x="418.35" y="723.37" width="4.33" height="13.39" fill="#f2ce7c"/>
<rect x="421.98" y="723.37" width="4.33" height="13.39" fill="#f3e283"/>
<rect x="425.60" y="723.37" width="4.33" height="13.39" fill="#50b07a"/>
<rect x="429.23" y="723.37" width="15.20" height="13.39" fill="#f3e283"/>
<rect x="443.73" y="723.37" width="4.33" height="13.39" fill="#e76a6a"/>
<rect x="447.35" y="723.37" width="26.07" height="13.39" fill="#50b07a"/>
<rect x="472.73" y="723.37" width="4.33" height="13.39" fill="#e76a6a"/>
<rect x="476.35" y="723.37" width="7.95" height="13.39" fill="#50b07a"/>
<rect x="483.60" y="723.37" width="11.57" height="13.39" fill="#f3e283"/>
<rect x="494.48" y="723.37" width="4.33" height="13.39" fill="#f2ce7c"/>
<rect x="498.10" y="723.37" width="4.33" height="13.39" fill="#f3e283"/>
<rect x="501.73" y="723.37" width="7.95" height="13.39" fill="#50b07a"/>
<rect x="508.98" y="723.37" width="26.07" height="13.39" fill="#f3e283"/>
<rect x="534.35" y="723.37" width="7.25" height="13.39" fill="#50b07a"/>
<rect x="179.10" y="736.06" width="4.33" height="13.39" fill="#50b07a"/>
<rect x="182.72" y="736.06" width="4.33" height="13.39" fill="#f0a070"/>
<rect x="186.35" y="736.06" width="22.45" height="13.39" fill="#50b07a"/>
<rect x="208.10" y="736.06" width="4.33" height="13.39" fill="#e76a6a"/>
<rect x="211.72" y="736.06" width="4.33" height="13.39" fill="#f0a070"/>
<rect x="215.35" y="736.06" width="7.95" height="13.39" fill="#50b07a"/>
<rect x="222.60" y="736.06" width="4.33" height="13.39" fill="#e76a6a"/>
<rect x="226.22" y="736.06" width="4.33" height="13.39" fill="#50b07a"/>
<rect x="229.85" y="736.06" width="4.33" height="13.39" fill="#f3e283"/>
<rect x="233.47" y="736.06" width="7.95" height="13.39" fill="#f0a070"/>
<rect x="240.72" y="736.06" width="4.33" height="13.39" fill="#f3e283"/>
<rect x="244.35" y="736.06" width="7.95" height="13.39" fill="#50b07a"/>
<rect x="251.60" y="736.06" width="4.33" height="13.39" fill="#f3e283"/>
<rect x="255.22" y="736.06" width="4.33" height="13.39" fill="#50b07a"/>
<rect x="258.85" y="736.06" width="4.33" height="13.39" fill="#e76a6a"/>
<rect x="262.48" y="736.06" width="4.33" height="13.39" fill="#f0a070"/>
<rect x="266.10" y="736.06" width="11.57" height="13.39" fill="#50b07a"/>
<rect x="276.98" y="736.06" width="4.33" height="13.39" fill="#f3e283"/>
<rect x="280.60" y="736.06" width="4.33" height="13.39" fill="#f0a070"/>
<rect x="284.23" y="736.06" width="29.70" height="13.39" fill="#50b07a"/>
<rect x="313.23" y="736.06" width="4.33" height="13.39" fill="#f3e283"/>
<rect x="316.85" y="736.06" width="4.33" height="13.39" fill="#50b07a"/>
<rect x="320.48" y="736.06" width="4.33" height="13.39" fill="#f3e283"/>
<rect x="324.10" y="736.06" width="4.33" height="13.39" fill="#f0a070"/>
<rect x="327.73" y="736.06" width="4.33" height="13.39" fill="#50b07a"/>
<rect x="331.35" y="736.06" width="4.33" height="13.39" fill="#f3e283"/>
<rect x="334.98" y="736.06" width="18.82" height="13.39" fill="#50b07a"/>
<rect x="353.10" y="736.06" width="4.33" height="13.39" fill="#f3e283"/>
<rect x="356.73" y="736.06" width="184.88" height="13.39" fill="#50b07a"/>
<rect x="179.10" y="748.74" width="47.83" height="13.39" fill="#50b07a"/>
<rect x="226.22" y="748.74" width="7.95" height="13.39" fill="#f3e283"/>
<rect x="233.47" y="748.74" width="4.33" height="13.39" fill="#50b07a"/>
<rect x="237.10" y="748.74" width="4.33" height="13.39" fill="#f3e283"/>
<rect x="240.72" y="748.74" width="15.20" height="13.39" fill="#50b07a"/>
<rect x="255.22" y="748.74" width="7.95" height="13.39" fill="#f3e283"/>
<rect x="262.48" y="748.74" width="22.45" height="13.39" fill="#50b07a"/>
<rect x="284.23" y="748.74" width="4.33" height="13.39" fill="#f3e283"/>
<rect x="287.85" y="748.74" width="22.45" height="13.39" fill="#50b07a"/>
<rect x="309.60" y="748.74" width="4.33" height="13.39" fill="#f0a070"/>
<rect x="313.23" y="748.74" width="7.95" height="13.39" fill="#f3e283"/>
<rect x="320.48" y="748.74" width="22.45" height="13.39" fill="#50b07a"/>
<rect x="342.23" y="748.74" width="4.33" height="13.39" fill="#f3e283"/>
<rect x="345.85" y="748.74" width="26.07" height="13.39" fill="#50b07a"/>
<rect x="371.23" y="748.74" width="7.95" height="13.39" fill="#f3e283"/>
<rect x="378.48" y="748.74" width="4.33" height="13.39" fill="#e76a6a"/>
<rect x="382.10" y="748.74" width="4.33" height="13.39" fill="#f3e283"/>
<rect x="385.73" y="748.74" width="7.95" height="13.39" fill="#50b07a"/>
<rect x="392.98" y="748.74" width="7.95" height="13.39" fill="#f3e283"/>
<rect x="400.23" y="748.74" width="4.33" height="13.39" fill="#50b07a"/>
<rect x="403.85" y="748.74" width="4.33" height="13.39" fill="#f3e283"/>
<rect x="407.48" y="748.74" width="4.33" height="13.39" fill="#50b07a"/>
<rect x="411.10" y="748.74" width="15.20" height="13.39" fill="#f3e283"/>
<rect x="425.60" y="748.74" width="4.33" height="13.39" fill="#50b07a"/>
<rect x="429.23" y="748.74" width="4.33" height="13.39" fill="#f3e283"/>
<rect x="432.85" y="748.74" width="4.33" height="13.39" fill="#f2ce7c"/>
<rect x="436.48" y="748.74" width="11.57" height="13.39" fill="#f3e283"/>
<rect x="447.35" y="748.74" width="18.82" height="13.39" fill="#50b07a"/>
<rect x="465.48" y="748.74" width="4.33" height="13.39" fill="#f3e283"/>
<rect x="469.10" y="748.74" width="4.33" height="13.39" fill="#50b07a"/>
<rect x="472.73" y="748.74" width="4.33" height="13.39" fill="#f3e283"/>
<rect x="476.35" y="748.74" width="7.95" height="13.39" fill="#50b07a"/>
<rect x="483.60" y="748.74" width="4.33" height="13.39" fill="#e76a6a"/>
<rect x="487.23" y="748.74" width="7.95" height="13.39" fill="#50b07a"/>
<rect x="494.48" y="748.74" width="7.95" height="13.39" fill="#f3e283"/>
<rect x="501.73" y="748.74" width="7.95" height="13.39" fill="#50b07a"/>
<rect x="508.98" y="748.74" width="4.33" height="13.39" fill="#f3e283"/>
<rect x="512.60" y="748.74" width="4.33" height="13.39" fill="#50b07a"/>
<rect x="516.23" y="748.74" width="7.95" height="13.39" fill="#f3e283"/>
<rect x="523.48" y="748.74" width="4.33" height="13.39" fill="#f2ce7c"/>
<rect x="527.10" y="748.74" width="7.95" height="13.39" fill="#f3e283"/>
<rect x="534.35" y="748.74" width="7.25" height="13.39" fill="#50b07a"/>
<rect x="179.10" y="761.43" width="4.33" height="13.39" fill="#f3e283"/>
<rect x="182.72" y="761.43" width="7.95" height="13.39" fill="#50b07a"/>
<rect x="189.97" y="761.43" width="4.33" height="13.39" fill="#f3e283"/>
<rect x="193.60" y="761.43" width="4.33" height="13.39" fill="#50b07a"/>
<rect x="197.22" y="761.43" width="4.33" height="13.39" fill="#f3e283"/>
<rect x="200.85" y="761.43" width="7.95" height="13.39" fill="#accc7e"/>
<rect x="208.10" y="761.43" width="7.95" height="13.39" fill="#f3e283"/>
<rect x="215.35" y="761.43" width="7.95" height="13.39" fill="#50b07a"/>
<rect x="222.60" y="761.43" width="4.33" height="13.39" fill="#6cb87b"/>
<rect x="226.22" y="761.43" width="4.33" height="13.39" fill="#f3e283"/>
<rect x="229.85" y="761.43" width="4.33" height="13.39" fill="#50b07a"/>
<rect x="233.47" y="761.43" width="7.95" height="13.39" fill="#6cb87b"/>
<rect x="240.72" y="761.43" width="4.33" height="13.39" fill="#50b07a"/>
<rect x="244.35" y="761.43" width="4.33" height="13.39" fill="#6cb87b"/>
<rect x="247.97" y="761.43" width="7.95" height="13.39" fill="#50b07a"/>
<rect x="255.22" y="761.43" width="4.33" height="13.39" fill="#6cb87b"/>
<rect x="258.85" y="761.43" width="4.33" height="13.39" fill="#f3e283"/>
<rect x="262.48" y="761.43" width="4.33" height="13.39" fill="#accc7e"/>
<rect x="266.10" y="761.43" width="4.33" height="13.39" fill="#e76a6a"/>
<rect x="269.73" y="761.43" width="15.20" height="13.39" fill="#50b07a"/>
<rect x="284.23" y="761.43" width="4.33" height="13.39" fill="#f3e283"/>
<rect x="287.85" y="761.43" width="4.33" height="13.39" fill="#50b07a"/>
<rect x="291.48" y="761.43" width="4.33" height="13.39" fill="#6cb87b"/>
<rect x="295.10" y="761.43" width="4.33" height="13.39" fill="#f3e283"/>
<rect x="298.73" y="761.43" width="7.95" height="13.39" fill="#50b07a"/>
<rect x="305.98" y="761.43" width="7.95" height="13.39" fill="#f3e283"/>
<rect x="313.23" y="761.43" width="4.33" height="13.39" fill="#50b07a"/>
<rect x="316.85" y="761.43" width="4.33" height="13.39" fill="#6cb87b"/>
<rect x="320.48" y="761.43" width="4.33" height="13.39" fill="#50b07a"/>
<rect x="324.10" y="761.43" width="4.33" height="13.39" fill="#6cb87b"/>
<rect x="327.73" y="761.43" width="4.33" height="13.39" fill="#f3e283"/>
<rect x="331.35" y="761.43" width="11.57" height="13.39" fill="#50b07a"/>
<rect x="342.23" y="761.43" width="4.33" height="13.39" fill="#f3e283"/>
<rect x="345.85" y="761.43" width="4.33" height="13.39" fill="#accc7e"/>
<rect x="349.48" y="761.43" width="7.95" height="13.39" fill="#6cb87b"/>
<rect x="356.73" y="761.43" width="4.33" height="13.39" fill="#f3e283"/>
<rect x="360.35" y="761.43" width="4.33" height="13.39" fill="#50b07a"/>
<rect x="363.98" y="761.43" width="4.33" height="13.39" fill="#e76a6a"/>
<rect x="367.60" y="761.43" width="4.33" height="13.39" fill="#6cb87b"/>
<rect x="371.23" y="761.43" width="4.33" height="13.39" fill="#50b07a"/>
<rect x="374.85" y="761.43" width="4.33" height="13.39" fill="#f2ce7c"/>
<rect x="378.48" y="761.43" width="7.95" height="13.39" fill="#f3e283"/>
<rect x="385.73" y="761.43" width="4.33" height="13.39" fill="#f2ce7c"/>
<rect x="389.35" y="761.43" width="29.70" height="13.39" fill="#f3e283"/>
<rect x="418.35" y="761.43" width="4.33" height="13.39" fill="#f0a070"/>
<rect x="421.98" y="761.43" width="7.95" height="13.39" fill="#6cb87b"/>
<rect x="429.23" y="761.43" width="11.57" height="13.39" fill="#f3e283"/>
<rect x="440.10" y="761.43" width="4.33" height="13.39" fill="#50b07a"/>
<rect x="443.73" y="761.43" width="15.20" height="13.39" fill="#f2ce7c"/>
<rect x="458.23" y="761.43" width="4.33" height="13.39" fill="#f3e283"/>
<rect x="461.85" y="761.43" width="4.33" height="13.39" fill="#50b07a"/>
<rect x="465.48" y="761.43" width="4.33" height="13.39" fill="#f3e283"/>
<rect x="469.10" y="761.43" width="4.33" height="13.39" fill="#6cb87b"/>
<rect x="472.73" y="761.43" width="4.33" height="13.39" fill="#f3e283"/>
<rect x="476.35" y="761.43" width="4.33" height="13.39" fill="#50b07a"/>
<rect x="479.98" y="761.43" width="4.33" height="13.39" fill="#6cb87b"/>
<rect x="483.60" y="761.43" width="18.82" height="13.39" fill="#f3e283"/>
<rect x="501.73" y="761.43" width="4.33" height="13.39" fill="#50b07a"/>
<rect x="505.35" y="761.43" width="7.95" height="13.39" fill="#f3e283"/>
<rect x="512.60" y="761.43" width="4.33" height="13.39" fill="#6cb87b"/>
<rect x="516.23" y="761.43" width="11.57" height="13.39" fill="#f3e283"/>
<rect x="527.10" y="761.43" width="4.33" height="13.39" fill="#accc7e"/>
<rect x="530.73" y="761.43" width="10.88" height="13.39" fill="#f3e283"/>
<rect x="179.10" y="774.12" width="4.33" height="13.39" fill="#50b07a"/>
<rect x="182.72" y="774.12" width="4.33" height="13.39" fill="#f3e283"/>
<rect x="186.35" y="774.12" width="11.57" height="13.39" fill="#50b07a"/>
<rect x="197.22" y="774.12" width="4.33" height="13.39" fill="#f3e283"/>
<rect x="200.85" y="774.12" width="7.95" height="13.39" fill="#50b07a"/>
<rect x="208.10" y="774.12" width="7.95" height="13.39" fill="#f3e283"/>
<rect x="215.35" y="774.12" width="7.95" height="13.39" fill="#50b07a"/>
<rect x="222.60" y="774.12" width="4.33" height="13.39" fill="#e76a6a"/>
<rect x="226.22" y="774.12" width="4.33" height="13.39" fill="#50b07a"/>
<rect x="229.85" y="774.12" width="7.95" height="13.39" fill="#f3e283"/>
<rect x="237.10" y="774.12" width="4.33" height="13.39" fill="#f0a070"/>
<rect x="240.72" y="774.12" width="4.33" height="13.39" fill="#f3e283"/>
<rect x="244.35" y="774.12" width="4.33" height="13.39" fill="#50b07a"/>
<rect x="247.97" y="774.12" width="7.95" height="13.39" fill="#f3e283"/>
<rect x="255.22" y="774.12" width="4.33" height="13.39" fill="#50b07a"/>
<rect x="258.85" y="774.12" width="4.33" height="13.39" fill="#e76a6a"/>
<rect x="262.48" y="774.12" width="4.33" height="13.39" fill="#f3e283"/>
<rect x="266.10" y="774.12" width="15.20" height="13.39" fill="#50b07a"/>
<rect x="280.60" y="774.12" width="4.33" height="13.39" fill="#f3e283"/>
<rect x="284.23" y="774.12" width="29.70" height="13.39" fill="#50b07a"/>
<rect x="313.23" y="774.12" width="4.33" height="13.39" fill="#f3e283"/>
<rect x="316.85" y="774.12" width="7.95" height="13.39" fill="#50b07a"/>
<rect x="324.10" y="774.12" width="4.33" height="13.39" fill="#f0a070"/>
<rect x="327.73" y="774.12" width="4.33" height="13.39" fill="#50b07a"/>
<rect x="331.35" y="774.12" width="4.33" height="13.39" fill="#f3e283"/>
<rect x="334.98" y="774.12" width="15.20" height="13.39" fill="#50b07a"/>
<rect x="349.48" y="774.12" width="4.33" height="13.39" fill="#f2ce7c"/>
<rect x="353.10" y="774.12" width="4.33" height="13.39" fill="#f0a070"/>
<rect x="356.73" y="774.12" width="184.88" height="13.39" fill="#50b07a"/>
<rect x="179.10" y="786.81" width="47.83" height="13.39" fill="#50b07a"/>
<rect x="226.22" y="786.81" width="4.33" height="13.39" fill="#f2ce7c"/>
<rect x="229.85" y="786.81" width="15.20" height="13.39" fill="#50b07a"/>
<rect x="244.35" y="786.81" width="4.33" height="13.39" fill="#f3e283"/>
<rect x="247.97" y="786.81" width="11.57" height="13.39" fill="#50b07a"/>
<rect x="258.85" y="786.81" width="4.33" height="13.39" fill="#f3e283"/>
<rect x="262.48" y="786.81" width="4.33" height="13.39" fill="#50b07a"/>
<rect x="266.10" y="786.81" width="4.33" height="13.39" fill="#f3e283"/>
<rect x="269.73" y="786.81" width="36.95" height="13.39" fill="#50b07a"/>
<rect x="305.98" y="786.81" width="4.33" height="13.39" fill="#f3e283"/>
<rect x="309.60" y="786.81" width="4.33" height="13.39" fill="#50b07a"/>
<rect x="313.23" y="786.81" width="7.95" height="13.39" fill="#f3e283"/>
<rect x="320.48" y="786.81" width="7.95" height="13.39" fill="#50b07a"/>
<rect x="327.73" y="786.81" width="4.33" height="13.39" fill="#f2ce7c"/>
<rect x="331.35" y="786.81" width="11.57" height="13.39" fill="#50b07a"/>
<rect x="342.23" y="786.81" width="4.33" height="13.39" fill="#f3e283"/>
<rect x="345.85" y="786.81" width="7.95" height="13.39" fill="#50b07a"/>
<rect x="353.10" y="786.81" width="7.95" height="13.39" fill="#f3e283"/>
<rect x="360.35" y="786.81" width="15.20" height="13.39" fill="#50b07a"/>
<rect x="374.85" y="786.81" width="4.33" height="13.39" fill="#f3e283"/>
<rect x="378.48" y="786.81" width="15.20" height="13.39" fill="#50b07a"/>
<rect x="392.98" y="786.81" width="7.95" height="13.39" fill="#f3e283"/>
<rect x="400.23" y="786.81" width="7.95" height="13.39" fill="#50b07a"/>
<rect x="407.48" y="786.81" width="29.70" height="13.39" fill="#f3e283"/>
<rect x="436.48" y="786.81" width="4.33" height="13.39" fill="#f0a070"/>
<rect x="440.10" y="786.81" width="4.33" height="13.39" fill="#50b07a"/>
<rect x="443.73" y="786.81" width="4.33" height="13.39" fill="#e76a6a"/>
<rect x="447.35" y="786.81" width="11.57" height="13.39" fill="#50b07a"/>
<rect x="458.23" y="786.81" width="4.33" height="13.39" fill="#f3e283"/>
<rect x="461.85" y="786.81" width="4.33" height="13.39" fill="#50b07a"/>
<rect x="465.48" y="786.81" width="4.33" height="13.39" fill="#f3e283"/>
<rect x="469.10" y="786.81" width="4.33" height="13.39" fill="#50b07a"/>
<rect x="472.73" y="786.81" width="4.33" height="13.39" fill="#f3e283"/>
<rect x="476.35" y="786.81" width="4.33" height="13.39" fill="#50b07a"/>
<rect x="479.98" y="786.81" width="4.33" height="13.39" fill="#f3e283"/>
<rect x="483.60" y="786.81" width="4.33" height="13.39" fill="#50b07a"/>
<rect x="487.23" y="786.81" width="4.33" height="13.39" fill="#f3e283"/>
<rect x="490.85" y="786.81" width="4.33" height="13.39" fill="#50b07a"/>
<rect x="494.48" y="786.81" width="7.95" height="13.39" fill="#f3e283"/>
<rect x="501.73" y="786.81" width="4.33" height="13.39" fill="#50b07a"/>
<rect x="505.35" y="786.81" width="4.33" height="13.39" fill="#f2ce7c"/>
<rect x="508.98" y="786.81" width="4.33" height="13.39" fill="#e76a6a"/>
<rect x="512.60" y="786.81" width="4.33" height="13.39" fill="#50b07a"/>
<rect x="516.23" y="786.81" width="4.33" height="13.39" fill="#f3e283"/>
<rect x="519.85" y="786.81" width="4.33" height="13.39" fill="#e76a6a"/>
<rect x="523.48" y="786.81" width="7.95" height="13.39" fill="#f3e283"/>
<rect x="530.73" y="786.81" width="4.33" height="13.39" fill="#f2ce7c"/>
<rect x="534.35" y="786.81" width="7.25" height="13.39" fill="#f3e283"/>
<rect x="179.10" y="799.50" width="36.95" height="13.39" fill="#50b07a"/>
<rect x="215.35" y="799.50" width="4.33" height="13.39" fill="#f3e283"/>
<rect x="218.97" y="799.50" width="4.33" height="13.39" fill="#50b07a"/>
<rect x="222.60" y="799.50" width="7.95" height="13.39" fill="#f3e283"/>
<rect x="229.85" y="799.50" width="4.33" height="13.39" fill="#50b07a"/>
<rect x="233.47" y="799.50" width="4.33" height="13.39" fill="#f3e283"/>
<rect x="237.10" y="799.50" width="18.82" height="13.39" fill="#50b07a"/>
<rect x="255.22" y="799.50" width="7.95" height="13.39" fill="#f3e283"/>
<rect x="262.48" y="799.50" width="22.45" height="13.39" fill="#50b07a"/>
<rect x="284.23" y="799.50" width="4.33" height="13.39" fill="#f3e283"/>
<rect x="287.85" y="799.50" width="18.82" height="13.39" fill="#50b07a"/>
<rect x="305.98" y="799.50" width="4.33" height="13.39" fill="#f3e283"/>
<rect x="309.60" y="799.50" width="4.33" height="13.39" fill="#50b07a"/>
<rect x="313.23" y="799.50" width="7.95" height="13.39" fill="#f3e283"/>
<rect x="320.48" y="799.50" width="7.95" height="13.39" fill="#50b07a"/>
<rect x="327.73" y="799.50" width="4.33" height="13.39" fill="#f3e283"/>
<rect x="331.35" y="799.50" width="7.95" height="13.39" fill="#50b07a"/>
<rect x="338.60" y="799.50" width="7.95" height="13.39" fill="#f3e283"/>
<rect x="345.85" y="799.50" width="29.70" height="13.39" fill="#50b07a"/>
<rect x="374.85" y="799.50" width="4.33" height="13.39" fill="#f3e283"/>
<rect x="378.48" y="799.50" width="4.33" height="13.39" fill="#50b07a"/>
<rect x="382.10" y="799.50" width="4.33" height="13.39" fill="#f0a070"/>
<rect x="385.73" y="799.50" width="4.33" height="13.39" fill="#50b07a"/>
<rect x="389.35" y="799.50" width="11.57" height="13.39" fill="#f3e283"/>
<rect x="400.23" y="799.50" width="7.95" height="13.39" fill="#50b07a"/>
<rect x="407.48" y="799.50" width="11.57" height="13.39" fill="#f3e283"/>
<rect x="418.35" y="799.50" width="4.33" height="13.39" fill="#f2ce7c"/>
<rect x="421.98" y="799.50" width="11.57" height="13.39" fill="#f3e283"/>
<rect x="432.85" y="799.50" width="4.33" height="13.39" fill="#f2ce7c"/>
<rect x="436.48" y="799.50" width="7.95" height="13.39" fill="#f3e283"/>
<rect x="443.73" y="799.50" width="4.33" height="13.39" fill="#e76a6a"/>
<rect x="447.35" y="799.50" width="18.82" height="13.39" fill="#50b07a"/>
<rect x="465.48" y="799.50" width="4.33" height="13.39" fill="#f3e283"/>
<rect x="469.10" y="799.50" width="4.33" height="13.39" fill="#50b07a"/>
<rect x="472.73" y="799.50" width="4.33" height="13.39" fill="#f2ce7c"/>
<rect x="476.35" y="799.50" width="7.95" height="13.39" fill="#50b07a"/>
<rect x="483.60" y="799.50" width="4.33" height="13.39" fill="#f2ce7c"/>
<rect x="487.23" y="799.50" width="4.33" height="13.39" fill="#50b07a"/>
<rect x="490.85" y="799.50" width="11.57" height="13.39" fill="#f3e283"/>
<rect x="501.73" y="799.50" width="4.33" height="13.39" fill="#50b07a"/>
<rect x="505.35" y="799.50" width="7.95" height="13.39" fill="#f3e283"/>
<rect x="512.60" y="799.50" width="4.33" height="13.39" fill="#50b07a"/>
<rect x="516.23" y="799.50" width="15.20" height="13.39" fill="#f3e283"/>
<rect x="530.73" y="799.50" width="4.33" height="13.39" fill="#f2ce7c"/>
<rect x="534.35" y="799.50" width="4.33" height="13.39" fill="#f3e283"/>
<rect x="537.98" y="799.50" width="3.62" height="13.39" fill="#50b07a"/>
<rect x="179.10" y="812.18" width="11.57" height="13.39" fill="#50b07a"/>
<rect x="189.97" y="812.18" width="4.33" height="13.39" fill="#f3e283"/>
<rect x="193.60" y="812.18" width="22.45" height="13.39" fill="#50b07a"/>
<rect x="215.35" y="812.18" width="4.33" height="13.39" fill="#f2ce7c"/>
<rect x="218.97" y="812.18" width="4.33" height="13.39" fill="#50b07a"/>
<rect x="222.60" y="812.18" width="7.95" height="13.39" fill="#f2ce7c"/>
<rect x="229.85" y="812.18" width="4.33" height="13.39" fill="#50b07a"/>
<rect x="233.47" y="812.18" width="4.33" height="13.39" fill="#f3e283"/>
<rect x="237.10" y="812.18" width="7.95" height="13.39" fill="#50b07a"/>
<rect x="244.35" y="812.18" width="7.95" height="13.39" fill="#f3e283"/>
<rect x="251.60" y="812.18" width="4.33" height="13.39" fill="#50b07a"/>
<rect x="255.22" y="812.18" width="7.95" height="13.39" fill="#f2ce7c"/>
<rect x="262.48" y="812.18" width="22.45" height="13.39" fill="#50b07a"/>
<rect x="284.23" y="812.18" width="4.33" height="13.39" fill="#f3e283"/>
<rect x="287.85" y="812.18" width="18.82" height="13.39" fill="#50b07a"/>
<rect x="305.98" y="812.18" width="4.33" height="13.39" fill="#f2ce7c"/>
<rect x="309.60" y="812.18" width="4.33" height="13.39" fill="#50b07a"/>
<rect x="313.23" y="812.18" width="7.95" height="13.39" fill="#f2ce7c"/>
<rect x="320.48" y="812.18" width="7.95" height="13.39" fill="#50b07a"/>
<rect x="327.73" y="812.18" width="4.33" height="13.39" fill="#f2ce7c"/>
<rect x="331.35" y="812.18" width="7.95" height="13.39" fill="#50b07a"/>
<rect x="338.60" y="812.18" width="4.33" height="13.39" fill="#f3e283"/>
<rect x="342.23" y="812.18" width="4.33" height="13.39" fill="#f0a070"/>
<rect x="345.85" y="812.18" width="4.33" height="13.39" fill="#f3e283"/>
<rect x="349.48" y="812.18" width="22.45" height="13.39" fill="#50b07a"/>
<rect x="371.23" y="812.18" width="11.57" height="13.39" fill="#f3e283"/>
<rect x="382.10" y="812.18" width="4.33" height="13.39" fill="#f0a070"/>
<rect x="385.73" y="812.18" width="7.95" height="13.39" fill="#50b07a"/>
<rect x="392.98" y="812.18" width="4.33" height="13.39" fill="#f3e283"/>
<rect x="396.60" y="812.18" width="4.33" height="13.39" fill="#f0a070"/>
<rect x="400.23" y="812.18" width="4.33" height="13.39" fill="#50b07a"/>
<rect x="403.85" y="812.18" width="11.57" height="13.39" fill="#f3e283"/>
<rect x="414.73" y="812.18" width="4.33" height="13.39" fill="#50b07a"/>
<rect x="418.35" y="812.18" width="4.33" height="13.39" fill="#e76a6a"/>
<rect x="421.98" y="812.18" width="11.57" height="13.39" fill="#f2ce7c"/>
<rect x="432.85" y="812.18" width="7.95" height="13.39" fill="#f0a070"/>
<rect x="440.10" y="812.18" width="4.33" height="13.39" fill="#f3e283"/>
<rect x="443.73" y="812.18" width="4.33" height="13.39" fill="#e76a6a"/>
<rect x="447.35" y="812.18" width="18.82" height="13.39" fill="#50b07a"/>
<rect x="465.48" y="812.18" width="7.95" height="13.39" fill="#f3e283"/>
<rect x="472.73" y="812.18" width="4.33" height="13.39" fill="#f0a070"/>
<rect x="476.35" y="812.18" width="7.95" height="13.39" fill="#50b07a"/>
<rect x="483.60" y="812.18" width="4.33" height="13.39" fill="#f0a070"/>
<rect x="487.23" y="812.18" width="4.33" height="13.39" fill="#50b07a"/>
<rect x="490.85" y="812.18" width="4.33" height="13.39" fill="#f3e283"/>
<rect x="494.48" y="812.18" width="7.95" height="13.39" fill="#f2ce7c"/>
<rect x="501.73" y="812.18" width="4.33" height="13.39" fill="#50b07a"/>
<rect x="505.35" y="812.18" width="4.33" height="13.39" fill="#f3e283"/>
<rect x="508.98" y="812.18" width="4.33" height="13.39" fill="#f2ce7c"/>
<rect x="512.60" y="812.18" width="4.33" height="13.39" fill="#50b07a"/>
<rect x="516.23" y="812.18" width="4.33" height="13.39" fill="#f0a070"/>
<rect x="519.85" y="812.18" width="4.33" height="13.39" fill="#f3e283"/>
<rect x="523.48" y="812.18" width="18.12" height="13.39" fill="#f2ce7c"/>
<rect x="179.10" y="824.87" width="11.57" height="13.39" fill="#50b07a"/>
<rect x="189.97" y="824.87" width="4.33" height="13.39" fill="#f3e283"/>
<rect x="193.60" y="824.87" width="18.82" height="13.39" fill="#50b07a"/>
<rect x="211.72" y="824.87" width="4.33" height="13.39" fill="#f3e283"/>
<rect x="215.35" y="824.87" width="7.95" height="13.39" fill="#50b07a"/>
<rect x="222.60" y="824.87" width="4.33" height="13.39" fill="#f3e283"/>
<rect x="226.22" y="824.87" width="4.33" height="13.39" fill="#50b07a"/>
<rect x="229.85" y="824.87" width="4.33" height="13.39" fill="#f0a070"/>
<rect x="233.47" y="824.87" width="4.33" height="13.39" fill="#e76a6a"/>
<rect x="237.10" y="824.87" width="4.33" height="13.39" fill="#f0a070"/>
<rect x="240.72" y="824.87" width="4.33" height="13.39" fill="#f3e283"/>
<rect x="244.35" y="824.87" width="7.95" height="13.39" fill="#50b07a"/>
<rect x="251.60" y="824.87" width="4.33" height="13.39" fill="#f3e283"/>
<rect x="255.22" y="824.87" width="29.70" height="13.39" fill="#50b07a"/>
<rect x="284.23" y="824.87" width="4.33" height="13.39" fill="#f3e283"/>
<rect x="287.85" y="824.87" width="4.33" height="13.39" fill="#e76a6a"/>
<rect x="291.48" y="824.87" width="4.33" height="13.39" fill="#f3e283"/>
<rect x="295.10" y="824.87" width="4.33" height="13.39" fill="#f0a070"/>
<rect x="298.73" y="824.87" width="7.95" height="13.39" fill="#50b07a"/>
<rect x="305.98" y="824.87" width="7.95" height="13.39" fill="#f3e283"/>
<rect x="313.23" y="824.87" width="7.95" height="13.39" fill="#50b07a"/>
<rect x="320.48" y="824.87" width="4.33" height="13.39" fill="#f0a070"/>
<rect x="324.10" y="824.87" width="7.95" height="13.39" fill="#f3e283"/>
<rect x="331.35" y="824.87" width="7.95" height="13.39" fill="#50b07a"/>
<rect x="338.60" y="824.87" width="4.33" height="13.39" fill="#f0a070"/>
<rect x="342.23" y="824.87" width="11.57" height="13.39" fill="#50b07a"/>
<rect x="353.10" y="824.87" width="4.33" height="13.39" fill="#f3e283"/>
<rect x="356.73" y="824.87" width="65.95" height="13.39" fill="#50b07a"/>
<rect x="421.98" y="824.87" width="4.33" height="13.39" fill="#f3e283"/>
<rect x="425.60" y="824.87" width="116.00" height="13.39" fill="#50b07a"/>
<rect x="179.10" y="837.56" width="4.33" height="13.39" fill="#50b07a"/>
<rect x="182.72" y="837.56" width="4.33" height="13.39" fill="#f0a070"/>
<rect x="186.35" y="837.56" width="22.45" height="13.39" fill="#50b07a"/>
<rect x="208.10" y="837.56" width="7.95" height="13.39" fill="#f0a070"/>
<rect x="215.35" y="837.56" width="7.95" height="13.39" fill="#50b07a"/>
<rect x="222.60" y="837.56" width="4.33" height="13.39" fill="#f0a070"/>
<rect x="226.22" y="837.56" width="4.33" height="13.39" fill="#50b07a"/>
<rect x="229.85" y="837.56" width="4.33" height="13.39" fill="#f0a070"/>
<rect x="233.47" y="837.56" width="4.33" height="13.39" fill="#e76a6a"/>
<rect x="237.10" y="837.56" width="7.95" height="13.39" fill="#f0a070"/>
<rect x="244.35" y="837.56" width="7.95" height="13.39" fill="#50b07a"/>
<rect x="251.60" y="837.56" width="4.33" height="13.39" fill="#f0a070"/>
<rect x="255.22" y="837.56" width="4.33" height="13.39" fill="#50b07a"/>
<rect x="258.85" y="837.56" width="7.95" height="13.39" fill="#f2ce7c"/>
<rect x="266.10" y="837.56" width="15.20" height="13.39" fill="#50b07a"/>
<rect x="280.60" y="837.56" width="4.33" height="13.39" fill="#f2ce7c"/>
<rect x="284.23" y="837.56" width="26.07" height="13.39" fill="#50b07a"/>
<rect x="309.60" y="837.56" width="4.33" height="13.39" fill="#f3e283"/>
<rect x="313.23" y="837.56" width="7.95" height="13.39" fill="#50b07a"/>
<rect x="320.48" y="837.56" width="4.33" height="13.39" fill="#f3e283"/>
<rect x="324.10" y="837.56" width="4.33" height="13.39" fill="#f0a070"/>
<rect x="327.73" y="837.56" width="4.33" height="13.39" fill="#50b07a"/>
<rect x="331.35" y="837.56" width="4.33" height="13.39" fill="#f3e283"/>
<rect x="334.98" y="837.56" width="206.62" height="13.39" fill="#50b07a"/>
<rect x="179.10" y="850.25" width="4.33" height="13.39" fill="#50b07a"/>
<rect x="182.72" y="850.25" width="4.33" height="13.39" fill="#accc7e"/>
<rect x="186.35" y="850.25" width="4.33" height="13.39" fill="#50b07a"/>
<rect x="189.97" y="850.25" width="4.33" height="13.39" fill="#f3e283"/>
<rect x="193.60" y="850.25" width="18.82" height="13.39" fill="#50b07a"/>
<rect x="211.72" y="850.25" width="4.33" height="13.39" fill="#f3e283"/>
<rect x="215.35" y="850.25" width="15.20" height="13.39" fill="#50b07a"/>
<rect x="229.85" y="850.25" width="4.33" height="13.39" fill="#6cb87b"/>
<rect x="233.47" y="850.25" width="7.95" height="13.39" fill="#f3e283"/>
<rect x="240.72" y="850.25" width="22.45" height="13.39" fill="#50b07a"/>
<rect x="262.48" y="850.25" width="4.33" height="13.39" fill="#f3e283"/>
<rect x="266.10" y="850.25" width="18.82" height="13.39" fill="#50b07a"/>
<rect x="284.23" y="850.25" width="7.95" height="13.39" fill="#f3e283"/>
<rect x="291.48" y="850.25" width="4.33" height="13.39" fill="#50b07a"/>
<rect x="295.10" y="850.25" width="4.33" height="13.39" fill="#f3e283"/>
<rect x="298.73" y="850.25" width="7.95" height="13.39" fill="#50b07a"/>
<rect x="305.98" y="850.25" width="15.20" height="13.39" fill="#f3e283"/>
<rect x="320.48" y="850.25" width="7.95" height="13.39" fill="#50b07a"/>
<rect x="327.73" y="850.25" width="4.33" height="13.39" fill="#f3e283"/>
<rect x="331.35" y="850.25" width="4.33" height="13.39" fill="#50b07a"/>
<rect x="334.98" y="850.25" width="15.20" height="13.39" fill="#f3e283"/>
<rect x="349.48" y="850.25" width="7.95" height="13.39" fill="#50b07a"/>
<rect x="356.73" y="850.25" width="4.33" height="13.39" fill="#f2ce7c"/>
<rect x="360.35" y="850.25" width="7.95" height="13.39" fill="#50b07a"/>
<rect x="367.60" y="850.25" width="4.33" height="13.39" fill="#f3e283"/>
<rect x="371.23" y="850.25" width="7.95" height="13.39" fill="#50b07a"/>
<rect x="378.48" y="850.25" width="7.95" height="13.39" fill="#f0a070"/>
<rect x="385.73" y="850.25" width="4.33" height="13.39" fill="#50b07a"/>
<rect x="389.35" y="850.25" width="4.33" height="13.39" fill="#f3e283"/>
<rect x="392.98" y="850.25" width="4.33" height="13.39" fill="#50b07a"/>
<rect x="396.60" y="850.25" width="4.33" height="13.39" fill="#e76a6a"/>
<rect x="400.23" y="850.25" width="4.33" height="13.39" fill="#50b07a"/>
<rect x="403.85" y="850.25" width="4.33" height="13.39" fill="#f2ce7c"/>
<rect x="407.48" y="850.25" width="4.33" height="13.39" fill="#f3e283"/>
<rect x="411.10" y="850.25" width="4.33" height="13.39" fill="#50b07a"/>
<rect x="414.73" y="850.25" width="4.33" height="13.39" fill="#f3e283"/>
<rect x="418.35" y="850.25" width="4.33" height="13.39" fill="#e76a6a"/>
<rect x="421.98" y="850.25" width="4.33" height="13.39" fill="#f3e283"/>
<rect x="425.60" y="850.25" width="4.33" height="13.39" fill="#50b07a"/>
<rect x="429.23" y="850.25" width="4.33" height="13.39" fill="#f3e283"/>
<rect x="432.85" y="850.25" width="4.33" height="13.39" fill="#f2ce7c"/>
<rect x="436.48" y="850.25" width="7.95" height="13.39" fill="#f3e283"/>
<rect x="443.73" y="850.25" width="4.33" height="13.39" fill="#e76a6a"/>
<rect x="447.35" y="850.25" width="11.57" height="13.39" fill="#50b07a"/>
<rect x="458.23" y="850.25" width="4.33" height="13.39" fill="#f3e283"/>
<rect x="461.85" y="850.25" width="4.33" height="13.39" fill="#50b07a"/>
<rect x="465.48" y="850.25" width="4.33" height="13.39" fill="#f2ce7c"/>
<rect x="469.10" y="850.25" width="7.95" height="13.39" fill="#f3e283"/>
<rect x="476.35" y="850.25" width="4.33" height="13.39" fill="#50b07a"/>
<rect x="479.98" y="850.25" width="4.33" height="13.39" fill="#f3e283"/>
<rect x="483.60" y="850.25" width="4.33" height="13.39" fill="#e76a6a"/>
<rect x="487.23" y="850.25" width="15.20" height="13.39" fill="#f3e283"/>
<rect x="501.73" y="850.25" width="4.33" height="13.39" fill="#50b07a"/>
<rect x="505.35" y="850.25" width="4.33" height="13.39" fill="#6cb87b"/>
<rect x="508.98" y="850.25" width="29.70" height="13.39" fill="#f3e283"/>
<rect x="537.98" y="850.25" width="3.62" height="13.39" fill="#50b07a"/>
<rect x="179.10" y="862.94" width="4.33" height="13.39" fill="#50b07a"/>
<rect x="182.72" y="862.94" width="4.33" height="13.39" fill="#f3e283"/>
<rect x="186.35" y="862.94" width="22.45" height="13.39" fill="#50b07a"/>
<rect x="208.10" y="862.94" width="7.95" height="13.39" fill="#f0a070"/>
<rect x="215.35" y="862.94" width="7.95" height="13.39" fill="#50b07a"/>
<rect x="222.60" y="862.94" width="4.33" height="13.39" fill="#f3e283"/>
<rect x="226.22" y="862.94" width="4.33" height="13.39" fill="#50b07a"/>
<rect x="229.85" y="862.94" width="4.33" height="13.39" fill="#e76a6a"/>
<rect x="233.47" y="862.94" width="4.33" height="13.39" fill="#f0a070"/>
<rect x="237.10" y="862.94" width="7.95" height="13.39" fill="#f3e283"/>
<rect x="244.35" y="862.94" width="7.95" height="13.39" fill="#50b07a"/>
<rect x="251.60" y="862.94" width="4.33" height="13.39" fill="#f3e283"/>
<rect x="255.22" y="862.94" width="4.33" height="13.39" fill="#50b07a"/>
<rect x="258.85" y="862.94" width="7.95" height="13.39" fill="#f3e283"/>
<rect x="266.10" y="862.94" width="11.57" height="13.39" fill="#50b07a"/>
<rect x="276.98" y="862.94" width="7.95" height="13.39" fill="#f3e283"/>
<rect x="284.23" y="862.94" width="4.33" height="13.39" fill="#50b07a"/>
<rect x="287.85" y="862.94" width="4.33" height="13.39" fill="#f2ce7c"/>
<rect x="291.48" y="862.94" width="29.70" height="13.39" fill="#50b07a"/>
<rect x="320.48" y="862.94" width="7.95" height="13.39" fill="#f2ce7c"/>
<rect x="327.73" y="862.94" width="26.07" height="13.39" fill="#50b07a"/>
<rect x="353.10" y="862.94" width="4.33" height="13.39" fill="#f3e283"/>
<rect x="356.73" y="862.94" width="127.58" height="13.39" fill="#50b07a"/>
<rect x="483.60" y="862.94" width="4.33" height="13.39" fill="#f3e283"/>
<rect x="487.23" y="862.94" width="54.38" height="13.39" fill="#50b07a"/>
<rect x="179.10" y="875.62" width="4.33" height="13.39" fill="#f0a070"/>
<rect x="182.72" y="875.62" width="4.33" height="13.39" fill="#f2ce7c"/>
<rect x="186.35" y="875.62" width="4.33" height="13.39" fill="#f3e283"/>
<rect x="189.97" y="875.62" width="4.33" height="13.39" fill="#f2ce7c"/>
<rect x="193.60" y="875.62" width="7.95" height="13.39" fill="#f0a070"/>
<rect x="200.85" y="875.62" width="7.95" height="13.39" fill="#f3e283"/>
<rect x="208.10" y="875.62" width="4.33" height="13.39" fill="#f2ce7c"/>
<rect x="211.72" y="875.62" width="4.33" height="13.39" fill="#e76a6a"/>
<rect x="215.35" y="875.62" width="7.95" height="13.39" fill="#50b07a"/>
<rect x="222.60" y="875.62" width="4.33" height="13.39" fill="#f3e283"/>
<rect x="226.22" y="875.62" width="4.33" height="13.39" fill="#50b07a"/>
<rect x="229.85" y="875.62" width="7.95" height="13.39" fill="#f0a070"/>
<rect x="237.10" y="875.62" width="4.33" height="13.39" fill="#f3e283"/>
<rect x="240.72" y="875.62" width="4.33" height="13.39" fill="#e76a6a"/>
<rect x="244.35" y="875.62" width="7.95" height="13.39" fill="#50b07a"/>
<rect x="251.60" y="875.62" width="4.33" height="13.39" fill="#f0a070"/>
<rect x="255.22" y="875.62" width="4.33" height="13.39" fill="#50b07a"/>
<rect x="258.85" y="875.62" width="4.33" height="13.39" fill="#f3e283"/>
<rect x="262.48" y="875.62" width="4.33" height="13.39" fill="#f2ce7c"/>
<rect x="266.10" y="875.62" width="4.33" height="13.39" fill="#50b07a"/>
<rect x="269.73" y="875.62" width="11.57" height="13.39" fill="#f0a070"/>
<rect x="280.60" y="875.62" width="11.57" height="13.39" fill="#f2ce7c"/>
<rect x="291.48" y="875.62" width="7.95" height="13.39" fill="#f3e283"/>
<rect x="298.73" y="875.62" width="4.33" height="13.39" fill="#50b07a"/>
<rect x="302.35" y="875.62" width="4.33" height="13.39" fill="#f3e283"/>
<rect x="305.98" y="875.62" width="4.33" height="13.39" fill="#50b07a"/>
<rect x="309.60" y="875.62" width="7.95" height="13.39" fill="#f2ce7c"/>
<rect x="316.85" y="875.62" width="7.95" height="13.39" fill="#50b07a"/>
<rect x="324.10" y="875.62" width="4.33" height="13.39" fill="#e76a6a"/>
<rect x="327.73" y="875.62" width="4.33" height="13.39" fill="#50b07a"/>
<rect x="331.35" y="875.62" width="4.33" height="13.39" fill="#f3e283"/>
<rect x="334.98" y="875.62" width="4.33" height="13.39" fill="#f2ce7c"/>
<rect x="338.60" y="875.62" width="11.57" height="13.39" fill="#f3e283"/>
<rect x="349.48" y="875.62" width="11.57" height="13.39" fill="#50b07a"/>
<rect x="360.35" y="875.62" width="4.33" height="13.39" fill="#f3e283"/>
<rect x="363.98" y="875.62" width="4.33" height="13.39" fill="#50b07a"/>
<rect x="367.60" y="875.62" width="4.33" height="13.39" fill="#f3e283"/>
<rect x="371.23" y="875.62" width="7.95" height="13.39" fill="#50b07a"/>
<rect x="378.48" y="875.62" width="4.33" height="13.39" fill="#e76a6a"/>
<rect x="382.10" y="875.62" width="4.33" height="13.39" fill="#f3e283"/>
<rect x="385.73" y="875.62" width="7.95" height="13.39" fill="#50b07a"/>
<rect x="392.98" y="875.62" width="4.33" height="13.39" fill="#e76a6a"/>
<rect x="396.60" y="875.62" width="7.95" height="13.39" fill="#f2ce7c"/>
<rect x="403.85" y="875.62" width="7.95" height="13.39" fill="#50b07a"/>
<rect x="411.10" y="875.62" width="4.33" height="13.39" fill="#f3e283"/>
<rect x="414.73" y="875.62" width="4.33" height="13.39" fill="#f0a070"/>
<rect x="418.35" y="875.62" width="4.33" height="13.39" fill="#f3e283"/>
<rect x="421.98" y="875.62" width="15.20" height="13.39" fill="#50b07a"/>
<rect x="436.48" y="875.62" width="4.33" height="13.39" fill="#f2ce7c"/>
<rect x="440.10" y="875.62" width="4.33" height="13.39" fill="#f0a070"/>
<rect x="443.73" y="875.62" width="22.45" height="13.39" fill="#50b07a"/>
<rect x="465.48" y="875.62" width="4.33" height="13.39" fill="#f0a070"/>
<rect x="469.10" y="875.62" width="4.33" height="13.39" fill="#50b07a"/>
<rect x="472.73" y="875.62" width="4.33" height="13.39" fill="#e76a6a"/>
<rect x="476.35" y="875.62" width="4.33" height="13.39" fill="#f3e283"/>
<rect x="479.98" y="875.62" width="4.33" height="13.39" fill="#50b07a"/>
<rect x="483.60" y="875.62" width="4.33" height="13.39" fill="#f3e283"/>
<rect x="487.23" y="875.62" width="4.33" height="13.39" fill="#50b07a"/>
<rect x="490.85" y="875.62" width="4.33" height="13.39" fill="#f0a070"/>
<rect x="494.48" y="875.62" width="4.33" height="13.39" fill="#f2ce7c"/>
<rect x="498.10" y="875.62" width="43.50" height="13.39" fill="#50b07a"/>
<rect x="179.10" y="888.31" width="4.33" height="12.69" fill="#50b07a"/>
<rect x="182.72" y="888.31" width="4.33" height="12.69" fill="#f0a070"/>
<rect x="186.35" y="888.31" width="11.57" height="12.69" fill="#50b07a"/>
<rect x="197.22" y="888.31" width="4.33" height="12.69" fill="#f3e283"/>
<rect x="200.85" y="888.31" width="7.95" height="12.69" fill="#50b07a"/>
<rect x="208.10" y="888.31" width="4.33" height="12.69" fill="#f2ce7c"/>
<rect x="211.72" y="888.31" width="4.33" height="12.69" fill="#f3e283"/>
<rect x="215.35" y="888.31" width="7.95" height="12.69" fill="#50b07a"/>
<rect x="222.60" y="888.31" width="4.33" height="12.69" fill="#f3e283"/>
<rect x="226.22" y="888.31" width="4.33" height="12.69" fill="#50b07a"/>
<rect x="229.85" y="888.31" width="4.33" height="12.69" fill="#f3e283"/>
<rect x="233.47" y="888.31" width="4.33" height="12.69" fill="#e76a6a"/>
<rect x="237.10" y="888.31" width="4.33" height="12.69" fill="#f3e283"/>
<rect x="240.72" y="888.31" width="4.33" height="12.69" fill="#e76a6a"/>
<rect x="244.35" y="888.31" width="7.95" height="12.69" fill="#50b07a"/>
<rect x="251.60" y="888.31" width="4.33" height="12.69" fill="#f3e283"/>
<rect x="255.22" y="888.31" width="4.33" height="12.69" fill="#50b07a"/>
<rect x="258.85" y="888.31" width="4.33" height="12.69" fill="#f3e283"/>
<rect x="262.48" y="888.31" width="22.45" height="12.69" fill="#50b07a"/>
<rect x="284.23" y="888.31" width="4.33" height="12.69" fill="#f2ce7c"/>
<rect x="287.85" y="888.31" width="7.95" height="12.69" fill="#50b07a"/>
<rect x="295.10" y="888.31" width="4.33" height="12.69" fill="#f3e283"/>
<rect x="298.73" y="888.31" width="11.57" height="12.69" fill="#50b07a"/>
<rect x="309.60" y="888.31" width="11.57" height="12.69" fill="#f3e283"/>
<rect x="320.48" y="888.31" width="4.33" height="12.69" fill="#50b07a"/>
<rect x="324.10" y="888.31" width="4.33" height="12.69" fill="#f3e283"/>
<rect x="327.73" y="888.31" width="26.07" height="12.69" fill="#50b07a"/>
<rect x="353.10" y="888.31" width="4.33" height="12.69" fill="#f2ce7c"/>
<rect x="356.73" y="888.31" width="40.58" height="12.69" fill="#50b07a"/>
<rect x="396.60" y="888.31" width="4.33" height="12.69" fill="#f3e283"/>
<rect x="400.23" y="888.31" width="76.83" height="12.69" fill="#50b07a"/>
<rect x="476.35" y="888.31" width="4.33" height="12.69" fill="#f3e283"/>
<rect x="479.98" y="888.31" width="15.20" height="12.69" fill="#50b07a"/>
<rect x="494.48" y="888.31" width="4.33" height="12.69" fill="#f3e283"/>
<rect x="498.10" y="888.31" width="43.50" height="12.69" fill="#50b07a"/>
<rect x="178.20" y="979.60" width="89.04" height="13.30" fill="#e52238"/>
<rect x="178.20" y="992.90" width="3.76" height="14.30" fill="#5aaf7a"/>
<rect x="181.91" y="992.90" width="3.76" height="14.30" fill="#5fb17a"/>
<rect x="185.62" y="992.90" width="3.76" height="14.30" fill="#64b27b"/>
<rect x="189.33" y="992.90" width="3.76" height="14.30" fill="#69b47b"/>
<rect x="193.04" y="992.90" width="3.76" height="14.30" fill="#6eb57b"/>
<rect x="196.75" y="992.90" width="3.76" height="14.30" fill="#7cba7c"/>
<rect x="200.46" y="992.90" width="3.76" height="14.30" fill="#89be7d"/>
<rect x="204.17" y="992.90" width="3.76" height="14.30" fill="#97c27e"/>
<rect x="207.88" y="992.90" width="3.76" height="14.30" fill="#a6c77f"/>
<rect x="211.59" y="992.90" width="3.76" height="14.30" fill="#b4cc80"/>
<rect x="215.30" y="992.90" width="3.76" height="14.30" fill="#c1d081"/>
<rect x="219.01" y="992.90" width="3.76" height="14.30" fill="#d1d681"/>
<rect x="222.72" y="992.90" width="3.76" height="14.30" fill="#e3dd82"/>
<rect x="226.43" y="992.90" width="3.76" height="14.30" fill="#efe082"/>
<rect x="230.14" y="992.90" width="3.76" height="14.30" fill="#f1da80"/>
<rect x="233.85" y="992.90" width="3.76" height="14.30" fill="#f2d47d"/>
<rect x="237.56" y="992.90" width="3.76" height="14.30" fill="#f1ca7b"/>
<rect x="241.27" y="992.90" width="3.76" height="14.30" fill="#f0bf78"/>
<rect x="244.98" y="992.90" width="3.76" height="14.30" fill="#efb476"/>
<rect x="248.69" y="992.90" width="3.76" height="14.30" fill="#eca273"/>
<rect x="252.40" y="992.90" width="3.76" height="14.30" fill="#ea9071"/>
<rect x="256.11" y="992.90" width="3.76" height="14.30" fill="#e8836f"/>
<rect x="259.82" y="992.90" width="3.76" height="14.30" fill="#e6786d"/>
<rect x="263.53" y="992.90" width="3.76" height="14.30" fill="#e46c6b"/>
<rect x="267.24" y="979.60" width="96.46" height="13.30" fill="#1fa0d8"/>
<rect x="267.24" y="992.90" width="3.76" height="14.30" fill="#5aaf7a"/>
<rect x="270.95" y="992.90" width="3.76" height="14.30" fill="#5eb07a"/>
<rect x="274.66" y="992.90" width="3.76" height="14.30" fill="#63b27a"/>
<rect x="278.37" y="992.90" width="3.76" height="14.30" fill="#67b37b"/>
<rect x="282.08" y="992.90" width="3.76" height="14.30" fill="#6cb57b"/>
<rect x="285.79" y="992.90" width="3.76" height="14.30" fill="#76b87c"/>
<rect x="289.50" y="992.90" width="3.76" height="14.30" fill="#83bc7d"/>
<rect x="293.21" y="992.90" width="3.76" height="14.30" fill="#8fc07e"/>
<rect x="296.92" y="992.90" width="3.76" height="14.30" fill="#9cc47e"/>
<rect x="300.63" y="992.90" width="3.76" height="14.30" fill="#aac980"/>
<rect x="304.34" y="992.90" width="3.76" height="14.30" fill="#b7cd80"/>
<rect x="308.05" y="992.90" width="3.76" height="14.30" fill="#c3d181"/>
<rect x="311.76" y="992.90" width="3.76" height="14.30" fill="#d1d681"/>
<rect x="315.47" y="992.90" width="3.76" height="14.30" fill="#e2dd82"/>
<rect x="319.18" y="992.90" width="3.76" height="14.30" fill="#efe182"/>
<rect x="322.89" y="992.90" width="3.76" height="14.30" fill="#f0db80"/>
<rect x="326.60" y="992.90" width="3.76" height="14.30" fill="#f1d67e"/>
<rect x="330.31" y="992.90" width="3.76" height="14.30" fill="#f2ce7c"/>
<rect x="334.02" y="992.90" width="3.76" height="14.30" fill="#f0c47a"/>
<rect x="337.73" y="992.90" width="3.76" height="14.30" fill="#f0ba77"/>
<rect x="341.44" y="992.90" width="3.76" height="14.30" fill="#eead75"/>
<rect x="345.15" y="992.90" width="3.76" height="14.30" fill="#eb9c72"/>
<rect x="348.86" y="992.90" width="3.76" height="14.30" fill="#e98c70"/>
<rect x="352.57" y="992.90" width="3.76" height="14.30" fill="#e7816e"/>
<rect x="356.28" y="992.90" width="3.76" height="14.30" fill="#e6776d"/>
<rect x="359.99" y="992.90" width="3.76" height="14.30" fill="#e46c6b"/>
<rect x="363.70" y="979.60" width="89.04" height="13.30" fill="#e52238"/>
<rect x="363.70" y="992.90" width="3.76" height="14.30" fill="#5aaf7a"/>
<rect x="367.41" y="992.90" width="3.76" height="14.30" fill="#5fb17a"/>
<rect x="371.12" y="992.90" width="3.76" height="14.30" fill="#64b27b"/>
<rect x="374.83" y="992.90" width="3.76" height="14.30" fill="#69b47b"/>
<rect x="378.54" y="992.90" width="3.76" height="14.30" fill="#6eb57b"/>
<rect x="382.25" y="992.90" width="3.76" height="14.30" fill="#7cba7c"/>
<rect x="385.96" y="992.90" width="3.76" height="14.30" fill="#89be7d"/>
<rect x="389.67" y="992.90" width="3.76" height="14.30" fill="#97c27e"/>
<rect x="393.38" y="992.90" width="3.76" height="14.30" fill="#a6c77f"/>
<rect x="397.09" y="992.90" width="3.76" height="14.30" fill="#b4cc80"/>
<rect x="400.80" y="992.90" width="3.76" height="14.30" fill="#c1d081"/>
<rect x="404.51" y="992.90" width="3.76" height="14.30" fill="#d1d681"/>
<rect x="408.22" y="992.90" width="3.76" height="14.30" fill="#e3dd82"/>
<rect x="411.93" y="992.90" width="3.76" height="14.30" fill="#efe082"/>
<rect x="415.64" y="992.90" width="3.76" height="14.30" fill="#f1da80"/>
<rect x="419.35" y="992.90" width="3.76" height="14.30" fill="#f2d47d"/>
<rect x="423.06" y="992.90" width="3.76" height="14.30" fill="#f1ca7b"/>
<rect x="426.77" y="992.90" width="3.76" height="14.30" fill="#f0bf78"/>
<rect x="430.48" y="992.90" width="3.76" height="14.30" fill="#efb476"/>
<rect x="434.19" y="992.90" width="3.76" height="14.30" fill="#eca273"/>
<rect x="437.90" y="992.90" width="3.76" height="14.30" fill="#ea9071"/>
<rect x="441.61" y="992.90" width="3.76" height="14.30" fill="#e8836f"/>
<rect x="445.32" y="992.90" width="3.76" height="14.30" fill="#e6786d"/>
<rect x="449.03" y="992.90" width="3.76" height="14.30" fill="#e46c6b"/>
<rect x="452.74" y="979.60" width="96.46" height="13.30" fill="#1fa0d8"/>
<rect x="452.74" y="992.90" width="3.76" height="14.30" fill="#5aaf7a"/>
<rect x="456.45" y="992.90" width="3.76" height="14.30" fill="#5eb07a"/>
<rect x="460.16" y="992.90" width="3.76" height="14.30" fill="#63b27a"/>
<rect x="463.87" y="992.90" width="3.76" height="14.30" fill="#67b37b"/>
<rect x="467.58" y="992.90" width="3.76" height="14.30" fill="#6cb57b"/>
<rect x="471.29" y="992.90" width="3.76" height="14.30" fill="#76b87c"/>
<rect x="475.00" y="992.90" width="3.76" height="14.30" fill="#83bc7d"/>
<rect x="478.71" y="992.90" width="3.76" height="14.30" fill="#8fc07e"/>
<rect x="482.42" y="992.90" width="3.76" height="14.30" fill="#9cc47e"/>
<rect x="486.13" y="992.90" width="3.76" height="14.30" fill="#aac980"/>
<rect x="489.84" y="992.90" width="3.76" height="14.30" fill="#b7cd80"/>
<rect x="493.55" y="992.90" width="3.76" height="14.30" fill="#c3d181"/>
<rect x="497.26" y="992.90" width="3.76" height="14.30" fill="#d1d681"/>
<rect x="500.97" y="992.90" width="3.76" height="14.30" fill="#e2dd82"/>
<rect x="504.68" y="992.90" width="3.76" height="14.30" fill="#efe182"/>
<rect x="508.39" y="992.90" width="3.76" height="14.30" fill="#f0db80"/>
<rect x="512.10" y="992.90" width="3.76" height="14.30" fill="#f1d67e"/>
<rect x="515.81" y="992.90" width="3.76" height="14.30" fill="#f2ce7c"/>
<rect x="519.52" y="992.90" width="3.76" height="14.30" fill="#f0c47a"/>
<rect x="523.23" y="992.90" width="3.76" height="14.30" fill="#f0ba77"/>
<rect x="526.94" y="992.90" width="3.76" height="14.30" fill="#eead75"/>
<rect x="530.65" y="992.90" width="3.76" height="14.30" fill="#eb9c72"/>
<rect x="534.36" y="992.90" width="3.76" height="14.30" fill="#e98c70"/>
<rect x="538.07" y="992.90" width="3.76" height="14.30" fill="#e7816e"/>
<rect x="541.78" y="992.90" width="3.76" height="14.30" fill="#e6776d"/>
<rect x="545.49" y="992.90" width="3.76" height="14.30" fill="#e46c6b"/>
<rect x="178.20" y="1021.00" width="4.41" height="14.37" fill="#f3e283"/>
<rect x="181.91" y="1021.00" width="4.41" height="14.37" fill="#f2ce7c"/>
<rect x="185.62" y="1021.00" width="4.41" height="14.37" fill="#f3e283"/>
<rect x="189.33" y="1021.00" width="4.41" height="14.37" fill="#50b07a"/>
<rect x="193.04" y="1021.00" width="11.83" height="14.37" fill="#f3e283"/>
<rect x="204.17" y="1021.00" width="4.41" height="14.37" fill="#50b07a"/>
<rect x="207.88" y="1021.00" width="4.41" height="14.37" fill="#e76a6a"/>
<rect x="211.59" y="1021.00" width="4.41" height="14.37" fill="#f2ce7c"/>
<rect x="215.30" y="1021.00" width="4.41" height="14.37" fill="#50b07a"/>
<rect x="219.01" y="1021.00" width="4.41" height="14.37" fill="#f3e283"/>
<rect x="222.72" y="1021.00" width="4.41" height="14.37" fill="#f2ce7c"/>
<rect x="226.43" y="1021.00" width="4.41" height="14.37" fill="#f3e283"/>
<rect x="230.14" y="1021.00" width="4.41" height="14.37" fill="#f2ce7c"/>
<rect x="233.85" y="1021.00" width="4.41" height="14.37" fill="#f0a070"/>
<rect x="237.56" y="1021.00" width="8.12" height="14.37" fill="#f3e283"/>
<rect x="244.98" y="1021.00" width="4.41" height="14.37" fill="#50b07a"/>
<rect x="248.69" y="1021.00" width="15.54" height="14.37" fill="#f3e283"/>
<rect x="263.53" y="1021.00" width="4.41" height="14.37" fill="#f2ce7c"/>
<rect x="267.24" y="1021.00" width="15.54" height="14.37" fill="#f3e283"/>
<rect x="282.08" y="1021.00" width="4.41" height="14.37" fill="#f2ce7c"/>
<rect x="285.79" y="1021.00" width="4.41" height="14.37" fill="#50b07a"/>
<rect x="289.50" y="1021.00" width="11.83" height="14.37" fill="#f3e283"/>
<rect x="300.63" y="1021.00" width="4.41" height="14.37" fill="#50b07a"/>
<rect x="304.34" y="1021.00" width="15.54" height="14.37" fill="#f3e283"/>
<rect x="319.18" y="1021.00" width="4.41" height="14.37" fill="#50b07a"/>
<rect x="322.89" y="1021.00" width="4.41" height="14.37" fill="#f3e283"/>
<rect x="326.60" y="1021.00" width="4.41" height="14.37" fill="#f2ce7c"/>
<rect x="330.31" y="1021.00" width="4.41" height="14.37" fill="#50b07a"/>
<rect x="334.02" y="1021.00" width="11.83" height="14.37" fill="#f3e283"/>
<rect x="345.15" y="1021.00" width="8.12" height="14.37" fill="#50b07a"/>
<rect x="352.57" y="1021.00" width="8.12" height="14.37" fill="#f3e283"/>
<rect x="359.99" y="1021.00" width="8.12" height="14.37" fill="#50b07a"/>
<rect x="367.41" y="1021.00" width="4.41" height="14.37" fill="#f3e283"/>
<rect x="371.12" y="1021.00" width="4.41" height="14.37" fill="#50b07a"/>
<rect x="374.83" y="1021.00" width="4.41" height="14.37" fill="#f3e283"/>
<rect x="378.54" y="1021.00" width="112.00" height="14.37" fill="#50b07a"/>
<rect x="489.84" y="1021.00" width="4.41" height="14.37" fill="#f3e283"/>
<rect x="493.55" y="1021.00" width="55.65" height="14.37" fill="#50b07a"/>
<rect x="178.20" y="1034.67" width="4.41" height="14.37" fill="#50b07a"/>
<rect x="181.91" y="1034.67" width="4.41" height="14.37" fill="#f0a070"/>
<rect x="185.62" y="1034.67" width="4.41" height="14.37" fill="#50b07a"/>
<rect x="189.33" y="1034.67" width="4.41" height="14.37" fill="#f3e283"/>
<rect x="193.04" y="1034.67" width="4.41" height="14.37" fill="#50b07a"/>
<rect x="196.75" y="1034.67" width="4.41" height="14.37" fill="#f2ce7c"/>
<rect x="200.46" y="1034.67" width="4.41" height="14.37" fill="#50b07a"/>
<rect x="204.17" y="1034.67" width="8.12" height="14.37" fill="#f3e283"/>
<rect x="211.59" y="1034.67" width="4.41" height="14.37" fill="#f0a070"/>
<rect x="215.30" y="1034.67" width="4.41" height="14.37" fill="#50b07a"/>
<rect x="219.01" y="1034.67" width="4.41" height="14.37" fill="#f3e283"/>
<rect x="222.72" y="1034.67" width="4.41" height="14.37" fill="#f0a070"/>
<rect x="226.43" y="1034.67" width="4.41" height="14.37" fill="#50b07a"/>
<rect x="230.14" y="1034.67" width="4.41" height="14.37" fill="#f3e283"/>
<rect x="233.85" y="1034.67" width="8.12" height="14.37" fill="#f2ce7c"/>
<rect x="241.27" y="1034.67" width="4.41" height="14.37" fill="#f3e283"/>
<rect x="244.98" y="1034.67" width="4.41" height="14.37" fill="#50b07a"/>
<rect x="248.69" y="1034.67" width="15.54" height="14.37" fill="#f3e283"/>
<rect x="263.53" y="1034.67" width="4.41" height="14.37" fill="#f2ce7c"/>
<rect x="267.24" y="1034.67" width="11.83" height="14.37" fill="#50b07a"/>
<rect x="278.37" y="1034.67" width="4.41" height="14.37" fill="#f0a070"/>
<rect x="282.08" y="1034.67" width="4.41" height="14.37" fill="#50b07a"/>
<rect x="285.79" y="1034.67" width="4.41" height="14.37" fill="#e76a6a"/>
<rect x="289.50" y="1034.67" width="11.83" height="14.37" fill="#f3e283"/>
<rect x="300.63" y="1034.67" width="8.12" height="14.37" fill="#50b07a"/>
<rect x="308.05" y="1034.67" width="8.12" height="14.37" fill="#f3e283"/>
<rect x="315.47" y="1034.67" width="4.41" height="14.37" fill="#50b07a"/>
<rect x="319.18" y="1034.67" width="4.41" height="14.37" fill="#f3e283"/>
<rect x="322.89" y="1034.67" width="4.41" height="14.37" fill="#f2ce7c"/>
<rect x="326.60" y="1034.67" width="4.41" height="14.37" fill="#e76a6a"/>
<rect x="330.31" y="1034.67" width="4.41" height="14.37" fill="#f3e283"/>
<rect x="334.02" y="1034.67" width="4.41" height="14.37" fill="#f2ce7c"/>
<rect x="337.73" y="1034.67" width="4.41" height="14.37" fill="#e76a6a"/>
<rect x="341.44" y="1034.67" width="4.41" height="14.37" fill="#f0a070"/>
<rect x="345.15" y="1034.67" width="19.25" height="14.37" fill="#f3e283"/>
<rect x="363.70" y="1034.67" width="8.12" height="14.37" fill="#50b07a"/>
<rect x="371.12" y="1034.67" width="4.41" height="14.37" fill="#f3e283"/>
<rect x="374.83" y="1034.67" width="15.54" height="14.37" fill="#50b07a"/>
<rect x="389.67" y="1034.67" width="4.41" height="14.37" fill="#f3e283"/>
<rect x="393.38" y="1034.67" width="8.12" height="14.37" fill="#50b07a"/>
<rect x="400.80" y="1034.67" width="4.41" height="14.37" fill="#f3e283"/>
<rect x="404.51" y="1034.67" width="4.41" height="14.37" fill="#50b07a"/>
<rect x="408.22" y="1034.67" width="8.12" height="14.37" fill="#f3e283"/>
<rect x="415.64" y="1034.67" width="11.83" height="14.37" fill="#50b07a"/>
<rect x="426.77" y="1034.67" width="4.41" height="14.37" fill="#f3e283"/>
<rect x="430.48" y="1034.67" width="4.41" height="14.37" fill="#50b07a"/>
<rect x="434.19" y="1034.67" width="4.41" height="14.37" fill="#f3e283"/>
<rect x="437.90" y="1034.67" width="37.80" height="14.37" fill="#50b07a"/>
<rect x="475.00" y="1034.67" width="11.83" height="14.37" fill="#f3e283"/>
<rect x="486.13" y="1034.67" width="4.41" height="14.37" fill="#50b07a"/>
<rect x="489.84" y="1034.67" width="4.41" height="14.37" fill="#f3e283"/>
<rect x="493.55" y="1034.67" width="55.65" height="14.37" fill="#50b07a"/>
<rect x="178.20" y="1048.33" width="11.83" height="14.37" fill="#50b07a"/>
<rect x="189.33" y="1048.33" width="4.41" height="14.37" fill="#accc7e"/>
<rect x="193.04" y="1048.33" width="4.41" height="14.37" fill="#50b07a"/>
<rect x="196.75" y="1048.33" width="4.41" height="14.37" fill="#f3e283"/>
<rect x="200.46" y="1048.33" width="4.41" height="14.37" fill="#50b07a"/>
<rect x="204.17" y="1048.33" width="4.41" height="14.37" fill="#accc7e"/>
<rect x="207.88" y="1048.33" width="8.12" height="14.37" fill="#f3e283"/>
<rect x="215.30" y="1048.33" width="8.12" height="14.37" fill="#50b07a"/>
<rect x="222.72" y="1048.33" width="4.41" height="14.37" fill="#accc7e"/>
<rect x="226.43" y="1048.33" width="8.12" height="14.37" fill="#50b07a"/>
<rect x="233.85" y="1048.33" width="8.12" height="14.37" fill="#f3e283"/>
<rect x="241.27" y="1048.33" width="15.54" height="14.37" fill="#50b07a"/>
<rect x="256.11" y="1048.33" width="4.41" height="14.37" fill="#f3e283"/>
<rect x="259.82" y="1048.33" width="4.41" height="14.37" fill="#accc7e"/>
<rect x="263.53" y="1048.33" width="8.12" height="14.37" fill="#f3e283"/>
<rect x="270.95" y="1048.33" width="15.54" height="14.37" fill="#50b07a"/>
<rect x="285.79" y="1048.33" width="4.41" height="14.37" fill="#f3e283"/>
<rect x="289.50" y="1048.33" width="8.12" height="14.37" fill="#50b07a"/>
<rect x="296.92" y="1048.33" width="4.41" height="14.37" fill="#f3e283"/>
<rect x="300.63" y="1048.33" width="4.41" height="14.37" fill="#6cb87b"/>
<rect x="304.34" y="1048.33" width="11.83" height="14.37" fill="#50b07a"/>
<rect x="315.47" y="1048.33" width="4.41" height="14.37" fill="#f3e283"/>
<rect x="319.18" y="1048.33" width="15.54" height="14.37" fill="#50b07a"/>
<rect x="334.02" y="1048.33" width="4.41" height="14.37" fill="#6cb87b"/>
<rect x="337.73" y="1048.33" width="8.12" height="14.37" fill="#50b07a"/>
<rect x="345.15" y="1048.33" width="8.12" height="14.37" fill="#f3e283"/>
<rect x="352.57" y="1048.33" width="8.12" height="14.37" fill="#50b07a"/>
<rect x="359.99" y="1048.33" width="4.41" height="14.37" fill="#f2ce7c"/>
<rect x="363.70" y="1048.33" width="8.12" height="14.37" fill="#50b07a"/>
<rect x="371.12" y="1048.33" width="4.41" height="14.37" fill="#6cb87b"/>
<rect x="374.83" y="1048.33" width="4.41" height="14.37" fill="#50b07a"/>
<rect x="378.54" y="1048.33" width="4.41" height="14.37" fill="#f0a070"/>
<rect x="382.25" y="1048.33" width="4.41" height="14.37" fill="#e76a6a"/>
<rect x="385.96" y="1048.33" width="4.41" height="14.37" fill="#f2ce7c"/>
<rect x="389.67" y="1048.33" width="4.41" height="14.37" fill="#50b07a"/>
<rect x="393.38" y="1048.33" width="8.12" height="14.37" fill="#f3e283"/>
<rect x="400.80" y="1048.33" width="4.41" height="14.37" fill="#e76a6a"/>
<rect x="404.51" y="1048.33" width="22.96" height="14.37" fill="#f3e283"/>
<rect x="426.77" y="1048.33" width="8.12" height="14.37" fill="#50b07a"/>
<rect x="434.19" y="1048.33" width="4.41" height="14.37" fill="#f3e283"/>
<rect x="437.90" y="1048.33" width="8.12" height="14.37" fill="#f2ce7c"/>
<rect x="445.32" y="1048.33" width="8.12" height="14.37" fill="#f3e283"/>
<rect x="452.74" y="1048.33" width="11.83" height="14.37" fill="#50b07a"/>
<rect x="463.87" y="1048.33" width="4.41" height="14.37" fill="#f3e283"/>
<rect x="467.58" y="1048.33" width="4.41" height="14.37" fill="#50b07a"/>
<rect x="471.29" y="1048.33" width="4.41" height="14.37" fill="#f0a070"/>
<rect x="475.00" y="1048.33" width="4.41" height="14.37" fill="#50b07a"/>
<rect x="478.71" y="1048.33" width="4.41" height="14.37" fill="#f0a070"/>
<rect x="482.42" y="1048.33" width="4.41" height="14.37" fill="#50b07a"/>
<rect x="486.13" y="1048.33" width="4.41" height="14.37" fill="#f3e283"/>
<rect x="489.84" y="1048.33" width="4.41" height="14.37" fill="#f2ce7c"/>
<rect x="493.55" y="1048.33" width="55.65" height="14.37" fill="#f3e283"/>
<rect x="178.20" y="1062.00" width="4.41" height="14.37" fill="#50b07a"/>
<rect x="181.91" y="1062.00" width="4.41" height="14.37" fill="#f0a070"/>
<rect x="185.62" y="1062.00" width="4.41" height="14.37" fill="#50b07a"/>
<rect x="189.33" y="1062.00" width="4.41" height="14.37" fill="#f3e283"/>
<rect x="193.04" y="1062.00" width="8.12" height="14.37" fill="#50b07a"/>
<rect x="200.46" y="1062.00" width="4.41" height="14.37" fill="#f3e283"/>
<rect x="204.17" y="1062.00" width="4.41" height="14.37" fill="#50b07a"/>
<rect x="207.88" y="1062.00" width="8.12" height="14.37" fill="#f3e283"/>
<rect x="215.30" y="1062.00" width="4.41" height="14.37" fill="#50b07a"/>
<rect x="219.01" y="1062.00" width="4.41" height="14.37" fill="#f3e283"/>
<rect x="222.72" y="1062.00" width="4.41" height="14.37" fill="#f0a070"/>
<rect x="226.43" y="1062.00" width="4.41" height="14.37" fill="#f2ce7c"/>
<rect x="230.14" y="1062.00" width="11.83" height="14.37" fill="#f3e283"/>
<rect x="241.27" y="1062.00" width="8.12" height="14.37" fill="#f0a070"/>
<rect x="248.69" y="1062.00" width="4.41" height="14.37" fill="#f3e283"/>
<rect x="252.40" y="1062.00" width="11.83" height="14.37" fill="#f0a070"/>
<rect x="263.53" y="1062.00" width="15.54" height="14.37" fill="#50b07a"/>
<rect x="278.37" y="1062.00" width="4.41" height="14.37" fill="#f3e283"/>
<rect x="282.08" y="1062.00" width="4.41" height="14.37" fill="#50b07a"/>
<rect x="285.79" y="1062.00" width="4.41" height="14.37" fill="#e76a6a"/>
<rect x="289.50" y="1062.00" width="11.83" height="14.37" fill="#f2ce7c"/>
<rect x="300.63" y="1062.00" width="8.12" height="14.37" fill="#50b07a"/>
<rect x="308.05" y="1062.00" width="4.41" height="14.37" fill="#f2ce7c"/>
<rect x="311.76" y="1062.00" width="4.41" height="14.37" fill="#50b07a"/>
<rect x="315.47" y="1062.00" width="4.41" height="14.37" fill="#f3e283"/>
<rect x="319.18" y="1062.00" width="4.41" height="14.37" fill="#e76a6a"/>
<rect x="322.89" y="1062.00" width="4.41" height="14.37" fill="#f0a070"/>
<rect x="326.60" y="1062.00" width="4.41" height="14.37" fill="#e76a6a"/>
<rect x="330.31" y="1062.00" width="4.41" height="14.37" fill="#f3e283"/>
<rect x="334.02" y="1062.00" width="4.41" height="14.37" fill="#f0a070"/>
<rect x="337.73" y="1062.00" width="4.41" height="14.37" fill="#accc7e"/>
<rect x="341.44" y="1062.00" width="11.83" height="14.37" fill="#f3e283"/>
<rect x="352.57" y="1062.00" width="4.41" height="14.37" fill="#f2ce7c"/>
<rect x="356.28" y="1062.00" width="4.41" height="14.37" fill="#f0a070"/>
<rect x="359.99" y="1062.00" width="4.41" height="14.37" fill="#f3e283"/>
<rect x="363.70" y="1062.00" width="41.51" height="14.37" fill="#50b07a"/>
<rect x="404.51" y="1062.00" width="4.41" height="14.37" fill="#f3e283"/>
<rect x="408.22" y="1062.00" width="4.41" height="14.37" fill="#50b07a"/>
<rect x="411.93" y="1062.00" width="4.41" height="14.37" fill="#f3e283"/>
<rect x="415.64" y="1062.00" width="15.54" height="14.37" fill="#50b07a"/>
<rect x="430.48" y="1062.00" width="8.12" height="14.37" fill="#f3e283"/>
<rect x="437.90" y="1062.00" width="4.41" height="14.37" fill="#f2ce7c"/>
<rect x="441.61" y="1062.00" width="8.12" height="14.37" fill="#f3e283"/>
<rect x="449.03" y="1062.00" width="26.67" height="14.37" fill="#50b07a"/>
<rect x="475.00" y="1062.00" width="4.41" height="14.37" fill="#f3e283"/>
<rect x="478.71" y="1062.00" width="26.67" height="14.37" fill="#50b07a"/>
<rect x="504.68" y="1062.00" width="4.41" height="14.37" fill="#f2ce7c"/>
<rect x="508.39" y="1062.00" width="8.12" height="14.37" fill="#f3e283"/>
<rect x="515.81" y="1062.00" width="4.41" height="14.37" fill="#f2ce7c"/>
<rect x="519.52" y="1062.00" width="8.12" height="14.37" fill="#50b07a"/>
<rect x="526.94" y="1062.00" width="8.12" height="14.37" fill="#f3e283"/>
<rect x="534.36" y="1062.00" width="11.83" height="14.37" fill="#50b07a"/>
<rect x="545.49" y="1062.00" width="3.71" height="14.37" fill="#f3e283"/>
<rect x="178.20" y="1075.67" width="4.41" height="14.37" fill="#f3e283"/>
<rect x="181.91" y="1075.67" width="8.12" height="14.37" fill="#50b07a"/>
<rect x="189.33" y="1075.67" width="4.41" height="14.37" fill="#f3e283"/>
<rect x="193.04" y="1075.67" width="4.41" height="14.37" fill="#50b07a"/>
<rect x="196.75" y="1075.67" width="19.25" height="14.37" fill="#f3e283"/>
<rect x="215.30" y="1075.67" width="8.12" height="14.37" fill="#50b07a"/>
<rect x="222.72" y="1075.67" width="4.41" height="14.37" fill="#accc7e"/>
<rect x="226.43" y="1075.67" width="4.41" height="14.37" fill="#f3e283"/>
<rect x="230.14" y="1075.67" width="4.41" height="14.37" fill="#50b07a"/>
<rect x="233.85" y="1075.67" width="4.41" height="14.37" fill="#f3e283"/>
<rect x="237.56" y="1075.67" width="11.83" height="14.37" fill="#50b07a"/>
<rect x="248.69" y="1075.67" width="4.41" height="14.37" fill="#6cb87b"/>
<rect x="252.40" y="1075.67" width="4.41" height="14.37" fill="#50b07a"/>
<rect x="256.11" y="1075.67" width="8.12" height="14.37" fill="#f3e283"/>
<rect x="263.53" y="1075.67" width="4.41" height="14.37" fill="#50b07a"/>
<rect x="267.24" y="1075.67" width="4.41" height="14.37" fill="#e76a6a"/>
<rect x="270.95" y="1075.67" width="15.54" height="14.37" fill="#50b07a"/>
<rect x="285.79" y="1075.67" width="4.41" height="14.37" fill="#f3e283"/>
<rect x="289.50" y="1075.67" width="4.41" height="14.37" fill="#50b07a"/>
<rect x="293.21" y="1075.67" width="8.12" height="14.37" fill="#f3e283"/>
<rect x="300.63" y="1075.67" width="34.09" height="14.37" fill="#50b07a"/>
<rect x="334.02" y="1075.67" width="4.41" height="14.37" fill="#6cb87b"/>
<rect x="337.73" y="1075.67" width="4.41" height="14.37" fill="#50b07a"/>
<rect x="341.44" y="1075.67" width="4.41" height="14.37" fill="#6cb87b"/>
<rect x="345.15" y="1075.67" width="4.41" height="14.37" fill="#f3e283"/>
<rect x="348.86" y="1075.67" width="4.41" height="14.37" fill="#50b07a"/>
<rect x="352.57" y="1075.67" width="4.41" height="14.37" fill="#f3e283"/>
<rect x="356.28" y="1075.67" width="4.41" height="14.37" fill="#accc7e"/>
<rect x="359.99" y="1075.67" width="8.12" height="14.37" fill="#50b07a"/>
<rect x="367.41" y="1075.67" width="4.41" height="14.37" fill="#e76a6a"/>
<rect x="371.12" y="1075.67" width="8.12" height="14.37" fill="#50b07a"/>
<rect x="378.54" y="1075.67" width="11.83" height="14.37" fill="#f3e283"/>
<rect x="389.67" y="1075.67" width="4.41" height="14.37" fill="#f2ce7c"/>
<rect x="393.38" y="1075.67" width="22.96" height="14.37" fill="#f3e283"/>
<rect x="415.64" y="1075.67" width="8.12" height="14.37" fill="#50b07a"/>
<rect x="423.06" y="1075.67" width="4.41" height="14.37" fill="#f2ce7c"/>
<rect x="426.77" y="1075.67" width="19.25" height="14.37" fill="#f3e283"/>
<rect x="445.32" y="1075.67" width="4.41" height="14.37" fill="#50b07a"/>
<rect x="449.03" y="1075.67" width="4.41" height="14.37" fill="#f3e283"/>
<rect x="452.74" y="1075.67" width="11.83" height="14.37" fill="#f2ce7c"/>
<rect x="463.87" y="1075.67" width="8.12" height="14.37" fill="#accc7e"/>
<rect x="471.29" y="1075.67" width="4.41" height="14.37" fill="#f3e283"/>
<rect x="475.00" y="1075.67" width="4.41" height="14.37" fill="#6cb87b"/>
<rect x="478.71" y="1075.67" width="4.41" height="14.37" fill="#f3e283"/>
<rect x="482.42" y="1075.67" width="4.41" height="14.37" fill="#50b07a"/>
<rect x="486.13" y="1075.67" width="4.41" height="14.37" fill="#accc7e"/>
<rect x="489.84" y="1075.67" width="8.12" height="14.37" fill="#f3e283"/>
<rect x="497.26" y="1075.67" width="4.41" height="14.37" fill="#50b07a"/>
<rect x="500.97" y="1075.67" width="4.41" height="14.37" fill="#accc7e"/>
<rect x="504.68" y="1075.67" width="4.41" height="14.37" fill="#f3e283"/>
<rect x="508.39" y="1075.67" width="4.41" height="14.37" fill="#6cb87b"/>
<rect x="512.10" y="1075.67" width="8.12" height="14.37" fill="#f3e283"/>
<rect x="519.52" y="1075.67" width="4.41" height="14.37" fill="#50b07a"/>
<rect x="523.23" y="1075.67" width="15.54" height="14.37" fill="#f3e283"/>
<rect x="538.07" y="1075.67" width="4.41" height="14.37" fill="#50b07a"/>
<rect x="541.78" y="1075.67" width="7.42" height="14.37" fill="#f3e283"/>
<rect x="178.20" y="1089.33" width="11.83" height="14.37" fill="#50b07a"/>
<rect x="189.33" y="1089.33" width="4.41" height="14.37" fill="#f3e283"/>
<rect x="193.04" y="1089.33" width="19.25" height="14.37" fill="#50b07a"/>
<rect x="211.59" y="1089.33" width="4.41" height="14.37" fill="#f3e283"/>
<rect x="215.30" y="1089.33" width="4.41" height="14.37" fill="#f0a070"/>
<rect x="219.01" y="1089.33" width="4.41" height="14.37" fill="#50b07a"/>
<rect x="222.72" y="1089.33" width="4.41" height="14.37" fill="#f3e283"/>
<rect x="226.43" y="1089.33" width="8.12" height="14.37" fill="#f0a070"/>
<rect x="233.85" y="1089.33" width="4.41" height="14.37" fill="#e76a6a"/>
<rect x="237.56" y="1089.33" width="4.41" height="14.37" fill="#f0a070"/>
<rect x="241.27" y="1089.33" width="4.41" height="14.37" fill="#f3e283"/>
<rect x="244.98" y="1089.33" width="4.41" height="14.37" fill="#f0a070"/>
<rect x="248.69" y="1089.33" width="4.41" height="14.37" fill="#50b07a"/>
<rect x="252.40" y="1089.33" width="4.41" height="14.37" fill="#f3e283"/>
<rect x="256.11" y="1089.33" width="4.41" height="14.37" fill="#50b07a"/>
<rect x="259.82" y="1089.33" width="8.12" height="14.37" fill="#f3e283"/>
<rect x="267.24" y="1089.33" width="19.25" height="14.37" fill="#50b07a"/>
<rect x="285.79" y="1089.33" width="4.41" height="14.37" fill="#f3e283"/>
<rect x="289.50" y="1089.33" width="4.41" height="14.37" fill="#e76a6a"/>
<rect x="293.21" y="1089.33" width="4.41" height="14.37" fill="#f3e283"/>
<rect x="296.92" y="1089.33" width="4.41" height="14.37" fill="#f2ce7c"/>
<rect x="300.63" y="1089.33" width="4.41" height="14.37" fill="#f3e283"/>
<rect x="304.34" y="1089.33" width="4.41" height="14.37" fill="#50b07a"/>
<rect x="308.05" y="1089.33" width="8.12" height="14.37" fill="#f3e283"/>
<rect x="315.47" y="1089.33" width="8.12" height="14.37" fill="#50b07a"/>
<rect x="322.89" y="1089.33" width="4.41" height="14.37" fill="#f0a070"/>
<rect x="326.60" y="1089.33" width="4.41" height="14.37" fill="#f2ce7c"/>
<rect x="330.31" y="1089.33" width="8.12" height="14.37" fill="#f3e283"/>
<rect x="337.73" y="1089.33" width="4.41" height="14.37" fill="#50b07a"/>
<rect x="341.44" y="1089.33" width="4.41" height="14.37" fill="#f0a070"/>
<rect x="345.15" y="1089.33" width="11.83" height="14.37" fill="#50b07a"/>
<rect x="356.28" y="1089.33" width="4.41" height="14.37" fill="#f3e283"/>
<rect x="359.99" y="1089.33" width="26.67" height="14.37" fill="#50b07a"/>
<rect x="385.96" y="1089.33" width="4.41" height="14.37" fill="#f3e283"/>
<rect x="389.67" y="1089.33" width="37.80" height="14.37" fill="#50b07a"/>
<rect x="426.77" y="1089.33" width="4.41" height="14.37" fill="#f3e283"/>
<rect x="430.48" y="1089.33" width="82.32" height="14.37" fill="#50b07a"/>
<rect x="512.10" y="1089.33" width="4.41" height="14.37" fill="#f3e283"/>
<rect x="515.81" y="1089.33" width="22.96" height="14.37" fill="#50b07a"/>
<rect x="538.07" y="1089.33" width="4.41" height="14.37" fill="#f0a070"/>
<rect x="541.78" y="1089.33" width="4.41" height="14.37" fill="#e76a6a"/>
<rect x="545.49" y="1089.33" width="3.71" height="14.37" fill="#50b07a"/>
<rect x="178.20" y="1103.00" width="37.80" height="14.37" fill="#50b07a"/>
<rect x="215.30" y="1103.00" width="4.41" height="14.37" fill="#f3e283"/>
<rect x="219.01" y="1103.00" width="8.12" height="14.37" fill="#50b07a"/>
<rect x="226.43" y="1103.00" width="4.41" height="14.37" fill="#f3e283"/>
<rect x="230.14" y="1103.00" width="15.54" height="14.37" fill="#50b07a"/>
<rect x="244.98" y="1103.00" width="8.12" height="14.37" fill="#f3e283"/>
<rect x="252.40" y="1103.00" width="4.41" height="14.37" fill="#50b07a"/>
<rect x="256.11" y="1103.00" width="4.41" height="14.37" fill="#f3e283"/>
<rect x="259.82" y="1103.00" width="48.93" height="14.37" fill="#50b07a"/>
<rect x="308.05" y="1103.00" width="4.41" height="14.37" fill="#f0a070"/>
<rect x="311.76" y="1103.00" width="19.25" height="14.37" fill="#50b07a"/>
<rect x="330.31" y="1103.00" width="4.41" height="14.37" fill="#f0a070"/>
<rect x="334.02" y="1103.00" width="11.83" height="14.37" fill="#50b07a"/>
<rect x="345.15" y="1103.00" width="8.12" height="14.37" fill="#f3e283"/>
<rect x="352.57" y="1103.00" width="48.93" height="14.37" fill="#50b07a"/>
<rect x="400.80" y="1103.00" width="4.41" height="14.37" fill="#f0a070"/>
<rect x="404.51" y="1103.00" width="8.12" height="14.37" fill="#50b07a"/>
<rect x="411.93" y="1103.00" width="4.41" height="14.37" fill="#e76a6a"/>
<rect x="415.64" y="1103.00" width="4.41" height="14.37" fill="#f3e283"/>
<rect x="419.35" y="1103.00" width="8.12" height="14.37" fill="#50b07a"/>
<rect x="426.77" y="1103.00" width="8.12" height="14.37" fill="#f2ce7c"/>
<rect x="434.19" y="1103.00" width="4.41" height="14.37" fill="#50b07a"/>
<rect x="437.90" y="1103.00" width="8.12" height="14.37" fill="#f3e283"/>
<rect x="445.32" y="1103.00" width="4.41" height="14.37" fill="#f0a070"/>
<rect x="449.03" y="1103.00" width="26.67" height="14.37" fill="#50b07a"/>
<rect x="475.00" y="1103.00" width="4.41" height="14.37" fill="#f3e283"/>
<rect x="478.71" y="1103.00" width="8.12" height="14.37" fill="#50b07a"/>
<rect x="486.13" y="1103.00" width="4.41" height="14.37" fill="#f3e283"/>
<rect x="489.84" y="1103.00" width="4.41" height="14.37" fill="#50b07a"/>
<rect x="493.55" y="1103.00" width="4.41" height="14.37" fill="#f3e283"/>
<rect x="497.26" y="1103.00" width="8.12" height="14.37" fill="#f0a070"/>
<rect x="504.68" y="1103.00" width="8.12" height="14.37" fill="#50b07a"/>
<rect x="512.10" y="1103.00" width="8.12" height="14.37" fill="#f3e283"/>
<rect x="519.52" y="1103.00" width="4.41" height="14.37" fill="#50b07a"/>
<rect x="523.23" y="1103.00" width="4.41" height="14.37" fill="#f3e283"/>
<rect x="526.94" y="1103.00" width="4.41" height="14.37" fill="#50b07a"/>
<rect x="530.65" y="1103.00" width="4.41" height="14.37" fill="#f2ce7c"/>
<rect x="534.36" y="1103.00" width="8.12" height="14.37" fill="#f0a070"/>
<rect x="541.78" y="1103.00" width="4.41" height="14.37" fill="#f2ce7c"/>
<rect x="545.49" y="1103.00" width="3.71" height="14.37" fill="#f3e283"/>
<rect x="178.20" y="1116.67" width="4.41" height="14.37" fill="#50b07a"/>
<rect x="181.91" y="1116.67" width="4.41" height="14.37" fill="#f2ce7c"/>
<rect x="185.62" y="1116.67" width="4.41" height="14.37" fill="#50b07a"/>
<rect x="189.33" y="1116.67" width="4.41" height="14.37" fill="#f3e283"/>
<rect x="193.04" y="1116.67" width="4.41" height="14.37" fill="#50b07a"/>
<rect x="196.75" y="1116.67" width="8.12" height="14.37" fill="#f3e283"/>
<rect x="204.17" y="1116.67" width="4.41" height="14.37" fill="#50b07a"/>
<rect x="207.88" y="1116.67" width="4.41" height="14.37" fill="#f3e283"/>
<rect x="211.59" y="1116.67" width="4.41" height="14.37" fill="#50b07a"/>
<rect x="215.30" y="1116.67" width="19.25" height="14.37" fill="#f3e283"/>
<rect x="233.85" y="1116.67" width="4.41" height="14.37" fill="#e76a6a"/>
<rect x="237.56" y="1116.67" width="4.41" height="14.37" fill="#f3e283"/>
<rect x="241.27" y="1116.67" width="4.41" height="14.37" fill="#e76a6a"/>
<rect x="244.98" y="1116.67" width="8.12" height="14.37" fill="#f3e283"/>
<rect x="252.40" y="1116.67" width="4.41" height="14.37" fill="#f2ce7c"/>
<rect x="256.11" y="1116.67" width="8.12" height="14.37" fill="#f3e283"/>
<rect x="263.53" y="1116.67" width="22.96" height="14.37" fill="#50b07a"/>
<rect x="285.79" y="1116.67" width="4.41" height="14.37" fill="#e76a6a"/>
<rect x="289.50" y="1116.67" width="4.41" height="14.37" fill="#f3e283"/>
<rect x="293.21" y="1116.67" width="4.41" height="14.37" fill="#50b07a"/>
<rect x="296.92" y="1116.67" width="4.41" height="14.37" fill="#f2ce7c"/>
<rect x="300.63" y="1116.67" width="4.41" height="14.37" fill="#50b07a"/>
<rect x="304.34" y="1116.67" width="4.41" height="14.37" fill="#f3e283"/>
<rect x="308.05" y="1116.67" width="4.41" height="14.37" fill="#50b07a"/>
<rect x="311.76" y="1116.67" width="8.12" height="14.37" fill="#f2ce7c"/>
<rect x="319.18" y="1116.67" width="19.25" height="14.37" fill="#f3e283"/>
<rect x="337.73" y="1116.67" width="8.12" height="14.37" fill="#50b07a"/>
<rect x="345.15" y="1116.67" width="4.41" height="14.37" fill="#f2ce7c"/>
<rect x="348.86" y="1116.67" width="8.12" height="14.37" fill="#f3e283"/>
<rect x="356.28" y="1116.67" width="4.41" height="14.37" fill="#f0a070"/>
<rect x="359.99" y="1116.67" width="11.83" height="14.37" fill="#50b07a"/>
<rect x="371.12" y="1116.67" width="4.41" height="14.37" fill="#f3e283"/>
<rect x="374.83" y="1116.67" width="26.67" height="14.37" fill="#50b07a"/>
<rect x="400.80" y="1116.67" width="4.41" height="14.37" fill="#e76a6a"/>
<rect x="404.51" y="1116.67" width="11.83" height="14.37" fill="#50b07a"/>
<rect x="415.64" y="1116.67" width="4.41" height="14.37" fill="#f3e283"/>
<rect x="419.35" y="1116.67" width="8.12" height="14.37" fill="#50b07a"/>
<rect x="426.77" y="1116.67" width="8.12" height="14.37" fill="#f3e283"/>
<rect x="434.19" y="1116.67" width="41.51" height="14.37" fill="#50b07a"/>
<rect x="475.00" y="1116.67" width="4.41" height="14.37" fill="#f3e283"/>
<rect x="478.71" y="1116.67" width="4.41" height="14.37" fill="#50b07a"/>
<rect x="482.42" y="1116.67" width="4.41" height="14.37" fill="#f2ce7c"/>
<rect x="486.13" y="1116.67" width="15.54" height="14.37" fill="#50b07a"/>
<rect x="500.97" y="1116.67" width="4.41" height="14.37" fill="#f2ce7c"/>
<rect x="504.68" y="1116.67" width="30.38" height="14.37" fill="#f3e283"/>
<rect x="534.36" y="1116.67" width="4.41" height="14.37" fill="#50b07a"/>
<rect x="538.07" y="1116.67" width="11.13" height="14.37" fill="#f3e283"/>
<rect x="178.20" y="1130.33" width="11.83" height="14.37" fill="#f3e283"/>
<rect x="189.33" y="1130.33" width="8.12" height="14.37" fill="#50b07a"/>
<rect x="196.75" y="1130.33" width="4.41" height="14.37" fill="#f2ce7c"/>
<rect x="200.46" y="1130.33" width="4.41" height="14.37" fill="#f0a070"/>
<rect x="204.17" y="1130.33" width="4.41" height="14.37" fill="#50b07a"/>
<rect x="207.88" y="1130.33" width="15.54" height="14.37" fill="#f3e283"/>
<rect x="222.72" y="1130.33" width="4.41" height="14.37" fill="#50b07a"/>
<rect x="226.43" y="1130.33" width="4.41" height="14.37" fill="#6cb87b"/>
<rect x="230.14" y="1130.33" width="4.41" height="14.37" fill="#50b07a"/>
<rect x="233.85" y="1130.33" width="4.41" height="14.37" fill="#accc7e"/>
<rect x="237.56" y="1130.33" width="11.83" height="14.37" fill="#50b07a"/>
<rect x="248.69" y="1130.33" width="15.54" height="14.37" fill="#f3e283"/>
<rect x="263.53" y="1130.33" width="8.12" height="14.37" fill="#50b07a"/>
<rect x="270.95" y="1130.33" width="4.41" height="14.37" fill="#6cb87b"/>
<rect x="274.66" y="1130.33" width="4.41" height="14.37" fill="#accc7e"/>
<rect x="278.37" y="1130.33" width="11.83" height="14.37" fill="#50b07a"/>
<rect x="289.50" y="1130.33" width="8.12" height="14.37" fill="#f3e283"/>
<rect x="296.92" y="1130.33" width="4.41" height="14.37" fill="#6cb87b"/>
<rect x="300.63" y="1130.33" width="8.12" height="14.37" fill="#50b07a"/>
<rect x="308.05" y="1130.33" width="4.41" height="14.37" fill="#f3e283"/>
<rect x="311.76" y="1130.33" width="4.41" height="14.37" fill="#6cb87b"/>
<rect x="315.47" y="1130.33" width="4.41" height="14.37" fill="#50b07a"/>
<rect x="319.18" y="1130.33" width="4.41" height="14.37" fill="#accc7e"/>
<rect x="322.89" y="1130.33" width="8.12" height="14.37" fill="#f3e283"/>
<rect x="330.31" y="1130.33" width="4.41" height="14.37" fill="#6cb87b"/>
<rect x="334.02" y="1130.33" width="4.41" height="14.37" fill="#accc7e"/>
<rect x="337.73" y="1130.33" width="8.12" height="14.37" fill="#f3e283"/>
<rect x="345.15" y="1130.33" width="4.41" height="14.37" fill="#6cb87b"/>
<rect x="348.86" y="1130.33" width="11.83" height="14.37" fill="#50b07a"/>
<rect x="359.99" y="1130.33" width="8.12" height="14.37" fill="#f3e283"/>
<rect x="367.41" y="1130.33" width="4.41" height="14.37" fill="#f0a070"/>
<rect x="371.12" y="1130.33" width="8.12" height="14.37" fill="#f3e283"/>
<rect x="378.54" y="1130.33" width="4.41" height="14.37" fill="#50b07a"/>
<rect x="382.25" y="1130.33" width="4.41" height="14.37" fill="#f3e283"/>
<rect x="385.96" y="1130.33" width="4.41" height="14.37" fill="#accc7e"/>
<rect x="389.67" y="1130.33" width="4.41" height="14.37" fill="#f2ce7c"/>
<rect x="393.38" y="1130.33" width="4.41" height="14.37" fill="#f3e283"/>
<rect x="397.09" y="1130.33" width="4.41" height="14.37" fill="#f2ce7c"/>
<rect x="400.80" y="1130.33" width="4.41" height="14.37" fill="#f0a070"/>
<rect x="404.51" y="1130.33" width="4.41" height="14.37" fill="#f3e283"/>
<rect x="408.22" y="1130.33" width="4.41" height="14.37" fill="#f2ce7c"/>
<rect x="411.93" y="1130.33" width="4.41" height="14.37" fill="#f3e283"/>
<rect x="415.64" y="1130.33" width="4.41" height="14.37" fill="#50b07a"/>
<rect x="419.35" y="1130.33" width="8.12" height="14.37" fill="#f3e283"/>
<rect x="426.77" y="1130.33" width="8.12" height="14.37" fill="#50b07a"/>
<rect x="434.19" y="1130.33" width="4.41" height="14.37" fill="#f3e283"/>
<rect x="437.90" y="1130.33" width="4.41" height="14.37" fill="#50b07a"/>
<rect x="441.61" y="1130.33" width="4.41" height="14.37" fill="#accc7e"/>
<rect x="445.32" y="1130.33" width="8.12" height="14.37" fill="#f3e283"/>
<rect x="452.74" y="1130.33" width="4.41" height="14.37" fill="#f0a070"/>
<rect x="456.45" y="1130.33" width="4.41" height="14.37" fill="#6cb87b"/>
<rect x="460.16" y="1130.33" width="4.41" height="14.37" fill="#accc7e"/>
<rect x="463.87" y="1130.33" width="4.41" height="14.37" fill="#50b07a"/>
<rect x="467.58" y="1130.33" width="4.41" height="14.37" fill="#f3e283"/>
<rect x="471.29" y="1130.33" width="4.41" height="14.37" fill="#f2ce7c"/>
<rect x="475.00" y="1130.33" width="4.41" height="14.37" fill="#f3e283"/>
<rect x="478.71" y="1130.33" width="4.41" height="14.37" fill="#e76a6a"/>
<rect x="482.42" y="1130.33" width="4.41" height="14.37" fill="#f3e283"/>
<rect x="486.13" y="1130.33" width="19.25" height="14.37" fill="#f2ce7c"/>
<rect x="504.68" y="1130.33" width="4.41" height="14.37" fill="#accc7e"/>
<rect x="508.39" y="1130.33" width="11.83" height="14.37" fill="#50b07a"/>
<rect x="519.52" y="1130.33" width="4.41" height="14.37" fill="#6cb87b"/>
<rect x="523.23" y="1130.33" width="4.41" height="14.37" fill="#accc7e"/>
<rect x="526.94" y="1130.33" width="4.41" height="14.37" fill="#50b07a"/>
<rect x="530.65" y="1130.33" width="11.83" height="14.37" fill="#f3e283"/>
<rect x="541.78" y="1130.33" width="7.42" height="14.37" fill="#50b07a"/>
<rect x="178.20" y="1144.00" width="4.41" height="14.37" fill="#50b07a"/>
<rect x="181.91" y="1144.00" width="4.41" height="14.37" fill="#6cb87b"/>
<rect x="185.62" y="1144.00" width="4.41" height="14.37" fill="#50b07a"/>
<rect x="189.33" y="1144.00" width="4.41" height="14.37" fill="#6cb87b"/>
<rect x="193.04" y="1144.00" width="15.54" height="14.37" fill="#50b07a"/>
<rect x="207.88" y="1144.00" width="8.12" height="14.37" fill="#6cb87b"/>
<rect x="215.30" y="1144.00" width="4.41" height="14.37" fill="#f3e283"/>
<rect x="219.01" y="1144.00" width="4.41" height="14.37" fill="#50b07a"/>
<rect x="222.72" y="1144.00" width="4.41" height="14.37" fill="#f3e283"/>
<rect x="226.43" y="1144.00" width="4.41" height="14.37" fill="#f2ce7c"/>
<rect x="230.14" y="1144.00" width="4.41" height="14.37" fill="#accc7e"/>
<rect x="233.85" y="1144.00" width="4.41" height="14.37" fill="#f3e283"/>
<rect x="237.56" y="1144.00" width="8.12" height="14.37" fill="#6cb87b"/>
<rect x="244.98" y="1144.00" width="4.41" height="14.37" fill="#f3e283"/>
<rect x="248.69" y="1144.00" width="4.41" height="14.37" fill="#f2ce7c"/>
<rect x="252.40" y="1144.00" width="4.41" height="14.37" fill="#6cb87b"/>
<rect x="256.11" y="1144.00" width="4.41" height="14.37" fill="#f2ce7c"/>
<rect x="259.82" y="1144.00" width="4.41" height="14.37" fill="#e76a6a"/>
<rect x="263.53" y="1144.00" width="4.41" height="14.37" fill="#6cb87b"/>
<rect x="267.24" y="1144.00" width="4.41" height="14.37" fill="#e76a6a"/>
<rect x="270.95" y="1144.00" width="15.54" height="14.37" fill="#50b07a"/>
<rect x="285.79" y="1144.00" width="4.41" height="14.37" fill="#f3e283"/>
<rect x="289.50" y="1144.00" width="4.41" height="14.37" fill="#6cb87b"/>
<rect x="293.21" y="1144.00" width="4.41" height="14.37" fill="#50b07a"/>
<rect x="296.92" y="1144.00" width="4.41" height="14.37" fill="#6cb87b"/>
<rect x="300.63" y="1144.00" width="8.12" height="14.37" fill="#50b07a"/>
<rect x="308.05" y="1144.00" width="4.41" height="14.37" fill="#e76a6a"/>
<rect x="311.76" y="1144.00" width="11.83" height="14.37" fill="#f3e283"/>
<rect x="322.89" y="1144.00" width="8.12" height="14.37" fill="#6cb87b"/>
<rect x="330.31" y="1144.00" width="4.41" height="14.37" fill="#f2ce7c"/>
<rect x="334.02" y="1144.00" width="11.83" height="14.37" fill="#accc7e"/>
<rect x="345.15" y="1144.00" width="8.12" height="14.37" fill="#f2ce7c"/>
<rect x="352.57" y="1144.00" width="4.41" height="14.37" fill="#50b07a"/>
<rect x="356.28" y="1144.00" width="4.41" height="14.37" fill="#accc7e"/>
<rect x="359.99" y="1144.00" width="4.41" height="14.37" fill="#f3e283"/>
<rect x="363.70" y="1144.00" width="11.83" height="14.37" fill="#50b07a"/>
<rect x="374.83" y="1144.00" width="4.41" height="14.37" fill="#e76a6a"/>
<rect x="378.54" y="1144.00" width="4.41" height="14.37" fill="#f0a070"/>
<rect x="382.25" y="1144.00" width="4.41" height="14.37" fill="#accc7e"/>
<rect x="385.96" y="1144.00" width="4.41" height="14.37" fill="#f2ce7c"/>
<rect x="389.67" y="1144.00" width="4.41" height="14.37" fill="#50b07a"/>
<rect x="393.38" y="1144.00" width="4.41" height="14.37" fill="#6cb87b"/>
<rect x="397.09" y="1144.00" width="4.41" height="14.37" fill="#f3e283"/>
<rect x="400.80" y="1144.00" width="4.41" height="14.37" fill="#e76a6a"/>
<rect x="404.51" y="1144.00" width="4.41" height="14.37" fill="#accc7e"/>
<rect x="408.22" y="1144.00" width="4.41" height="14.37" fill="#f3e283"/>
<rect x="411.93" y="1144.00" width="4.41" height="14.37" fill="#f0a070"/>
<rect x="415.64" y="1144.00" width="4.41" height="14.37" fill="#f3e283"/>
<rect x="419.35" y="1144.00" width="4.41" height="14.37" fill="#accc7e"/>
<rect x="423.06" y="1144.00" width="4.41" height="14.37" fill="#e76a6a"/>
<rect x="426.77" y="1144.00" width="4.41" height="14.37" fill="#f2ce7c"/>
<rect x="430.48" y="1144.00" width="11.83" height="14.37" fill="#f0a070"/>
<rect x="441.61" y="1144.00" width="4.41" height="14.37" fill="#e76a6a"/>
<rect x="445.32" y="1144.00" width="4.41" height="14.37" fill="#f3e283"/>
<rect x="449.03" y="1144.00" width="4.41" height="14.37" fill="#e76a6a"/>
<rect x="452.74" y="1144.00" width="11.83" height="14.37" fill="#50b07a"/>
<rect x="463.87" y="1144.00" width="4.41" height="14.37" fill="#f3e283"/>
<rect x="467.58" y="1144.00" width="4.41" height="14.37" fill="#50b07a"/>
<rect x="471.29" y="1144.00" width="4.41" height="14.37" fill="#f0a070"/>
<rect x="475.00" y="1144.00" width="4.41" height="14.37" fill="#f3e283"/>
<rect x="478.71" y="1144.00" width="4.41" height="14.37" fill="#f0a070"/>
<rect x="482.42" y="1144.00" width="4.41" height="14.37" fill="#6cb87b"/>
<rect x="486.13" y="1144.00" width="4.41" height="14.37" fill="#f3e283"/>
<rect x="489.84" y="1144.00" width="4.41" height="14.37" fill="#e76a6a"/>
<rect x="493.55" y="1144.00" width="8.12" height="14.37" fill="#f3e283"/>
<rect x="500.97" y="1144.00" width="4.41" height="14.37" fill="#f0a070"/>
<rect x="504.68" y="1144.00" width="4.41" height="14.37" fill="#f3e283"/>
<rect x="508.39" y="1144.00" width="4.41" height="14.37" fill="#50b07a"/>
<rect x="512.10" y="1144.00" width="4.41" height="14.37" fill="#f3e283"/>
<rect x="515.81" y="1144.00" width="4.41" height="14.37" fill="#e76a6a"/>
<rect x="519.52" y="1144.00" width="4.41" height="14.37" fill="#accc7e"/>
<rect x="523.23" y="1144.00" width="4.41" height="14.37" fill="#f0a070"/>
<rect x="526.94" y="1144.00" width="4.41" height="14.37" fill="#f3e283"/>
<rect x="530.65" y="1144.00" width="8.12" height="14.37" fill="#f0a070"/>
<rect x="538.07" y="1144.00" width="4.41" height="14.37" fill="#e76a6a"/>
<rect x="541.78" y="1144.00" width="4.41" height="14.37" fill="#f0a070"/>
<rect x="545.49" y="1144.00" width="3.71" height="14.37" fill="#f3e283"/>
<rect x="178.20" y="1157.67" width="11.83" height="14.37" fill="#50b07a"/>
<rect x="189.33" y="1157.67" width="4.41" height="14.37" fill="#f3e283"/>
<rect x="193.04" y="1157.67" width="22.96" height="14.37" fill="#50b07a"/>
<rect x="215.30" y="1157.67" width="4.41" height="14.37" fill="#f3e283"/>
<rect x="219.01" y="1157.67" width="8.12" height="14.37" fill="#50b07a"/>
<rect x="226.43" y="1157.67" width="4.41" height="14.37" fill="#f3e283"/>
<rect x="230.14" y="1157.67" width="4.41" height="14.37" fill="#accc7e"/>
<rect x="233.85" y="1157.67" width="4.41" height="14.37" fill="#50b07a"/>
<rect x="237.56" y="1157.67" width="30.38" height="14.37" fill="#f3e283"/>
<rect x="267.24" y="1157.67" width="19.25" height="14.37" fill="#50b07a"/>
<rect x="285.79" y="1157.67" width="4.41" height="14.37" fill="#f3e283"/>
<rect x="289.50" y="1157.67" width="22.96" height="14.37" fill="#50b07a"/>
<rect x="311.76" y="1157.67" width="8.12" height="14.37" fill="#f3e283"/>
<rect x="319.18" y="1157.67" width="4.41" height="14.37" fill="#50b07a"/>
<rect x="322.89" y="1157.67" width="8.12" height="14.37" fill="#f3e283"/>
<rect x="330.31" y="1157.67" width="4.41" height="14.37" fill="#50b07a"/>
<rect x="334.02" y="1157.67" width="8.12" height="14.37" fill="#f3e283"/>
<rect x="341.44" y="1157.67" width="4.41" height="14.37" fill="#f2ce7c"/>
<rect x="345.15" y="1157.67" width="4.41" height="14.37" fill="#f3e283"/>
<rect x="348.86" y="1157.67" width="4.41" height="14.37" fill="#50b07a"/>
<rect x="352.57" y="1157.67" width="8.12" height="14.37" fill="#f3e283"/>
<rect x="359.99" y="1157.67" width="19.25" height="14.37" fill="#50b07a"/>
<rect x="378.54" y="1157.67" width="4.41" height="14.37" fill="#e76a6a"/>
<rect x="382.25" y="1157.67" width="4.41" height="14.37" fill="#50b07a"/>
<rect x="385.96" y="1157.67" width="4.41" height="14.37" fill="#f2ce7c"/>
<rect x="389.67" y="1157.67" width="4.41" height="14.37" fill="#50b07a"/>
<rect x="393.38" y="1157.67" width="30.38" height="14.37" fill="#f3e283"/>
<rect x="423.06" y="1157.67" width="4.41" height="14.37" fill="#f2ce7c"/>
<rect x="426.77" y="1157.67" width="4.41" height="14.37" fill="#f3e283"/>
<rect x="430.48" y="1157.67" width="4.41" height="14.37" fill="#50b07a"/>
<rect x="434.19" y="1157.67" width="11.83" height="14.37" fill="#f3e283"/>
<rect x="445.32" y="1157.67" width="4.41" height="14.37" fill="#50b07a"/>
<rect x="449.03" y="1157.67" width="4.41" height="14.37" fill="#f0a070"/>
<rect x="452.74" y="1157.67" width="11.83" height="14.37" fill="#50b07a"/>
<rect x="463.87" y="1157.67" width="4.41" height="14.37" fill="#f3e283"/>
<rect x="467.58" y="1157.67" width="8.12" height="14.37" fill="#50b07a"/>
<rect x="475.00" y="1157.67" width="4.41" height="14.37" fill="#f3e283"/>
<rect x="478.71" y="1157.67" width="4.41" height="14.37" fill="#f0a070"/>
<rect x="482.42" y="1157.67" width="4.41" height="14.37" fill="#accc7e"/>
<rect x="486.13" y="1157.67" width="4.41" height="14.37" fill="#f2ce7c"/>
<rect x="489.84" y="1157.67" width="4.41" height="14.37" fill="#e76a6a"/>
<rect x="493.55" y="1157.67" width="4.41" height="14.37" fill="#50b07a"/>
<rect x="497.26" y="1157.67" width="11.83" height="14.37" fill="#f3e283"/>
<rect x="508.39" y="1157.67" width="8.12" height="14.37" fill="#50b07a"/>
<rect x="515.81" y="1157.67" width="22.96" height="14.37" fill="#f3e283"/>
<rect x="538.07" y="1157.67" width="4.41" height="14.37" fill="#accc7e"/>
<rect x="541.78" y="1157.67" width="4.41" height="14.37" fill="#f3e283"/>
<rect x="545.49" y="1157.67" width="3.71" height="14.37" fill="#50b07a"/>
<rect x="178.20" y="1171.33" width="4.41" height="13.67" fill="#50b07a"/>
<rect x="181.91" y="1171.33" width="4.41" height="13.67" fill="#f3e283"/>
<rect x="185.62" y="1171.33" width="4.41" height="13.67" fill="#50b07a"/>
<rect x="189.33" y="1171.33" width="4.41" height="13.67" fill="#f3e283"/>
<rect x="193.04" y="1171.33" width="19.25" height="13.67" fill="#50b07a"/>
<rect x="211.59" y="1171.33" width="8.12" height="13.67" fill="#f3e283"/>
<rect x="219.01" y="1171.33" width="4.41" height="13.67" fill="#50b07a"/>
<rect x="222.72" y="1171.33" width="4.41" height="13.67" fill="#f3e283"/>
<rect x="226.43" y="1171.33" width="4.41" height="13.67" fill="#f2ce7c"/>
<rect x="230.14" y="1171.33" width="4.41" height="13.67" fill="#accc7e"/>
<rect x="233.85" y="1171.33" width="11.83" height="13.67" fill="#f3e283"/>
<rect x="244.98" y="1171.33" width="4.41" height="13.67" fill="#50b07a"/>
<rect x="248.69" y="1171.33" width="4.41" height="13.67" fill="#accc7e"/>
<rect x="252.40" y="1171.33" width="4.41" height="13.67" fill="#6cb87b"/>
<rect x="256.11" y="1171.33" width="4.41" height="13.67" fill="#50b07a"/>
<rect x="259.82" y="1171.33" width="8.12" height="13.67" fill="#f3e283"/>
<rect x="267.24" y="1171.33" width="19.25" height="13.67" fill="#50b07a"/>
<rect x="285.79" y="1171.33" width="8.12" height="13.67" fill="#f3e283"/>
<rect x="293.21" y="1171.33" width="4.41" height="13.67" fill="#50b07a"/>
<rect x="296.92" y="1171.33" width="4.41" height="13.67" fill="#accc7e"/>
<rect x="300.63" y="1171.33" width="8.12" height="13.67" fill="#50b07a"/>
<rect x="308.05" y="1171.33" width="4.41" height="13.67" fill="#6cb87b"/>
<rect x="311.76" y="1171.33" width="11.83" height="13.67" fill="#f3e283"/>
<rect x="322.89" y="1171.33" width="4.41" height="13.67" fill="#50b07a"/>
<rect x="326.60" y="1171.33" width="11.83" height="13.67" fill="#f3e283"/>
<rect x="337.73" y="1171.33" width="4.41" height="13.67" fill="#accc7e"/>
<rect x="341.44" y="1171.33" width="4.41" height="13.67" fill="#f3e283"/>
<rect x="345.15" y="1171.33" width="4.41" height="13.67" fill="#accc7e"/>
<rect x="348.86" y="1171.33" width="4.41" height="13.67" fill="#f3e283"/>
<rect x="352.57" y="1171.33" width="4.41" height="13.67" fill="#50b07a"/>
<rect x="356.28" y="1171.33" width="4.41" height="13.67" fill="#f3e283"/>
<rect x="359.99" y="1171.33" width="11.83" height="13.67" fill="#50b07a"/>
<rect x="371.12" y="1171.33" width="4.41" height="13.67" fill="#f3e283"/>
<rect x="374.83" y="1171.33" width="8.12" height="13.67" fill="#50b07a"/>
<rect x="382.25" y="1171.33" width="8.12" height="13.67" fill="#f2ce7c"/>
<rect x="389.67" y="1171.33" width="4.41" height="13.67" fill="#50b07a"/>
<rect x="393.38" y="1171.33" width="8.12" height="13.67" fill="#f3e283"/>
<rect x="400.80" y="1171.33" width="4.41" height="13.67" fill="#f0a070"/>
<rect x="404.51" y="1171.33" width="4.41" height="13.67" fill="#50b07a"/>
<rect x="408.22" y="1171.33" width="15.54" height="13.67" fill="#f3e283"/>
<rect x="423.06" y="1171.33" width="4.41" height="13.67" fill="#f0a070"/>
<rect x="426.77" y="1171.33" width="22.96" height="13.67" fill="#f3e283"/>
<rect x="449.03" y="1171.33" width="4.41" height="13.67" fill="#e76a6a"/>
<rect x="452.74" y="1171.33" width="11.83" height="13.67" fill="#50b07a"/>
<rect x="463.87" y="1171.33" width="4.41" height="13.67" fill="#f3e283"/>
<rect x="467.58" y="1171.33" width="4.41" height="13.67" fill="#50b07a"/>
<rect x="471.29" y="1171.33" width="4.41" height="13.67" fill="#f0a070"/>
<rect x="475.00" y="1171.33" width="4.41" height="13.67" fill="#50b07a"/>
<rect x="478.71" y="1171.33" width="4.41" height="13.67" fill="#f3e283"/>
<rect x="482.42" y="1171.33" width="4.41" height="13.67" fill="#50b07a"/>
<rect x="486.13" y="1171.33" width="4.41" height="13.67" fill="#accc7e"/>
<rect x="489.84" y="1171.33" width="4.41" height="13.67" fill="#e76a6a"/>
<rect x="493.55" y="1171.33" width="4.41" height="13.67" fill="#accc7e"/>
<rect x="497.26" y="1171.33" width="4.41" height="13.67" fill="#6cb87b"/>
<rect x="500.97" y="1171.33" width="8.12" height="13.67" fill="#f3e283"/>
<rect x="508.39" y="1171.33" width="4.41" height="13.67" fill="#50b07a"/>
<rect x="512.10" y="1171.33" width="4.41" height="13.67" fill="#f3e283"/>
<rect x="515.81" y="1171.33" width="4.41" height="13.67" fill="#f2ce7c"/>
<rect x="519.52" y="1171.33" width="15.54" height="13.67" fill="#f3e283"/>
<rect x="534.36" y="1171.33" width="4.41" height="13.67" fill="#accc7e"/>
<rect x="538.07" y="1171.33" width="4.41" height="13.67" fill="#f3e283"/>
<rect x="541.78" y="1171.33" width="4.41" height="13.67" fill="#accc7e"/>
<rect x="545.49" y="1171.33" width="3.71" height="13.67" fill="#f3e283"/>
</svg>
<div class="t h1" style="top:-2.2px">Significant differentially abundant taxa between</div>
<div class="t h1" style="top:27.1px">ELCHO and ENDIA infants</div>
<div class="box" style="left:0px;top:80px;width:685px;height:399px"></div>
<div class="t sec" style="left:1px;top:54.02px;transform-origin:0 17.78px;transform:scaleY(1.08)">a</div>
<div class="t sec" style="left:27.5px;top:54.02px;transform-origin:0 17.78px;transform:scaleY(1.08)">Species</div>
<div class="t" style="left:234.6px;top:89.06px;font-size:20.6px">ELCHO</div>
<div class="t" style="left:412.6px;top:87.56px;font-size:20.6px">ENDIA</div>
<div class="t s" style="left:189.01px;width:80px;text-align:center;top:116.69px;font-size:8.4px;color:#1e0306">Male</div>
<div class="t s" style="left:275.51px;width:80px;text-align:center;top:116.69px;font-size:8.4px;color:#081a28">Female</div>
<div class="t s" style="left:364.41px;width:80px;text-align:center;top:116.69px;font-size:8.4px;color:#1e0306">Male</div>
<div class="t s" style="left:450.31px;width:80px;text-align:center;top:116.69px;font-size:8.4px;color:#081a28">Female</div>
<div class="t s" style="right:507.6px;top:116.34px;font-size:8.7px">Sex</div>
<div class="t s" style="right:507.6px;top:128.54px;font-size:8.7px">Age</div>
<div class="t s" style="left:14px;top:141.6px;font-size:8.6px">Species</div>
<div class="t s" style="left:555.1px;top:141.6px;font-size:8.6px">sum</div>
<div class="t s" style="left:593.7px;top:141.6px;font-size:8.6px">effect</div>
<div class="t s" style="left:623.2px;top:141.6px;font-size:8.6px">wi.eBH</div>
<div class="t s" style="left:14px;top:154.1px;font-size:8.6px">Megasphaera  spp.</div>
<div class="t s" style="right:99.2px;top:154.1px;font-size:8.6px">22,157,661</div>
<div class="t s" style="right:66.8px;top:154.1px;font-size:8.6px">-1.074</div>
<div class="t s" style="right:34.0px;top:154.1px;font-size:8.6px">0.000</div>
<div class="t s" style="left:14px;top:166.6px;font-size:8.6px">Megasphaera elsdenii</div>
<div class="t s" style="right:99.2px;top:166.6px;font-size:8.6px">3,329,110</div>
<div class="t s" style="right:66.8px;top:166.6px;font-size:8.6px">-0.948</div>
<div class="t s" style="right:34.0px;top:166.6px;font-size:8.6px">0.000</div>
<div class="t s" style="left:14px;top:179.1px;font-size:8.6px">Streptococcus lactarius</div>
<div class="t s" style="right:99.2px;top:179.1px;font-size:8.6px">4,876,487</div>
<div class="t s" style="right:66.8px;top:179.1px;font-size:8.6px">-0.944</div>
<div class="t s" style="right:34.0px;top:179.1px;font-size:8.6px">0.000</div>
<div class="t s" style="left:14px;top:191.6px;font-size:8.6px">Caecibacter  spp.</div>
<div class="t s" style="right:99.2px;top:191.6px;font-size:8.6px">800,515</div>
<div class="t s" style="right:66.8px;top:191.6px;font-size:8.6px">-0.886</div>
<div class="t s" style="right:34.0px;top:191.6px;font-size:8.6px">0.000</div>
<div class="t s" style="left:14px;top:204.2px;font-size:8.6px">Megasphaera stantonii</div>
<div class="t s" style="right:99.2px;top:204.2px;font-size:8.6px">1,009,519</div>
<div class="t s" style="right:66.8px;top:204.2px;font-size:8.6px">-0.881</div>
<div class="t s" style="right:34.0px;top:204.2px;font-size:8.6px">0.001</div>
<div class="t s" style="left:14px;top:216.7px;font-size:8.6px">Megasphaera cerevisiae</div>
<div class="t s" style="right:99.2px;top:216.7px;font-size:8.6px">66,290</div>
<div class="t s" style="right:66.8px;top:216.7px;font-size:8.6px">-0.838</div>
<div class="t s" style="right:34.0px;top:216.7px;font-size:8.6px">0.001</div>
<div class="t s" style="left:14px;top:229.2px;font-size:8.6px">Parolsenella catena</div>
<div class="t s" style="right:99.2px;top:229.2px;font-size:8.6px">247,000</div>
<div class="t s" style="right:66.8px;top:229.2px;font-size:8.6px">-0.807</div>
<div class="t s" style="right:34.0px;top:229.2px;font-size:8.6px">0.002</div>
<div class="t s" style="left:14px;top:241.7px;font-size:8.6px">Intestinibacter bartlettii</div>
<div class="t s" style="right:99.2px;top:241.7px;font-size:8.6px">478,259</div>
<div class="t s" style="right:66.8px;top:241.7px;font-size:8.6px">0.788</div>
<div class="t s" style="right:34.0px;top:241.7px;font-size:8.6px">0.001</div>
<div class="t s" style="left:14px;top:254.2px;font-size:8.6px">Caecibacter hominis</div>
<div class="t s" style="right:99.2px;top:254.2px;font-size:8.6px">126,381</div>
<div class="t s" style="right:66.8px;top:254.2px;font-size:8.6px">-0.777</div>
<div class="t s" style="right:34.0px;top:254.2px;font-size:8.6px">0.002</div>
<div class="t s" style="left:14px;top:266.7px;font-size:8.6px">Clostridium AQ innocuum</div>
<div class="t s" style="right:99.2px;top:266.7px;font-size:8.6px">2,953,116</div>
<div class="t s" style="right:66.8px;top:266.7px;font-size:8.6px">0.743</div>
<div class="t s" style="right:34.0px;top:266.7px;font-size:8.6px">0.002</div>
<div class="t s" style="left:14px;top:279.3px;font-size:8.6px">Ruminococcus B</div>
<div class="t s" style="right:99.2px;top:279.3px;font-size:8.6px">997,236</div>
<div class="t s" style="right:66.8px;top:279.3px;font-size:8.6px">0.711</div>
<div class="t s" style="right:34.0px;top:279.3px;font-size:8.6px">0.002</div>
<div class="t s" style="left:14px;top:291.8px;font-size:8.6px">Dialister  spp.</div>
<div class="t s" style="right:99.2px;top:291.8px;font-size:8.6px">2,382,052</div>
<div class="t s" style="right:66.8px;top:291.8px;font-size:8.6px">-0.690</div>
<div class="t s" style="right:34.0px;top:291.8px;font-size:8.6px">0.002</div>
<div class="t s" style="left:14px;top:304.3px;font-size:8.6px">Streptococcus  spp.</div>
<div class="t s" style="right:99.2px;top:304.3px;font-size:8.6px">5,677,305</div>
<div class="t s" style="right:66.8px;top:304.3px;font-size:8.6px">-0.689</div>
<div class="t s" style="right:34.0px;top:304.3px;font-size:8.6px">0.000</div>
<div class="t s" style="left:14px;top:316.8px;font-size:8.6px">Ruminococcus B gnavus</div>
<div class="t s" style="right:99.2px;top:316.8px;font-size:8.6px">14,190,013</div>
<div class="t s" style="right:66.8px;top:316.8px;font-size:8.6px">0.678</div>
<div class="t s" style="right:34.0px;top:316.8px;font-size:8.6px">0.001</div>
<div class="t s" style="left:14px;top:329.3px;font-size:8.6px">Bifidobacterium jacchi</div>
<div class="t s" style="right:99.2px;top:329.3px;font-size:8.6px">135,113</div>
<div class="t s" style="right:66.8px;top:329.3px;font-size:8.6px">-0.666</div>
<div class="t s" style="right:34.0px;top:329.3px;font-size:8.6px">0.001</div>
<div class="t s" style="left:14px;top:341.9px;font-size:8.6px">Mediterraneibacter excrementigallinarum</div>
<div class="t s" style="right:99.2px;top:341.9px;font-size:8.6px">24,913</div>
<div class="t s" style="right:66.8px;top:341.9px;font-size:8.6px">0.638</div>
<div class="t s" style="right:34.0px;top:341.9px;font-size:8.6px">0.001</div>
<div class="t s" style="left:14px;top:354.4px;font-size:8.6px">Parolsenella uli B</div>
<div class="t s" style="right:99.2px;top:354.4px;font-size:8.6px">12,203,195</div>
<div class="t s" style="right:66.8px;top:354.4px;font-size:8.6px">-0.638</div>
<div class="t s" style="right:34.0px;top:354.4px;font-size:8.6px">0.004</div>
<div class="t s" style="left:14px;top:366.9px;font-size:8.6px">Collinsella  spp.</div>
<div class="t s" style="right:99.2px;top:366.9px;font-size:8.6px">3,809,416</div>
<div class="t s" style="right:66.8px;top:366.9px;font-size:8.6px">-0.626</div>
<div class="t s" style="right:34.0px;top:366.9px;font-size:8.6px">0.005</div>
<div class="t s" style="left:14px;top:379.4px;font-size:8.6px">Bifidobacterium scardovii</div>
<div class="t s" style="right:99.2px;top:379.4px;font-size:8.6px">690,695</div>
<div class="t s" style="right:66.8px;top:379.4px;font-size:8.6px">-0.623</div>
<div class="t s" style="right:34.0px;top:379.4px;font-size:8.6px">0.002</div>
<div class="t s" style="left:14px;top:391.9px;font-size:8.6px">Bifidobacterium xylocopae</div>
<div class="t s" style="right:99.2px;top:391.9px;font-size:8.6px">10,789</div>
<div class="t s" style="right:66.8px;top:391.9px;font-size:8.6px">-0.621</div>
<div class="t s" style="right:34.0px;top:391.9px;font-size:8.6px">0.002</div>
<div class="t s" style="left:14px;top:404.5px;font-size:8.6px">Erysipelatoclostridium merdavium</div>
<div class="t s" style="right:99.2px;top:404.5px;font-size:8.6px">167,424</div>
<div class="t s" style="right:66.8px;top:404.5px;font-size:8.6px">0.605</div>
<div class="t s" style="right:34.0px;top:404.5px;font-size:8.6px">0.005</div>
<div class="t s" style="left:14px;top:417.0px;font-size:8.6px">Bifidobacterium pullorum C</div>
<div class="t s" style="right:99.2px;top:417.0px;font-size:8.6px">43,845</div>
<div class="t s" style="right:66.8px;top:417.0px;font-size:8.6px">-0.604</div>
<div class="t s" style="right:34.0px;top:417.0px;font-size:8.6px">0.004</div>
<div class="t s" style="left:14px;top:429.5px;font-size:8.6px">Muricomes oroticus</div>
<div class="t s" style="right:99.2px;top:429.5px;font-size:8.6px">15,008</div>
<div class="t s" style="right:66.8px;top:429.5px;font-size:8.6px">0.597</div>
<div class="t s" style="right:34.0px;top:429.5px;font-size:8.6px">0.011</div>
<div class="t s" style="left:14px;top:442.0px;font-size:8.6px">Faecalibacillus  spp.</div>
<div class="t s" style="right:99.2px;top:442.0px;font-size:8.6px">26,252</div>
<div class="t s" style="right:66.8px;top:442.0px;font-size:8.6px">0.595</div>
<div class="t s" style="right:34.0px;top:442.0px;font-size:8.6px">0.008</div>
<div class="t s" style="left:14px;top:454.5px;font-size:8.6px">Bifidobacterium pullorum B</div>
<div class="t s" style="right:99.2px;top:454.5px;font-size:8.6px">188,679</div>
<div class="t s" style="right:66.8px;top:454.5px;font-size:8.6px">-0.595</div>
<div class="t s" style="right:34.0px;top:454.5px;font-size:8.6px">0.003</div>
<div class="box" style="left:0px;top:515px;width:685px;height:398px"></div>
<div class="t sec" style="left:1px;top:488.52px;transform-origin:0 17.78px;transform:scaleY(1.08)">b</div>
<div class="t sec" style="left:27.5px;top:488.52px;transform-origin:0 17.78px;transform:scaleY(1.08)">Genus</div>
<div class="t" style="left:233.6px;top:523.23px;font-size:20.4px">ELCHO</div>
<div class="t" style="right:207.6px;top:522.43px;font-size:20.4px">ENDIA</div>
<div class="t s" style="left:190.30px;width:80px;text-align:center;top:549.39px;font-size:8.4px;color:#1e0306">Male</div>
<div class="t s" style="left:278.03px;width:80px;text-align:center;top:549.39px;font-size:8.4px;color:#081a28">Female</div>
<div class="t s" style="left:368.15px;width:80px;text-align:center;top:549.39px;font-size:8.4px;color:#1e0306">Male</div>
<div class="t s" style="left:455.28px;width:80px;text-align:center;top:549.39px;font-size:8.4px;color:#081a28">Female</div>
<div class="t s" style="right:507.6px;top:549.04px;font-size:8.7px">Sex</div>
<div class="t s" style="right:507.6px;top:561.94px;font-size:8.7px">Age</div>
<div class="t s" style="left:12.6px;top:575.0px;font-size:8.6px">Genus</div>
<div class="t s" style="left:560.7px;top:575.0px;font-size:8.6px">sum</div>
<div class="t s" style="left:601.0px;top:575.0px;font-size:8.6px">effect</div>
<div class="t s" style="left:631.4px;top:575.0px;font-size:8.6px">wi.eBH</div>
<div class="t s" style="left:12.6px;top:587.2px;font-size:8.6px">Megasphaera</div>
<div class="t s" style="right:93.2px;top:587.2px;font-size:8.6px">27,107,383</div>
<div class="t s" style="right:59.3px;top:587.2px;font-size:8.6px">-1.074</div>
<div class="t s" style="right:25.4px;top:587.2px;font-size:8.6px">0.000</div>
<div class="t s" style="left:12.6px;top:599.9px;font-size:8.6px">Caecibacter</div>
<div class="t s" style="right:93.2px;top:599.9px;font-size:8.6px">999,502</div>
<div class="t s" style="right:59.3px;top:599.9px;font-size:8.6px">-0.956</div>
<div class="t s" style="right:25.4px;top:599.9px;font-size:8.6px">0.000</div>
<div class="t s" style="left:12.6px;top:612.5px;font-size:8.6px">Parolsenella</div>
<div class="t s" style="right:93.2px;top:612.5px;font-size:8.6px">13,776,809</div>
<div class="t s" style="right:59.3px;top:612.5px;font-size:8.6px">-0.876</div>
<div class="t s" style="right:25.4px;top:612.5px;font-size:8.6px">0.000</div>
<div class="t s" style="left:12.6px;top:625.2px;font-size:8.6px">Prevotella</div>
<div class="t s" style="right:93.2px;top:625.2px;font-size:8.6px">96,371,199</div>
<div class="t s" style="right:59.3px;top:625.2px;font-size:8.6px">-0.828</div>
<div class="t s" style="right:25.4px;top:625.2px;font-size:8.6px">0.000</div>
<div class="t s" style="left:12.6px;top:637.9px;font-size:8.6px">Intestinibacter</div>
<div class="t s" style="right:93.2px;top:637.9px;font-size:8.6px">590,995</div>
<div class="t s" style="right:59.3px;top:637.9px;font-size:8.6px">0.778</div>
<div class="t s" style="right:25.4px;top:637.9px;font-size:8.6px">0.000</div>
<div class="t s" style="left:12.6px;top:650.6px;font-size:8.6px">Allisonella</div>
<div class="t s" style="right:93.2px;top:650.6px;font-size:8.6px">167,388</div>
<div class="t s" style="right:59.3px;top:650.6px;font-size:8.6px">-0.627</div>
<div class="t s" style="right:25.4px;top:650.6px;font-size:8.6px">0.005</div>
<div class="t s" style="left:12.6px;top:663.3px;font-size:8.6px">Sellimonas</div>
<div class="t s" style="right:93.2px;top:663.3px;font-size:8.6px">372,362</div>
<div class="t s" style="right:59.3px;top:663.3px;font-size:8.6px">0.6</div>
<div class="t s" style="right:25.4px;top:663.3px;font-size:8.6px">0.004</div>
<div class="t s" style="left:12.6px;top:676.0px;font-size:8.6px">Ruminococcus</div>
<div class="t s" style="right:93.2px;top:676.0px;font-size:8.6px">19,532,441</div>
<div class="t s" style="right:59.3px;top:676.0px;font-size:8.6px">0.586</div>
<div class="t s" style="right:25.4px;top:676.0px;font-size:8.6px">0.000</div>
<div class="t s" style="left:12.6px;top:688.7px;font-size:8.6px">Dialister</div>
<div class="t s" style="right:93.2px;top:688.7px;font-size:8.6px">2,989,638</div>
<div class="t s" style="right:59.3px;top:688.7px;font-size:8.6px">-0.585</div>
<div class="t s" style="right:25.4px;top:688.7px;font-size:8.6px">0.004</div>
<div class="t s" style="left:12.6px;top:701.4px;font-size:8.6px">Romboutsia</div>
<div class="t s" style="right:93.2px;top:701.4px;font-size:8.6px">373,225</div>
<div class="t s" style="right:59.3px;top:701.4px;font-size:8.6px">0.559</div>
<div class="t s" style="right:25.4px;top:701.4px;font-size:8.6px">0.011</div>
<div class="t s" style="left:12.6px;top:714.0px;font-size:8.6px">Alloscardovia</div>
<div class="t s" style="right:93.2px;top:714.0px;font-size:8.6px">33,712</div>
<div class="t s" style="right:59.3px;top:714.0px;font-size:8.6px">-0.547</div>
<div class="t s" style="right:25.4px;top:714.0px;font-size:8.6px">0.002</div>
<div class="t s" style="left:12.6px;top:726.7px;font-size:8.6px">Faecalimonas</div>
<div class="t s" style="right:93.2px;top:726.7px;font-size:8.6px">1,282,007</div>
<div class="t s" style="right:59.3px;top:726.7px;font-size:8.6px">0.531</div>
<div class="t s" style="right:25.4px;top:726.7px;font-size:8.6px">0.010</div>
<div class="t s" style="left:12.6px;top:739.4px;font-size:8.6px">Thermophilibacter</div>
<div class="t s" style="right:93.2px;top:739.4px;font-size:8.6px">19,325</div>
<div class="t s" style="right:59.3px;top:739.4px;font-size:8.6px">-0.516</div>
<div class="t s" style="right:25.4px;top:739.4px;font-size:8.6px">0.012</div>
<div class="t s" style="left:12.6px;top:752.1px;font-size:8.6px">Muricomes</div>
<div class="t s" style="right:93.2px;top:752.1px;font-size:8.6px">170,240</div>
<div class="t s" style="right:59.3px;top:752.1px;font-size:8.6px">0.512</div>
<div class="t s" style="right:25.4px;top:752.1px;font-size:8.6px">0.018</div>
<div class="t s" style="left:12.6px;top:764.8px;font-size:8.6px">Clostridium</div>
<div class="t s" style="right:93.2px;top:764.8px;font-size:8.6px">34,196,353</div>
<div class="t s" style="right:59.3px;top:764.8px;font-size:8.6px">0.501</div>
<div class="t s" style="right:25.4px;top:764.8px;font-size:8.6px">0.000</div>
<div class="t s" style="left:12.6px;top:777.5px;font-size:8.6px">Paratractidigestivibacter</div>
<div class="t s" style="right:93.2px;top:777.5px;font-size:8.6px">157,228</div>
<div class="t s" style="right:59.3px;top:777.5px;font-size:8.6px">-0.494</div>
<div class="t s" style="right:25.4px;top:777.5px;font-size:8.6px">0.017</div>
<div class="t s" style="left:12.6px;top:790.2px;font-size:8.6px">Ventrimonas</div>
<div class="t s" style="right:93.2px;top:790.2px;font-size:8.6px">295,635</div>
<div class="t s" style="right:59.3px;top:790.2px;font-size:8.6px">0.491</div>
<div class="t s" style="right:25.4px;top:790.2px;font-size:8.6px">0.014</div>
<div class="t s" style="left:12.6px;top:802.9px;font-size:8.6px">UBA9414</div>
<div class="t s" style="right:93.2px;top:802.9px;font-size:8.6px">25,248</div>
<div class="t s" style="right:59.3px;top:802.9px;font-size:8.6px">0.479</div>
<div class="t s" style="right:25.4px;top:802.9px;font-size:8.6px">0.010</div>
<div class="t s" style="left:12.6px;top:815.6px;font-size:8.6px">Hespellia</div>
<div class="t s" style="right:93.2px;top:815.6px;font-size:8.6px">20,309</div>
<div class="t s" style="right:59.3px;top:815.6px;font-size:8.6px">0.478</div>
<div class="t s" style="right:25.4px;top:815.6px;font-size:8.6px">0.006</div>
<div class="t s" style="left:12.6px;top:828.2px;font-size:8.6px">Acidaminococcus</div>
<div class="t s" style="right:93.2px;top:828.2px;font-size:8.6px">1,436,987</div>
<div class="t s" style="right:59.3px;top:828.2px;font-size:8.6px">-0.456</div>
<div class="t s" style="right:25.4px;top:828.2px;font-size:8.6px">0.018</div>
<div class="t s" style="left:12.6px;top:840.9px;font-size:8.6px">UBA7748</div>
<div class="t s" style="right:93.2px;top:840.9px;font-size:8.6px">2,729</div>
<div class="t s" style="right:59.3px;top:840.9px;font-size:8.6px">-0.449</div>
<div class="t s" style="right:25.4px;top:840.9px;font-size:8.6px">0.042</div>
<div class="t s" style="left:12.6px;top:853.6px;font-size:8.6px">Erysipelatoclostridium</div>
<div class="t s" style="right:93.2px;top:853.6px;font-size:8.6px">3,541,223</div>
<div class="t s" style="right:59.3px;top:853.6px;font-size:8.6px">0.443</div>
<div class="t s" style="right:25.4px;top:853.6px;font-size:8.6px">0.018</div>
<div class="t s" style="left:12.6px;top:866.3px;font-size:8.6px">Olsenella</div>
<div class="t s" style="right:93.2px;top:866.3px;font-size:8.6px">32,104</div>
<div class="t s" style="right:59.3px;top:866.3px;font-size:8.6px">-0.434</div>
<div class="t s" style="right:25.4px;top:866.3px;font-size:8.6px">0.036</div>
<div class="t s" style="left:12.6px;top:879.0px;font-size:8.6px">Aeriscardovia</div>
<div class="t s" style="right:93.2px;top:879.0px;font-size:8.6px">9,846</div>
<div class="t s" style="right:59.3px;top:879.0px;font-size:8.6px">-0.426</div>
<div class="t s" style="right:25.4px;top:879.0px;font-size:8.6px">0.026</div>
<div class="t s" style="left:12.6px;top:891.7px;font-size:8.6px">Coriobacterium</div>
<div class="t s" style="right:93.2px;top:891.7px;font-size:8.6px">3,461</div>
<div class="t s" style="right:59.3px;top:891.7px;font-size:8.6px">-0.424</div>
<div class="t s" style="right:25.4px;top:891.7px;font-size:8.6px">0.037</div>
<div class="box" style="left:0px;top:951px;width:684px;height:248px"></div>
<div class="t sec" style="left:1px;top:923.02px;transform-origin:0 17.78px;transform:scaleY(1.08)">c</div>
<div class="t sec" style="left:27.5px;top:923.02px;transform-origin:0 17.78px;transform:scaleY(1.08)">Family</div>
<div class="t" style="left:233.6px;top:957.35px;font-size:20.5px">ELCHO</div>
<div class="t" style="right:202.2px;top:955.55px;font-size:20.5px">ENDIA</div>
<div class="t s" style="left:190.42px;width:80px;text-align:center;top:983.79px;font-size:8.4px;color:#1e0306">Male</div>
<div class="t s" style="left:280.27px;width:80px;text-align:center;top:983.79px;font-size:8.4px;color:#081a28">Female</div>
<div class="t s" style="left:372.52px;width:80px;text-align:center;top:983.79px;font-size:8.4px;color:#1e0306">Male</div>
<div class="t s" style="left:461.77px;width:80px;text-align:center;top:983.79px;font-size:8.4px;color:#081a28">Female</div>
<div class="t s" style="right:507.6px;top:983.44px;font-size:8.7px">Sex</div>
<div class="t s" style="right:507.6px;top:997.14px;font-size:8.7px">Age</div>
<div class="t s" style="left:8px;top:1010.6px;font-size:9.0px">Family</div>
<div class="t s" style="left:571.8px;top:1010.6px;font-size:9.0px">sum</div>
<div class="t s" style="left:614.1px;top:1010.6px;font-size:9.0px">effect</div>
<div class="t s" style="left:644.4px;top:1010.6px;font-size:9.0px">wi.eBH</div>
<div class="t s" style="left:8px;top:1023.9px;font-size:9.0px">Atopobiaceae</div>
<div class="t s" style="right:79.4px;top:1023.9px;font-size:9.0px">14,173,054</div>
<div class="t s" style="right:46.1px;top:1023.9px;font-size:9.0px">-1.21</div>
<div class="t s" style="right:11.0px;top:1023.9px;font-size:9.0px">0.000</div>
<div class="t s" style="left:8px;top:1037.5px;font-size:9.0px">Megasphaeraceae</div>
<div class="t s" style="right:79.4px;top:1037.5px;font-size:9.0px">29,394,647</div>
<div class="t s" style="right:46.1px;top:1037.5px;font-size:9.0px">-0.87</div>
<div class="t s" style="right:11.0px;top:1037.5px;font-size:9.0px">0.000</div>
<div class="t s" style="left:8px;top:1051.2px;font-size:9.0px">Peptostreptococcaceae</div>
<div class="t s" style="right:79.4px;top:1051.2px;font-size:9.0px">4,867,552</div>
<div class="t s" style="right:46.1px;top:1051.2px;font-size:9.0px">0.735</div>
<div class="t s" style="right:11.0px;top:1051.2px;font-size:9.0px">0.000</div>
<div class="t s" style="left:8px;top:1064.9px;font-size:9.0px">Dialisteraceae</div>
<div class="t s" style="right:79.4px;top:1064.9px;font-size:9.0px">3,157,026</div>
<div class="t s" style="right:46.1px;top:1064.9px;font-size:9.0px">-0.68</div>
<div class="t s" style="right:11.0px;top:1064.9px;font-size:9.0px">0.001</div>
<div class="t s" style="left:8px;top:1078.5px;font-size:9.0px">Clostridiaceae</div>
<div class="t s" style="right:79.4px;top:1078.5px;font-size:9.0px">28,103,732</div>
<div class="t s" style="right:46.1px;top:1078.5px;font-size:9.0px">0.631</div>
<div class="t s" style="right:11.0px;top:1078.5px;font-size:9.0px">0.000</div>
<div class="t s" style="left:8px;top:1092.2px;font-size:9.0px">Acidaminococcaceae</div>
<div class="t s" style="right:79.4px;top:1092.2px;font-size:9.0px">2,273,708</div>
<div class="t s" style="right:46.1px;top:1092.2px;font-size:9.0px">-0.54</div>
<div class="t s" style="right:11.0px;top:1092.2px;font-size:9.0px">0.010</div>
<div class="t s" style="left:8px;top:1105.9px;font-size:9.0px">UBA1381</div>
<div class="t s" style="right:79.4px;top:1105.9px;font-size:9.0px">959,409</div>
<div class="t s" style="right:46.1px;top:1105.9px;font-size:9.0px">0.422</div>
<div class="t s" style="right:11.0px;top:1105.9px;font-size:9.0px">0.009</div>
<div class="t s" style="left:8px;top:1119.5px;font-size:9.0px">Coriobacteriaceae</div>
<div class="t s" style="right:79.4px;top:1119.5px;font-size:9.0px">4,037,490</div>
<div class="t s" style="right:46.1px;top:1119.5px;font-size:9.0px">-0.4</div>
<div class="t s" style="right:11.0px;top:1119.5px;font-size:9.0px">0.015</div>
<div class="t s" style="left:8px;top:1133.2px;font-size:9.0px">Veillonellaceae</div>
<div class="t s" style="right:79.4px;top:1133.2px;font-size:9.0px">22,567,211</div>
<div class="t s" style="right:46.1px;top:1133.2px;font-size:9.0px">0.346</div>
<div class="t s" style="right:11.0px;top:1133.2px;font-size:9.0px">0.019</div>
<div class="t s" style="left:8px;top:1146.9px;font-size:9.0px">Lachnospiraceae</div>
<div class="t s" style="right:79.4px;top:1146.9px;font-size:9.0px">109,841,135</div>
<div class="t s" style="right:46.1px;top:1146.9px;font-size:9.0px">0.33</div>
<div class="t s" style="right:11.0px;top:1146.9px;font-size:9.0px">0.000</div>
<div class="t s" style="left:8px;top:1160.5px;font-size:9.0px">Erysipelotrichaceae</div>
<div class="t s" style="right:79.4px;top:1160.5px;font-size:9.0px">4,901,853</div>
<div class="t s" style="right:46.1px;top:1160.5px;font-size:9.0px">0.313</div>
<div class="t s" style="right:11.0px;top:1160.5px;font-size:9.0px">0.020</div>
<div class="t s" style="left:8px;top:1174.2px;font-size:9.0px">Coprobacillaceae</div>
<div class="t s" style="right:79.4px;top:1174.2px;font-size:9.0px">4,601,639</div>
<div class="t s" style="right:46.1px;top:1174.2px;font-size:9.0px">0.303</div>
<div class="t s" style="right:11.0px;top:1174.2px;font-size:9.0px">0.003</div>
</body></html>
